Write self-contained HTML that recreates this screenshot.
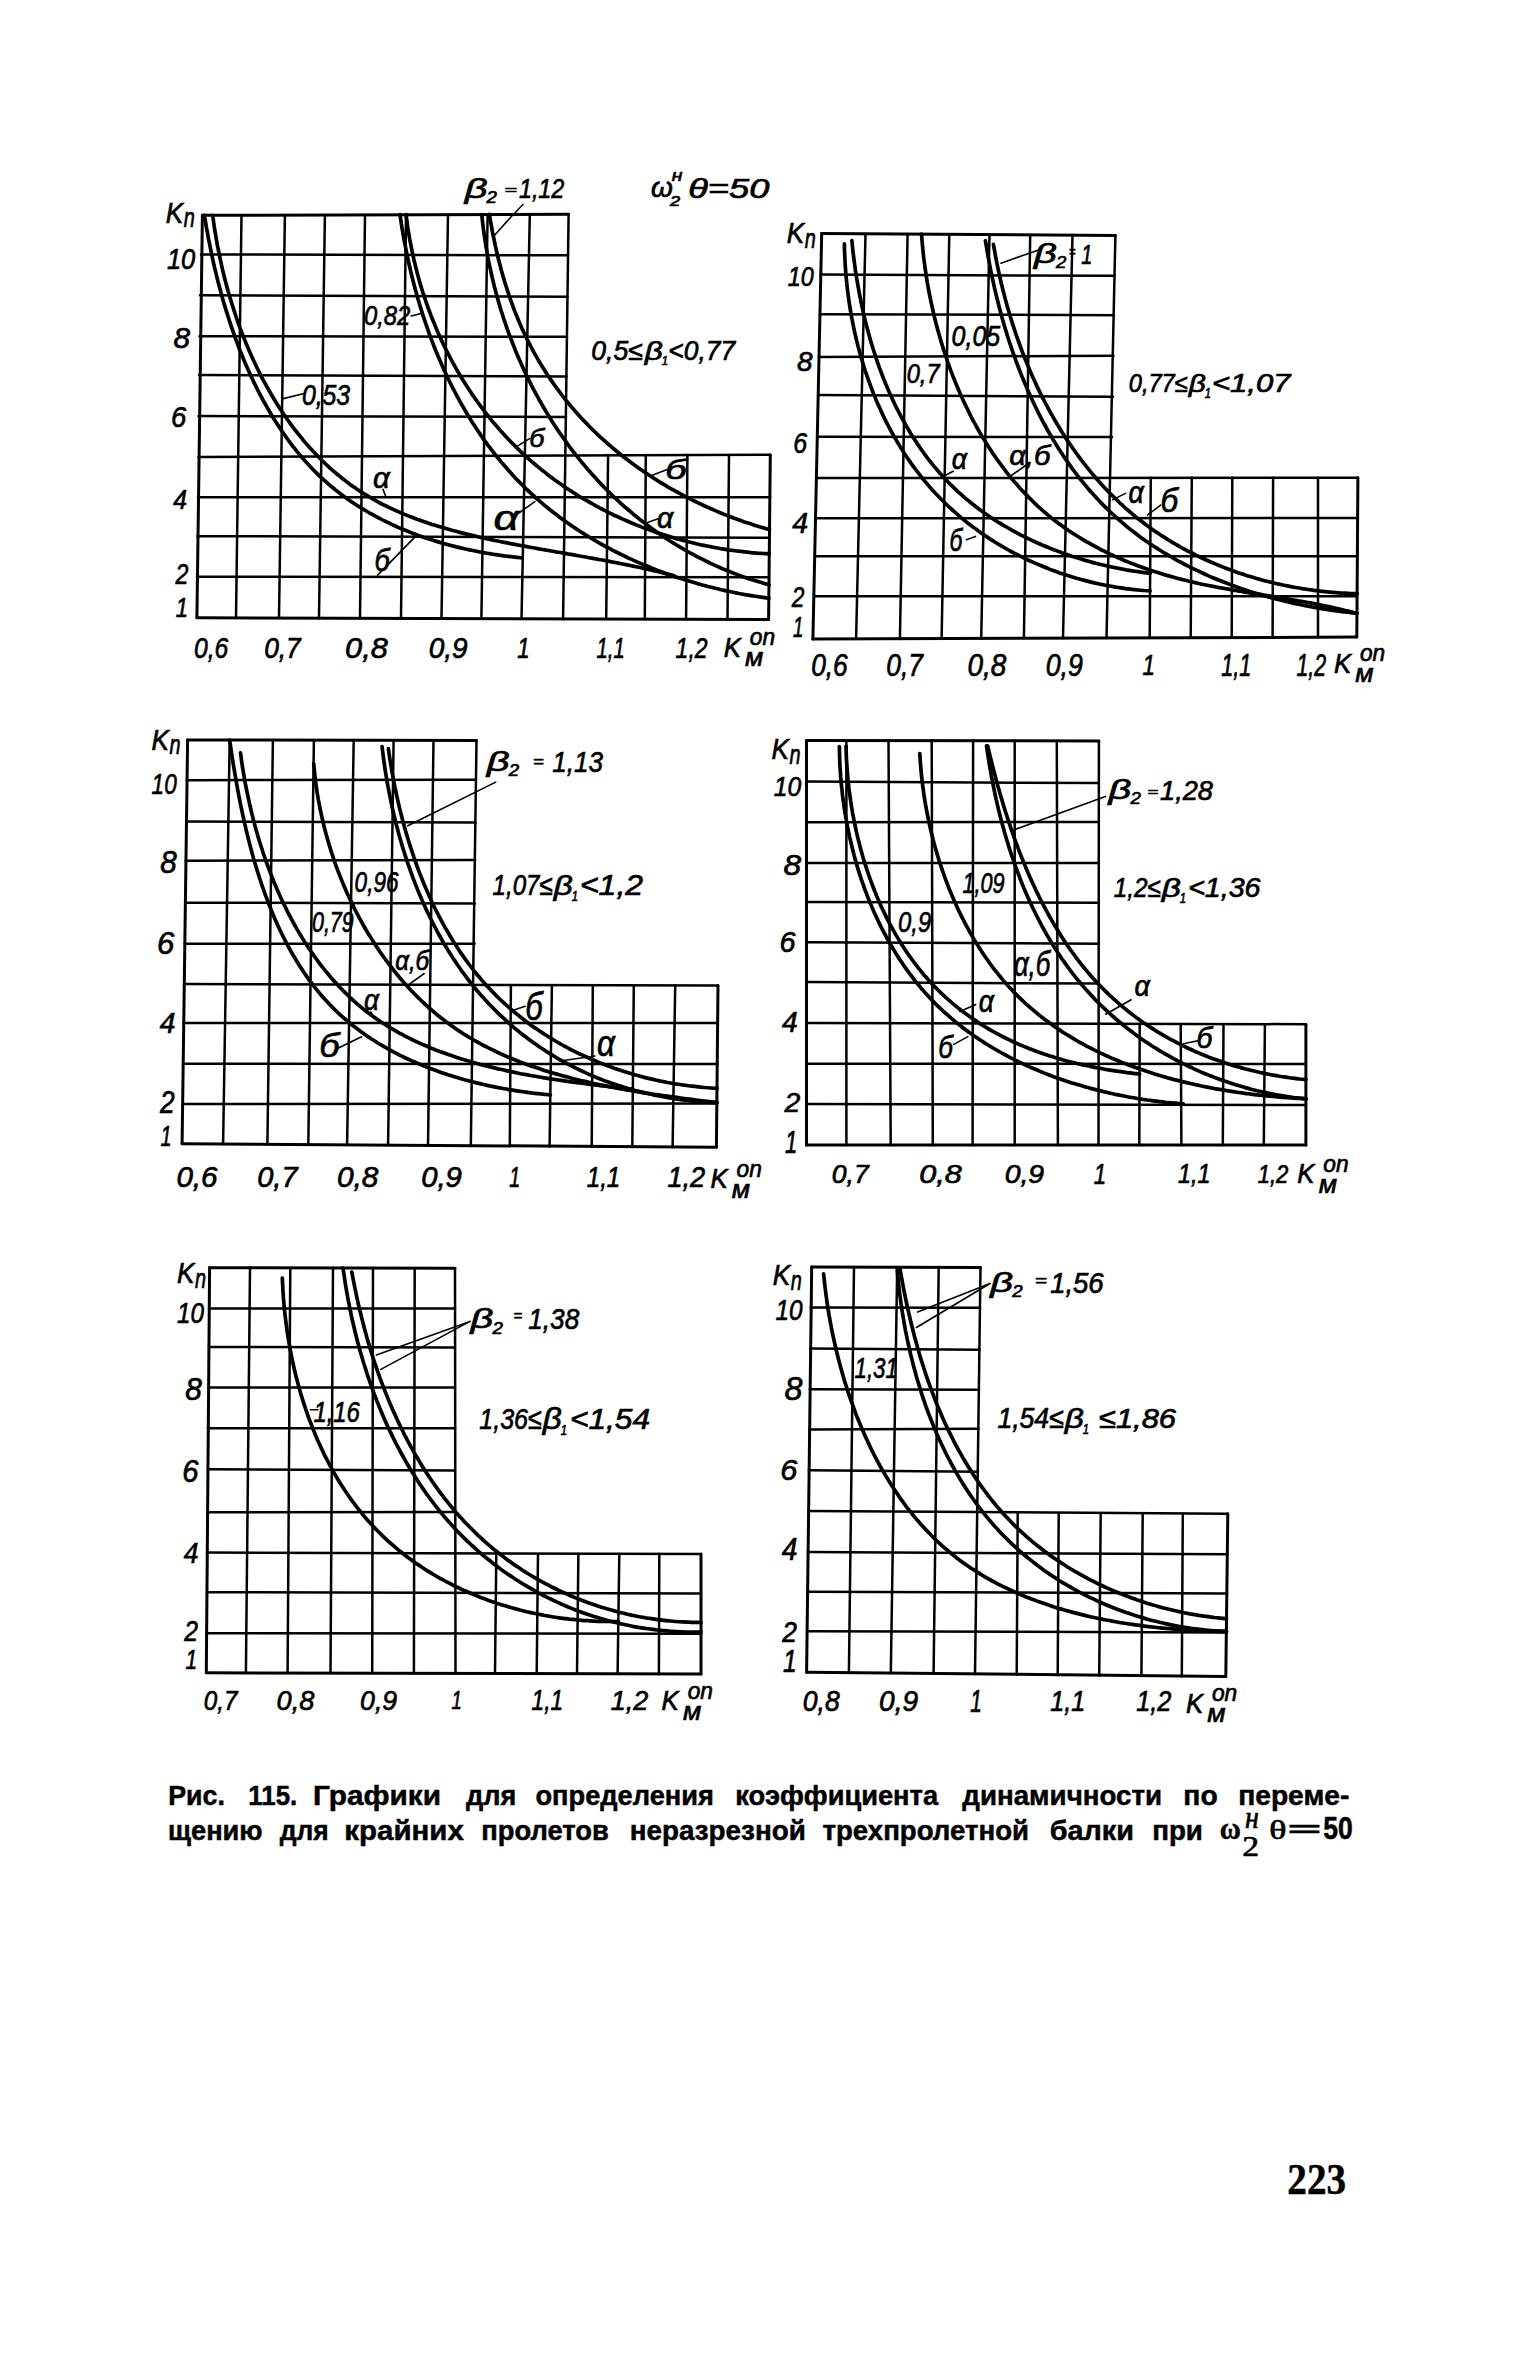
<!DOCTYPE html>
<html><head><meta charset="utf-8"><style>
html,body{margin:0;padding:0;background:#fff;}
body{width:1535px;height:2362px;overflow:hidden;position:relative;font-family:"Liberation Sans",sans-serif;}
svg{position:absolute;left:0;top:0;}
</style></head><body>
<svg width="1535" height="2362" viewBox="0 0 1535 2362">
<g stroke="#000" stroke-linecap="round" fill="none">
<line x1="202.4" y1="215.3" x2="196.9" y2="617.8" stroke-width="3"/>
<line x1="241.5" y1="215" x2="236" y2="618" stroke-width="2.5"/>
<line x1="284.9" y1="215" x2="279" y2="618" stroke-width="2.5"/>
<line x1="324.9" y1="215" x2="319" y2="618" stroke-width="2.5"/>
<line x1="365" y1="215" x2="360" y2="618" stroke-width="2.5"/>
<line x1="406" y1="215" x2="401" y2="618" stroke-width="2.5"/>
<line x1="448" y1="215" x2="441.5" y2="618" stroke-width="2.5"/>
<line x1="487.6" y1="215" x2="481.4" y2="618" stroke-width="2.5"/>
<line x1="529.8" y1="215" x2="521.5" y2="619" stroke-width="2.5"/>
<line x1="568.6" y1="214.3" x2="563.1" y2="619" stroke-width="2.5"/>
<line x1="608.1" y1="455" x2="606.2" y2="619" stroke-width="2.5"/>
<line x1="645.8" y1="455" x2="644.8" y2="619" stroke-width="2.5"/>
<line x1="687.4" y1="455" x2="686.1" y2="619" stroke-width="2.5"/>
<line x1="729" y1="455" x2="727.5" y2="619" stroke-width="2.5"/>
<line x1="770.3" y1="455" x2="768.6" y2="619.4" stroke-width="3"/>
<line x1="202.4" y1="215.3" x2="568.6" y2="214.3" stroke-width="3"/>
<line x1="201" y1="254.4" x2="568" y2="255.3" stroke-width="2.5"/>
<line x1="200" y1="295.2" x2="567.5" y2="296.8" stroke-width="2.5"/>
<line x1="199.5" y1="336.3" x2="567" y2="336.7" stroke-width="2.5"/>
<line x1="199" y1="375" x2="566.5" y2="376.6" stroke-width="2.5"/>
<line x1="198.5" y1="416" x2="566" y2="417" stroke-width="2.5"/>
<line x1="198.5" y1="457" x2="770.3" y2="454.8" stroke-width="2.5"/>
<line x1="198" y1="497.3" x2="770" y2="497.3" stroke-width="2.5"/>
<line x1="197.5" y1="536.2" x2="769.5" y2="537.7" stroke-width="2.5"/>
<line x1="197" y1="576.8" x2="769" y2="577.3" stroke-width="2.5"/>
<line x1="196.9" y1="617.8" x2="768.6" y2="619.4" stroke-width="3"/>
<line x1="821.7" y1="233.5" x2="812.9" y2="639.1" stroke-width="3"/>
<line x1="865.5" y1="234" x2="856.1" y2="639" stroke-width="2.5"/>
<line x1="907.6" y1="234" x2="899.9" y2="639" stroke-width="2.5"/>
<line x1="949.3" y1="234" x2="941.6" y2="638.5" stroke-width="2.5"/>
<line x1="989.5" y1="234.5" x2="981.2" y2="638.5" stroke-width="2.5"/>
<line x1="1030.2" y1="235" x2="1023.9" y2="638" stroke-width="2.5"/>
<line x1="1072.5" y1="235" x2="1063" y2="638" stroke-width="2.5"/>
<line x1="1115.4" y1="235.5" x2="1106.5" y2="638" stroke-width="2.5"/>
<line x1="1150.8" y1="477.7" x2="1149.7" y2="637.5" stroke-width="2.5"/>
<line x1="1191.8" y1="477.7" x2="1190.7" y2="637.5" stroke-width="2.5"/>
<line x1="1232.3" y1="477.7" x2="1231.7" y2="637.3" stroke-width="2.5"/>
<line x1="1273.1" y1="477.7" x2="1272.6" y2="637.2" stroke-width="2.5"/>
<line x1="1318" y1="477.7" x2="1318" y2="637.1" stroke-width="2.5"/>
<line x1="1357.9" y1="477.7" x2="1356.8" y2="637.1" stroke-width="3"/>
<line x1="821.7" y1="233.5" x2="1115.4" y2="235.5" stroke-width="3"/>
<line x1="820.5" y1="274.6" x2="1114.5" y2="275.8" stroke-width="2.5"/>
<line x1="820" y1="314.2" x2="1114" y2="315.2" stroke-width="2.5"/>
<line x1="819" y1="357" x2="1113.5" y2="355.7" stroke-width="2.5"/>
<line x1="818.5" y1="395.1" x2="1113" y2="396.7" stroke-width="2.5"/>
<line x1="817.5" y1="436.8" x2="1112" y2="437" stroke-width="2.5"/>
<line x1="816.5" y1="478.1" x2="1357.9" y2="477.7" stroke-width="2.5"/>
<line x1="815.5" y1="518.2" x2="1357.5" y2="518" stroke-width="2.5"/>
<line x1="815" y1="556.3" x2="1357.3" y2="556.3" stroke-width="2.5"/>
<line x1="814" y1="596.3" x2="1357" y2="596.2" stroke-width="2.5"/>
<line x1="812.9" y1="639.1" x2="1356.8" y2="637.1" stroke-width="3"/>
<line x1="187.6" y1="739.9" x2="182.1" y2="1143.8" stroke-width="3"/>
<line x1="229.7" y1="740" x2="223.1" y2="1144" stroke-width="2.5"/>
<line x1="272.9" y1="740" x2="267.4" y2="1144.2" stroke-width="2.5"/>
<line x1="313.9" y1="740" x2="308.3" y2="1144.5" stroke-width="2.5"/>
<line x1="353.7" y1="740" x2="347.1" y2="1144.8" stroke-width="2.5"/>
<line x1="393.6" y1="740.2" x2="388.1" y2="1145" stroke-width="2.5"/>
<line x1="433.5" y1="740.3" x2="428" y2="1145.5" stroke-width="2.5"/>
<line x1="476.5" y1="740.4" x2="470.8" y2="1146" stroke-width="2.5"/>
<line x1="510.9" y1="985.5" x2="509.8" y2="1146.3" stroke-width="2.5"/>
<line x1="551.9" y1="985.5" x2="549.6" y2="1146.5" stroke-width="2.5"/>
<line x1="592.8" y1="985.5" x2="591.7" y2="1146.7" stroke-width="2.5"/>
<line x1="633.8" y1="985.5" x2="632.3" y2="1146.9" stroke-width="2.5"/>
<line x1="675.2" y1="985.5" x2="672.6" y2="1147" stroke-width="2.5"/>
<line x1="718" y1="985.5" x2="716.4" y2="1147.2" stroke-width="3"/>
<line x1="187.6" y1="739.9" x2="476.5" y2="740.4" stroke-width="3"/>
<line x1="186.8" y1="780.2" x2="476" y2="779.8" stroke-width="2.5"/>
<line x1="186.2" y1="821.4" x2="475.5" y2="822.6" stroke-width="2.5"/>
<line x1="185.7" y1="860.7" x2="475.2" y2="860" stroke-width="2.5"/>
<line x1="185.2" y1="902.7" x2="474.9" y2="903.4" stroke-width="2.5"/>
<line x1="184.7" y1="943.7" x2="474.6" y2="943.7" stroke-width="2.5"/>
<line x1="184.3" y1="984" x2="718" y2="985.5" stroke-width="2.5"/>
<line x1="183.6" y1="1023.1" x2="717.6" y2="1023.1" stroke-width="2.5"/>
<line x1="183" y1="1063.7" x2="717.2" y2="1064.1" stroke-width="2.5"/>
<line x1="182.5" y1="1104" x2="716.8" y2="1103.5" stroke-width="2.5"/>
<line x1="182.1" y1="1143.8" x2="716.4" y2="1147.2" stroke-width="3"/>
<line x1="806.5" y1="740.4" x2="806.5" y2="1145" stroke-width="3"/>
<line x1="846.4" y1="740.5" x2="846.4" y2="1145" stroke-width="2.5"/>
<line x1="888.5" y1="740.5" x2="890.7" y2="1145" stroke-width="2.5"/>
<line x1="931.7" y1="740.6" x2="932.8" y2="1145" stroke-width="2.5"/>
<line x1="973.1" y1="740.7" x2="972.6" y2="1145" stroke-width="2.5"/>
<line x1="1014.7" y1="740.8" x2="1014.7" y2="1145" stroke-width="2.5"/>
<line x1="1056.8" y1="740.9" x2="1057.9" y2="1145" stroke-width="2.5"/>
<line x1="1098.9" y1="741" x2="1098.5" y2="1145" stroke-width="2.5"/>
<line x1="1139.7" y1="1024.2" x2="1139.3" y2="1145" stroke-width="2.5"/>
<line x1="1180.7" y1="1024.2" x2="1181.4" y2="1145" stroke-width="2.5"/>
<line x1="1223.5" y1="1024.2" x2="1222.8" y2="1145" stroke-width="2.5"/>
<line x1="1264.9" y1="1024.2" x2="1263.8" y2="1145" stroke-width="2.5"/>
<line x1="1305.9" y1="1024.2" x2="1305.9" y2="1145" stroke-width="3"/>
<line x1="806.5" y1="740.4" x2="1098.9" y2="741" stroke-width="3"/>
<line x1="806.5" y1="781.6" x2="1098.9" y2="783.1" stroke-width="2.5"/>
<line x1="806.5" y1="822.3" x2="1098.9" y2="821.9" stroke-width="2.5"/>
<line x1="806.5" y1="862.9" x2="1098.9" y2="862.9" stroke-width="2.5"/>
<line x1="806.5" y1="902.1" x2="1098.9" y2="902.7" stroke-width="2.5"/>
<line x1="806.5" y1="942.2" x2="1098.9" y2="943.7" stroke-width="2.5"/>
<line x1="806.5" y1="982" x2="1098.9" y2="983.6" stroke-width="2.5"/>
<line x1="806.5" y1="1023.1" x2="1305.9" y2="1024.2" stroke-width="2.5"/>
<line x1="806.5" y1="1063.7" x2="1305.9" y2="1064.1" stroke-width="2.5"/>
<line x1="806.5" y1="1104" x2="1305.9" y2="1105.1" stroke-width="2.5"/>
<line x1="806.5" y1="1145" x2="1305.9" y2="1145" stroke-width="3"/>
<line x1="209.6" y1="1267.7" x2="206.3" y2="1672.8" stroke-width="3"/>
<line x1="250" y1="1267.8" x2="245.9" y2="1672.9" stroke-width="2.5"/>
<line x1="290.3" y1="1267.9" x2="287.6" y2="1673" stroke-width="2.5"/>
<line x1="333" y1="1268" x2="330.5" y2="1673.1" stroke-width="2.5"/>
<line x1="373" y1="1268.1" x2="372.2" y2="1673.2" stroke-width="2.5"/>
<line x1="414.7" y1="1268.2" x2="413.9" y2="1673.3" stroke-width="2.5"/>
<line x1="455" y1="1268.3" x2="455.5" y2="1673.4" stroke-width="2.5"/>
<line x1="496.3" y1="1554" x2="495" y2="1673.5" stroke-width="2.5"/>
<line x1="538" y1="1554" x2="536.7" y2="1673.6" stroke-width="2.5"/>
<line x1="578.4" y1="1554" x2="577" y2="1673.7" stroke-width="2.5"/>
<line x1="619.3" y1="1554" x2="617.6" y2="1673.8" stroke-width="2.5"/>
<line x1="659.3" y1="1554" x2="658.9" y2="1673.9" stroke-width="2.5"/>
<line x1="701" y1="1554" x2="701" y2="1673.9" stroke-width="3"/>
<line x1="209.6" y1="1267.7" x2="455" y2="1268.3" stroke-width="3"/>
<line x1="209" y1="1308.4" x2="455" y2="1308.4" stroke-width="2.5"/>
<line x1="208.8" y1="1346.9" x2="455" y2="1347.6" stroke-width="2.5"/>
<line x1="208.5" y1="1387.6" x2="455" y2="1387.6" stroke-width="2.5"/>
<line x1="208" y1="1428.2" x2="455" y2="1428.2" stroke-width="2.5"/>
<line x1="207.7" y1="1469.3" x2="455" y2="1470.6" stroke-width="2.5"/>
<line x1="207.3" y1="1512.3" x2="455" y2="1512" stroke-width="2.5"/>
<line x1="207" y1="1552.5" x2="701" y2="1554" stroke-width="2.5"/>
<line x1="206.8" y1="1592.2" x2="701" y2="1593.6" stroke-width="2.5"/>
<line x1="206.5" y1="1633.2" x2="701" y2="1633.8" stroke-width="2.5"/>
<line x1="206.3" y1="1672.8" x2="701" y2="1673.9" stroke-width="3"/>
<line x1="811.7" y1="1266.9" x2="806.6" y2="1672.2" stroke-width="3"/>
<line x1="854" y1="1267" x2="848.9" y2="1672.5" stroke-width="2.5"/>
<line x1="897.2" y1="1267.1" x2="890.8" y2="1673" stroke-width="2.5"/>
<line x1="938.7" y1="1267.3" x2="933.6" y2="1673.5" stroke-width="2.5"/>
<line x1="980.5" y1="1267.6" x2="975" y2="1674" stroke-width="2.5"/>
<line x1="1017.7" y1="1513.5" x2="1016.7" y2="1674.5" stroke-width="2.5"/>
<line x1="1058.7" y1="1513.5" x2="1057.7" y2="1675" stroke-width="2.5"/>
<line x1="1100.7" y1="1513.5" x2="1099.2" y2="1675.5" stroke-width="2.5"/>
<line x1="1142.7" y1="1513.6" x2="1141.4" y2="1676" stroke-width="2.5"/>
<line x1="1182.8" y1="1513.7" x2="1181.8" y2="1676.2" stroke-width="2.5"/>
<line x1="1227.8" y1="1513.7" x2="1225.8" y2="1676.4" stroke-width="3"/>
<line x1="811.7" y1="1266.9" x2="980.5" y2="1267.6" stroke-width="3"/>
<line x1="810.8" y1="1307.6" x2="980" y2="1307.7" stroke-width="2.5"/>
<line x1="810.3" y1="1348.6" x2="979.5" y2="1349.7" stroke-width="2.5"/>
<line x1="809.8" y1="1389.2" x2="979" y2="1389.7" stroke-width="2.5"/>
<line x1="809.3" y1="1429.5" x2="978.5" y2="1428.8" stroke-width="2.5"/>
<line x1="808.8" y1="1470.2" x2="978" y2="1471.8" stroke-width="2.5"/>
<line x1="808.3" y1="1511" x2="1227.8" y2="1513.7" stroke-width="2.5"/>
<line x1="807.8" y1="1552" x2="1227.5" y2="1554.3" stroke-width="2.5"/>
<line x1="807.3" y1="1591.8" x2="1227" y2="1593.4" stroke-width="2.5"/>
<line x1="807" y1="1631.3" x2="1226.5" y2="1632.4" stroke-width="2.5"/>
<line x1="806.6" y1="1672.2" x2="1225.8" y2="1676.4" stroke-width="3"/>
</g>
<g stroke="#000" stroke-linecap="round" stroke-linejoin="round" fill="none">
<path d="M204.4,215.4 C204.6,216.3 205,219.1 205.4,221 C205.7,222.9 206,224.9 206.3,226.8 C206.7,228.7 207,230.6 207.4,232.5 C207.7,234.5 208.1,236.4 208.4,238.3 C208.8,240.3 209.2,242.2 209.6,244.2 C210,246.1 210.3,248.1 210.8,250 C211.2,252 211.6,253.9 212,255.9 C212.4,257.9 212.8,259.8 213.3,261.8 C213.7,263.8 214.2,265.7 214.6,267.7 C215.1,269.7 215.6,271.7 216.1,273.7 C216.5,275.6 217,277.6 217.5,279.6 C218,281.6 218.5,283.6 219.1,285.6 C219.6,287.5 220.1,289.5 220.7,291.5 C221.2,293.5 221.8,295.5 222.3,297.5 C222.9,299.5 223.4,301.4 224,303.4 C224.6,305.4 225.2,307.4 225.8,309.4 C226.4,311.4 227,313.3 227.7,315.3 C228.3,317.3 228.9,319.3 229.6,321.3 C230.2,323.2 230.9,325.2 231.5,327.2 C232.2,329.1 232.9,331.1 233.6,333.1 C234.3,335 235,337 235.7,339 C236.4,340.9 237.1,342.9 237.9,344.8 C238.6,346.8 239.4,348.7 240.1,350.6 C240.9,352.6 241.7,354.5 242.5,356.4 C243.2,358.4 244,360.3 244.8,362.2 C245.7,364.1 246.5,366 247.3,367.9 C248.1,369.8 249,371.7 249.9,373.6 C250.7,375.5 251.6,377.4 252.5,379.3 C253.4,381.1 254.2,383 255.2,384.8 C256.1,386.7 257,388.6 257.9,390.4 C258.9,392.2 259.8,394.1 260.8,395.9 C261.7,397.7 262.7,399.5 263.7,401.3 C264.7,403.1 265.7,404.9 266.7,406.7 C267.7,408.5 268.7,410.2 269.8,412 C270.8,413.8 271.8,415.5 272.9,417.3 C274,419 275.1,420.7 276.2,422.4 C277.2,424.1 278.4,425.8 279.5,427.5 C280.6,429.2 281.7,430.9 282.9,432.6 C284,434.2 285.2,435.9 286.4,437.5 C287.5,439.1 288.7,440.8 289.9,442.4 C291.1,444 292.4,445.6 293.6,447.2 C294.8,448.7 296.1,450.3 297.3,451.9 C298.6,453.4 299.9,454.9 301.2,456.5 C302.5,458 303.8,459.5 305.1,461 C306.4,462.4 307.8,463.9 309.1,465.4 C310.5,466.8 311.8,468.3 313.2,469.7 C314.6,471.1 316,472.5 317.4,473.9 C318.8,475.3 320.2,476.6 321.7,478 C323.1,479.3 324.6,480.6 326.1,481.9 C327.5,483.3 329,484.5 330.5,485.8 C332,487.1 333.6,488.3 335.1,489.6 C336.6,490.8 338.2,492 339.7,493.2 C341.3,494.4 342.9,495.6 344.5,496.8 C346.1,497.9 347.7,499.1 349.3,500.2 C350.9,501.3 352.5,502.4 354.2,503.5 C355.8,504.6 357.5,505.7 359.2,506.7 C360.8,507.8 362.5,508.8 364.2,509.8 C365.9,510.9 367.6,511.9 369.3,512.8 C371.1,513.8 372.8,514.8 374.5,515.7 C376.3,516.7 378,517.6 379.8,518.5 C381.6,519.5 383.3,520.4 385.1,521.2 C386.9,522.1 388.7,523 390.5,523.8 C392.3,524.7 394.2,525.5 396,526.3 C397.8,527.2 399.7,528 401.5,528.7 C403.4,529.5 405.2,530.3 407.1,531 C409,531.8 410.8,532.5 412.7,533.3 C414.6,534 416.5,534.7 418.4,535.4 C420.3,536.1 422.2,536.7 424.1,537.4 C426.1,538 428,538.7 429.9,539.3 C431.9,539.9 433.8,540.6 435.7,541.1 C437.7,541.7 439.7,542.3 441.6,542.9 C443.6,543.5 445.6,544 447.5,544.5 C449.5,545.1 451.5,545.6 453.5,546.1 C455.5,546.6 457.5,547.1 459.5,547.6 C461.5,548.1 463.5,548.5 465.5,549 C467.5,549.4 469.5,549.9 471.5,550.3 C473.6,550.7 475.6,551.1 477.6,551.5 C479.7,551.9 481.7,552.3 483.7,552.7 C485.8,553 487.8,553.4 489.9,553.7 C491.9,554 494,554.4 496,554.7 C498.1,555 500.1,555.3 502.2,555.6 C504.3,555.9 506.3,556.1 508.4,556.4 C510.5,556.7 512.5,556.9 514.6,557.1 C516.7,557.4 519.8,557.7 520.8,557.8" stroke-width="3.7"/>
<path d="M212.7,215.3 C212.8,216.2 213.2,219.2 213.5,221.1 C213.7,223.1 214,225.1 214.3,227 C214.6,229 214.9,231 215.3,232.9 C215.6,234.9 215.9,236.9 216.3,238.9 C216.6,240.8 217,242.8 217.3,244.8 C217.7,246.8 218.1,248.8 218.5,250.7 C218.9,252.7 219.3,254.7 219.7,256.7 C220.1,258.7 220.5,260.7 221,262.6 C221.4,264.6 221.8,266.6 222.3,268.6 C222.8,270.6 223.3,272.6 223.7,274.5 C224.2,276.5 224.7,278.5 225.2,280.5 C225.8,282.5 226.3,284.5 226.8,286.4 C227.4,288.4 227.9,290.4 228.5,292.4 C229,294.3 229.6,296.3 230.2,298.3 C230.8,300.3 231.4,302.2 232,304.2 C232.6,306.1 233.2,308.1 233.9,310.1 C234.5,312 235.2,314 235.8,315.9 C236.5,317.9 237.2,319.8 237.8,321.8 C238.5,323.7 239.2,325.6 239.9,327.6 C240.7,329.5 241.4,331.4 242.1,333.4 C242.9,335.3 243.6,337.2 244.4,339.1 C245.1,341 245.9,342.9 246.7,344.8 C247.5,346.7 248.3,348.6 249.1,350.5 C249.9,352.4 250.8,354.3 251.6,356.2 C252.4,358 253.3,359.9 254.2,361.8 C255,363.6 255.9,365.5 256.8,367.3 C257.7,369.1 258.6,371 259.5,372.8 C260.4,374.6 261.4,376.5 262.3,378.3 C263.3,380.1 264.2,381.9 265.2,383.7 C266.2,385.5 267.2,387.2 268.2,389 C269.2,390.8 270.2,392.6 271.2,394.3 C272.2,396.1 273.3,397.8 274.3,399.5 C275.4,401.3 276.4,403 277.5,404.7 C278.6,406.4 279.7,408.1 280.8,409.8 C281.9,411.5 283,413.2 284.1,414.8 C285.3,416.5 286.4,418.1 287.6,419.8 C288.7,421.4 289.9,423 291.1,424.7 C292.3,426.3 293.5,427.9 294.7,429.5 C295.9,431 297.2,432.6 298.4,434.2 C299.6,435.7 300.9,437.3 302.2,438.8 C303.4,440.4 304.7,441.9 306,443.4 C307.3,444.9 308.6,446.4 310,447.9 C311.3,449.3 312.6,450.8 314,452.2 C315.3,453.7 316.7,455.1 318.1,456.5 C319.5,457.9 320.9,459.3 322.3,460.7 C323.7,462.1 325.1,463.4 326.5,464.8 C328,466.1 329.4,467.5 330.9,468.8 C332.4,470.1 333.9,471.4 335.3,472.7 C336.8,473.9 338.4,475.2 339.9,476.4 C341.4,477.7 342.9,478.9 344.5,480.1 C346,481.3 347.6,482.5 349.2,483.7 C350.8,484.8 352.4,486 354,487.1 C355.6,488.2 357.2,489.4 358.9,490.4 C360.5,491.5 362.1,492.6 363.8,493.6 C365.5,494.7 367.2,495.7 368.9,496.7 C370.6,497.7 372.3,498.7 374,499.7 C375.7,500.7 377.5,501.6 379.2,502.5 C381,503.5 382.7,504.4 384.5,505.3 C386.3,506.1 388.1,507 389.9,507.9 C391.7,508.7 393.5,509.6 395.3,510.4 C397.1,511.2 399,512 400.8,512.8 C402.7,513.6 404.5,514.4 406.4,515.1 C408.3,515.9 410.1,516.6 412,517.3 C413.9,518.1 415.8,518.8 417.7,519.5 C419.6,520.1 421.5,520.8 423.5,521.5 C425.4,522.2 427.3,522.8 429.2,523.4 C431.2,524.1 433.1,524.7 435.1,525.3 C437,525.9 439,526.5 440.9,527.1 C442.9,527.7 444.9,528.3 446.9,528.8 C448.8,529.4 450.8,530 452.8,530.5 C454.8,531 456.8,531.6 458.8,532.1 C460.8,532.6 462.8,533.1 464.8,533.6 C466.8,534.1 468.8,534.6 470.8,535.1 C472.8,535.6 474.8,536.1 476.9,536.5 C478.9,537 480.9,537.4 482.9,537.9 C485,538.3 487,538.8 489,539.2 C491,539.6 493.1,540.1 495.1,540.5 C497.1,540.9 499.1,541.3 501.2,541.7 C503.2,542.1 505.2,542.6 507.3,542.9 C509.3,543.3 511.3,543.7 513.4,544.1 C515.4,544.5 517.4,544.9 519.4,545.3 C521.5,545.7 523.5,546 525.5,546.4 C527.5,546.8 529.6,547.1 531.6,547.5 C533.6,547.9 535.6,548.2 537.6,548.6 C539.6,549 541.6,549.3 543.7,549.7 C545.7,550 547.7,550.4 549.7,550.7 C551.7,551.1 553.7,551.4 555.7,551.8 C557.7,552.1 559.7,552.5 561.7,552.8 C563.7,553.2 565.7,553.5 567.7,553.9 C569.7,554.2 571.7,554.6 573.7,554.9 C575.7,555.3 577.7,555.6 579.7,556 C581.6,556.3 583.6,556.7 585.6,557 C587.6,557.4 589.6,557.8 591.6,558.1 C593.6,558.5 595.5,558.8 597.5,559.2 C599.5,559.6 601.5,559.9 603.5,560.3 C605.4,560.7 607.4,561 609.4,561.4 C611.3,561.8 613.3,562.2 615.3,562.5 C617.3,562.9 619.2,563.3 621.2,563.7 C623.2,564.1 625.1,564.5 627.1,564.9 C629.1,565.3 631,565.7 633,566.1 C634.9,566.5 636.9,566.9 638.9,567.3 C640.8,567.8 642.8,568.2 644.7,568.6 C646.7,569.1 648.6,569.5 650.6,570 C652.6,570.4 654.5,570.9 656.5,571.3 C658.4,571.8 660.4,572.2 662.3,572.7 C664.2,573.2 666.2,573.7 668.1,574.2 C670.1,574.7 673,575.4 674,575.7" stroke-width="3.7"/>
<path d="M400,214.7 C400.1,215.7 400.6,218.7 400.9,220.7 C401.2,222.7 401.5,224.8 401.8,226.8 C402.2,228.8 402.5,230.8 402.9,232.8 C403.2,234.9 403.6,236.9 403.9,238.9 C404.3,240.9 404.7,242.9 405.1,244.9 C405.5,247 405.8,249 406.3,251 C406.7,253 407.1,255 407.5,257 C407.9,259 408.4,261 408.8,263 C409.3,265 409.7,267 410.2,269 C410.6,271 411.1,273 411.6,275 C412.1,277 412.6,279 413.1,281 C413.6,283 414.1,284.9 414.6,286.9 C415.2,288.9 415.7,290.9 416.3,292.9 C416.8,294.8 417.4,296.8 417.9,298.8 C418.5,300.7 419.1,302.7 419.7,304.7 C420.3,306.6 420.9,308.6 421.5,310.5 C422.1,312.5 422.7,314.4 423.3,316.4 C424,318.3 424.6,320.3 425.3,322.2 C425.9,324.1 426.6,326.1 427.3,328 C427.9,329.9 428.6,331.8 429.3,333.8 C430,335.7 430.7,337.6 431.4,339.5 C432.2,341.4 432.9,343.3 433.6,345.2 C434.4,347.1 435.1,349 435.9,350.9 C436.6,352.7 437.4,354.6 438.2,356.5 C439,358.4 439.8,360.2 440.6,362.1 C441.4,363.9 442.2,365.8 443,367.6 C443.9,369.5 444.7,371.3 445.6,373.2 C446.4,375 447.3,376.8 448.2,378.6 C449,380.5 449.9,382.3 450.8,384.1 C451.7,385.9 452.6,387.7 453.6,389.5 C454.5,391.3 455.4,393.1 456.4,394.8 C457.3,396.6 458.3,398.4 459.2,400.1 C460.2,401.9 461.2,403.7 462.2,405.4 C463.2,407.1 464.2,408.9 465.2,410.6 C466.2,412.3 467.2,414.1 468.3,415.8 C469.3,417.5 470.4,419.2 471.4,420.9 C472.5,422.6 473.6,424.3 474.7,425.9 C475.7,427.6 476.8,429.3 478,430.9 C479.1,432.6 480.2,434.2 481.3,435.9 C482.5,437.5 483.6,439.2 484.8,440.8 C486,442.4 487.1,444 488.3,445.6 C489.5,447.2 490.7,448.8 491.9,450.4 C493.1,452 494.4,453.5 495.6,455.1 C496.8,456.6 498.1,458.2 499.3,459.7 C500.6,461.3 501.9,462.8 503.2,464.3 C504.5,465.8 505.8,467.3 507.1,468.8 C508.4,470.3 509.7,471.8 511.1,473.3 C512.4,474.8 513.7,476.2 515.1,477.7 C516.5,479.1 517.9,480.6 519.3,482 C520.6,483.4 522,484.8 523.5,486.2 C524.9,487.6 526.3,489 527.8,490.4 C529.2,491.8 530.7,493.1 532.1,494.5 C533.6,495.8 535.1,497.2 536.6,498.5 C538.1,499.8 539.6,501.1 541.1,502.4 C542.6,503.7 544.2,505 545.7,506.3 C547.3,507.6 548.8,508.8 550.4,510.1 C552,511.3 553.6,512.6 555.2,513.8 C556.8,515 558.4,516.2 560,517.4 C561.6,518.6 563.2,519.8 564.9,521 C566.5,522.2 568.2,523.3 569.8,524.5 C571.5,525.6 573.2,526.8 574.9,527.9 C576.5,529 578.2,530.1 579.9,531.2 C581.6,532.3 583.4,533.4 585.1,534.5 C586.8,535.6 588.5,536.6 590.3,537.7 C592,538.7 593.8,539.8 595.5,540.8 C597.3,541.8 599.1,542.8 600.9,543.8 C602.6,544.8 604.4,545.8 606.2,546.8 C608,547.7 609.8,548.7 611.6,549.6 C613.4,550.6 615.3,551.5 617.1,552.4 C618.9,553.4 620.7,554.3 622.6,555.2 C624.4,556.1 626.3,556.9 628.1,557.8 C630,558.7 631.9,559.5 633.7,560.4 C635.6,561.2 637.5,562 639.4,562.9 C641.2,563.7 643.1,564.5 645,565.3 C646.9,566.1 648.8,566.9 650.7,567.6 C652.6,568.4 654.5,569.1 656.4,569.9 C658.4,570.6 660.3,571.4 662.2,572.1 C664.1,572.8 666.1,573.5 668,574.2 C669.9,574.9 671.9,575.5 673.8,576.2 C675.8,576.9 677.7,577.5 679.7,578.2 C681.6,578.8 683.6,579.4 685.5,580 C687.5,580.6 689.5,581.2 691.4,581.8 C693.4,582.4 695.4,583 697.3,583.6 C699.3,584.1 701.3,584.7 703.2,585.2 C705.2,585.7 707.2,586.3 709.2,586.8 C711.2,587.3 713.1,587.8 715.1,588.3 C717.1,588.7 719.1,589.2 721.1,589.7 C723.1,590.1 725.1,590.6 727.1,591 C729,591.4 731,591.9 733,592.3 C735,592.7 737,593.1 739,593.5 C741,593.8 743,594.2 745,594.6 C747,594.9 749,595.3 751,595.6 C753,595.9 755,596.2 756.9,596.5 C758.9,596.8 760.9,597.1 762.9,597.4 C764.9,597.7 767.9,598.1 768.9,598.2" stroke-width="3.7"/>
<path d="M406.1,214.7 C406.2,215.7 406.6,218.8 406.9,220.8 C407.2,222.8 407.4,224.9 407.7,226.9 C408,229 408.4,231 408.7,233 C409,235.1 409.4,237.1 409.7,239.1 C410.1,241.2 410.5,243.2 410.9,245.2 C411.3,247.2 411.7,249.3 412.1,251.3 C412.5,253.3 412.9,255.3 413.4,257.3 C413.8,259.3 414.3,261.3 414.8,263.3 C415.3,265.3 415.7,267.3 416.3,269.3 C416.8,271.3 417.3,273.3 417.8,275.2 C418.4,277.2 418.9,279.2 419.5,281.2 C420,283.1 420.6,285.1 421.2,287.1 C421.8,289 422.4,291 423,292.9 C423.7,294.9 424.3,296.8 425,298.8 C425.6,300.7 426.3,302.6 427,304.6 C427.6,306.5 428.3,308.4 429,310.3 C429.8,312.2 430.5,314.2 431.2,316.1 C432,318 432.7,319.9 433.5,321.7 C434.2,323.6 435,325.5 435.8,327.4 C436.6,329.3 437.4,331.1 438.2,333 C439.1,334.9 439.9,336.7 440.7,338.6 C441.6,340.4 442.5,342.3 443.3,344.1 C444.2,345.9 445.1,347.7 446,349.6 C446.9,351.4 447.8,353.2 448.8,355 C449.7,356.8 450.6,358.6 451.6,360.4 C452.6,362.2 453.5,363.9 454.5,365.7 C455.5,367.5 456.5,369.2 457.5,371 C458.5,372.7 459.6,374.5 460.6,376.2 C461.6,377.9 462.7,379.7 463.8,381.4 C464.8,383.1 465.9,384.8 467,386.5 C468.1,388.2 469.2,389.9 470.3,391.5 C471.4,393.2 472.6,394.9 473.7,396.5 C474.9,398.2 476,399.9 477.2,401.5 C478.4,403.1 479.6,404.7 480.8,406.4 C482,408 483.2,409.6 484.4,411.2 C485.6,412.8 486.9,414.4 488.1,415.9 C489.4,417.5 490.6,419.1 491.9,420.6 C493.2,422.2 494.5,423.7 495.8,425.2 C497.1,426.8 498.4,428.3 499.7,429.8 C501.1,431.3 502.4,432.8 503.8,434.3 C505.1,435.7 506.5,437.2 507.9,438.7 C509.2,440.1 510.6,441.6 512,443 C513.4,444.4 514.9,445.9 516.3,447.3 C517.7,448.7 519.2,450.1 520.6,451.5 C522.1,452.8 523.5,454.2 525,455.6 C526.5,456.9 528,458.3 529.5,459.6 C531,460.9 532.5,462.2 534,463.5 C535.6,464.9 537.1,466.1 538.7,467.4 C540.2,468.7 541.8,470 543.4,471.2 C544.9,472.5 546.5,473.7 548.1,474.9 C549.7,476.1 551.3,477.4 552.9,478.6 C554.6,479.8 556.2,480.9 557.8,482.1 C559.5,483.3 561.1,484.4 562.8,485.6 C564.5,486.7 566.1,487.9 567.8,489 C569.5,490.1 571.2,491.2 572.9,492.3 C574.6,493.4 576.3,494.4 578,495.5 C579.7,496.6 581.5,497.6 583.2,498.6 C584.9,499.7 586.7,500.7 588.5,501.7 C590.2,502.7 592,503.7 593.7,504.7 C595.5,505.7 597.3,506.6 599.1,507.6 C600.9,508.5 602.7,509.5 604.5,510.4 C606.3,511.3 608.1,512.2 609.9,513.1 C611.8,514 613.6,514.9 615.4,515.8 C617.3,516.6 619.1,517.5 621,518.3 C622.8,519.2 624.7,520 626.6,520.8 C628.4,521.6 630.3,522.4 632.2,523.2 C634.1,524 636,524.7 637.9,525.5 C639.8,526.2 641.7,527 643.6,527.7 C645.5,528.4 647.4,529.1 649.3,529.8 C651.2,530.5 653.1,531.2 655.1,531.9 C657,532.6 658.9,533.2 660.9,533.8 C662.8,534.5 664.8,535.1 666.7,535.7 C668.7,536.3 670.6,536.9 672.6,537.5 C674.6,538.1 676.5,538.6 678.5,539.2 C680.5,539.7 682.4,540.3 684.4,540.8 C686.4,541.3 688.4,541.8 690.4,542.3 C692.4,542.8 694.4,543.3 696.4,543.8 C698.4,544.2 700.4,544.7 702.4,545.1 C704.4,545.5 706.4,545.9 708.4,546.3 C710.4,546.7 712.4,547.1 714.4,547.5 C716.4,547.9 718.5,548.2 720.5,548.6 C722.5,548.9 724.5,549.2 726.5,549.6 C728.6,549.9 730.6,550.2 732.6,550.4 C734.7,550.7 736.7,551 738.7,551.2 C740.8,551.5 742.8,551.7 744.8,551.9 C746.9,552.2 748.9,552.4 751,552.6 C753,552.7 755,552.9 757.1,553.1 C759.1,553.2 761.2,553.4 763.2,553.5 C765.3,553.6 768.3,553.8 769.3,553.8" stroke-width="3.7"/>
<path d="M481.8,214.5 C481.9,215.5 482.2,218.5 482.4,220.6 C482.6,222.6 482.9,224.6 483.1,226.6 C483.4,228.6 483.6,230.7 483.9,232.7 C484.2,234.7 484.5,236.7 484.8,238.7 C485.1,240.8 485.4,242.8 485.7,244.8 C486.1,246.8 486.4,248.8 486.8,250.8 C487.1,252.8 487.5,254.8 487.8,256.8 C488.2,258.8 488.6,260.8 489,262.8 C489.4,264.8 489.8,266.8 490.3,268.8 C490.7,270.8 491.1,272.8 491.6,274.8 C492,276.8 492.5,278.8 493,280.7 C493.4,282.7 493.9,284.7 494.4,286.7 C494.9,288.6 495.4,290.6 496,292.6 C496.5,294.6 497,296.5 497.6,298.5 C498.1,300.4 498.7,302.4 499.3,304.4 C499.9,306.3 500.4,308.3 501,310.2 C501.6,312.1 502.3,314.1 502.9,316 C503.5,318 504.1,319.9 504.8,321.8 C505.4,323.7 506.1,325.7 506.8,327.6 C507.4,329.5 508.1,331.4 508.8,333.3 C509.5,335.2 510.2,337.1 511,339 C511.7,340.9 512.4,342.8 513.2,344.7 C513.9,346.6 514.7,348.5 515.4,350.4 C516.2,352.3 517,354.1 517.8,356 C518.6,357.9 519.4,359.7 520.2,361.6 C521,363.4 521.8,365.3 522.7,367.1 C523.5,369 524.4,370.8 525.2,372.6 C526.1,374.5 527,376.3 527.9,378.1 C528.8,379.9 529.7,381.7 530.6,383.5 C531.5,385.3 532.4,387.1 533.3,388.9 C534.3,390.7 535.2,392.5 536.2,394.3 C537.2,396.1 538.1,397.8 539.1,399.6 C540.1,401.4 541.1,403.1 542.1,404.9 C543.1,406.6 544.1,408.4 545.2,410.1 C546.2,411.8 547.2,413.5 548.3,415.3 C549.3,417 550.4,418.7 551.5,420.4 C552.6,422.1 553.6,423.8 554.7,425.5 C555.8,427.2 557,428.8 558.1,430.5 C559.2,432.2 560.3,433.8 561.5,435.5 C562.6,437.1 563.8,438.8 565,440.4 C566.1,442 567.3,443.7 568.5,445.3 C569.7,446.9 570.9,448.5 572.1,450.1 C573.3,451.7 574.6,453.3 575.8,454.9 C577.1,456.4 578.3,458 579.6,459.6 C580.8,461.1 582.1,462.7 583.4,464.2 C584.7,465.8 586,467.3 587.3,468.8 C588.6,470.3 589.9,471.8 591.2,473.3 C592.6,474.8 593.9,476.3 595.3,477.8 C596.6,479.3 598,480.8 599.4,482.2 C600.7,483.7 602.1,485.1 603.5,486.6 C604.9,488 606.3,489.4 607.7,490.8 C609.2,492.3 610.6,493.7 612,495.1 C613.5,496.4 614.9,497.8 616.4,499.2 C617.9,500.6 619.3,501.9 620.8,503.3 C622.3,504.6 623.8,506 625.3,507.3 C626.8,508.6 628.4,509.9 629.9,511.2 C631.4,512.5 633,513.8 634.5,515.1 C636.1,516.4 637.6,517.6 639.2,518.9 C640.8,520.1 642.3,521.4 643.9,522.6 C645.5,523.8 647.1,525 648.8,526.2 C650.4,527.4 652,528.6 653.6,529.8 C655.3,531 656.9,532.1 658.6,533.3 C660.2,534.4 661.9,535.6 663.6,536.7 C665.2,537.8 666.9,538.9 668.6,540 C670.3,541.1 672,542.2 673.7,543.2 C675.4,544.3 677.2,545.4 678.9,546.4 C680.6,547.4 682.4,548.5 684.1,549.5 C685.9,550.5 687.6,551.5 689.4,552.5 C691.2,553.5 693,554.4 694.8,555.4 C696.5,556.3 698.3,557.3 700.2,558.2 C702,559.1 703.8,560 705.6,560.9 C707.4,561.8 709.3,562.7 711.1,563.6 C713,564.4 714.8,565.3 716.7,566.1 C718.5,566.9 720.4,567.8 722.3,568.6 C724.2,569.4 726.1,570.2 728,570.9 C729.9,571.7 731.8,572.5 733.7,573.2 C735.6,573.9 737.5,574.7 739.5,575.4 C741.4,576.1 743.3,576.8 745.3,577.4 C747.2,578.1 749.2,578.8 751.2,579.4 C753.1,580.1 755.1,580.7 757.1,581.3 C759.1,581.9 761.1,582.5 763.1,583.1 C765.1,583.6 768.1,584.5 769.1,584.7" stroke-width="3.7"/>
<path d="M489.4,214.4 C489.5,215.5 490.1,218.6 490.4,220.7 C490.8,222.8 491.2,224.9 491.6,227 C491.9,229.1 492.3,231.1 492.7,233.2 C493.2,235.3 493.6,237.4 494,239.4 C494.4,241.5 494.9,243.5 495.3,245.6 C495.8,247.6 496.2,249.7 496.7,251.7 C497.2,253.7 497.6,255.7 498.1,257.8 C498.6,259.8 499.1,261.8 499.7,263.8 C500.2,265.8 500.7,267.8 501.2,269.8 C501.8,271.8 502.3,273.8 502.9,275.8 C503.5,277.7 504.1,279.7 504.6,281.7 C505.2,283.6 505.8,285.6 506.5,287.5 C507.1,289.5 507.7,291.4 508.4,293.4 C509,295.3 509.7,297.2 510.3,299.2 C511,301.1 511.7,303 512.4,304.9 C513.1,306.8 513.8,308.7 514.5,310.6 C515.3,312.5 516,314.3 516.8,316.2 C517.5,318.1 518.3,320 519.1,321.8 C519.9,323.7 520.7,325.5 521.5,327.4 C522.3,329.2 523.2,331 524,332.8 C524.9,334.7 525.7,336.5 526.6,338.3 C527.5,340.1 528.4,341.9 529.3,343.7 C530.2,345.5 531.2,347.2 532.1,349 C533.1,350.8 534,352.5 535,354.3 C536,356 537,357.8 538,359.5 C539,361.3 540,363 541.1,364.7 C542.1,366.4 543.2,368.1 544.3,369.8 C545.3,371.5 546.4,373.2 547.5,374.9 C548.6,376.6 549.8,378.2 550.9,379.9 C552,381.5 553.2,383.2 554.3,384.8 C555.5,386.5 556.7,388.1 557.9,389.7 C559.1,391.3 560.3,392.9 561.5,394.5 C562.7,396.1 564,397.7 565.2,399.3 C566.5,400.9 567.8,402.4 569.1,404 C570.3,405.5 571.6,407.1 573,408.6 C574.3,410.2 575.6,411.7 577,413.2 C578.3,414.7 579.7,416.2 581,417.7 C582.4,419.2 583.8,420.7 585.2,422.1 C586.6,423.6 588,425.1 589.4,426.5 C590.9,428 592.3,429.4 593.8,430.8 C595.2,432.2 596.7,433.7 598.2,435.1 C599.7,436.5 601.2,437.9 602.7,439.2 C604.2,440.6 605.7,442 607.3,443.3 C608.8,444.7 610.4,446 612,447.4 C613.5,448.7 615.1,450 616.7,451.3 C618.3,452.6 619.9,453.9 621.5,455.2 C623.1,456.5 624.8,457.8 626.4,459 C628.1,460.3 629.7,461.5 631.4,462.8 C633,464 634.7,465.2 636.4,466.4 C638.1,467.6 639.8,468.8 641.5,470 C643.2,471.2 644.9,472.4 646.7,473.5 C648.4,474.7 650.1,475.8 651.9,476.9 C653.6,478.1 655.4,479.2 657.1,480.3 C658.9,481.4 660.7,482.5 662.4,483.6 C664.2,484.6 666,485.7 667.8,486.8 C669.6,487.8 671.4,488.9 673.2,489.9 C675,490.9 676.9,491.9 678.7,492.9 C680.5,493.9 682.3,494.9 684.2,495.9 C686,496.8 687.9,497.8 689.7,498.7 C691.6,499.7 693.4,500.6 695.3,501.5 C697.1,502.4 699,503.3 700.9,504.2 C702.8,505.1 704.6,505.9 706.5,506.8 C708.4,507.7 710.3,508.5 712.2,509.3 C714.1,510.1 716,511 717.9,511.7 C719.7,512.5 721.6,513.3 723.6,514.1 C725.5,514.9 727.4,515.6 729.3,516.3 C731.2,517.1 733.1,517.8 735,518.5 C736.9,519.2 738.8,519.9 740.7,520.6 C742.7,521.3 744.6,521.9 746.5,522.6 C748.4,523.2 750.3,523.8 752.3,524.4 C754.2,525.1 756.1,525.7 758,526.2 C759.9,526.8 761.9,527.4 763.8,527.9 C765.7,528.5 768.6,529.3 769.5,529.5" stroke-width="3.7"/>
<path d="M844.4,243.8 C844.4,244.8 844.5,247.9 844.5,250 C844.6,252 844.7,254.1 844.8,256.1 C844.8,258.2 845,260.2 845.1,262.3 C845.2,264.4 845.3,266.4 845.5,268.5 C845.6,270.5 845.8,272.6 845.9,274.6 C846.1,276.7 846.3,278.7 846.5,280.8 C846.7,282.8 846.9,284.9 847.2,286.9 C847.4,289 847.6,291 847.9,293.1 C848.2,295.1 848.4,297.1 848.7,299.2 C849,301.2 849.3,303.3 849.6,305.3 C849.9,307.3 850.3,309.4 850.6,311.4 C851,313.4 851.3,315.5 851.7,317.5 C852.1,319.5 852.5,321.5 852.9,323.5 C853.3,325.6 853.7,327.6 854.1,329.6 C854.5,331.6 855,333.6 855.5,335.6 C855.9,337.6 856.4,339.6 856.9,341.6 C857.4,343.6 857.9,345.6 858.4,347.6 C858.9,349.6 859.5,351.5 860,353.5 C860.6,355.5 861.1,357.5 861.7,359.4 C862.3,361.4 862.9,363.3 863.5,365.3 C864.1,367.2 864.7,369.2 865.3,371.1 C866,373.1 866.6,375 867.3,376.9 C868,378.9 868.7,380.8 869.4,382.7 C870.1,384.6 870.8,386.5 871.5,388.4 C872.2,390.3 873,392.2 873.7,394.1 C874.5,396 875.3,397.9 876,399.7 C876.8,401.6 877.6,403.5 878.5,405.3 C879.3,407.2 880.1,409 881,410.9 C881.8,412.7 882.7,414.5 883.5,416.4 C884.4,418.2 885.3,420 886.2,421.8 C887.1,423.6 888.1,425.4 889,427.2 C889.9,428.9 890.9,430.7 891.9,432.5 C892.8,434.2 893.8,436 894.8,437.7 C895.8,439.5 896.8,441.2 897.9,442.9 C898.9,444.7 899.9,446.4 901,448.1 C902.1,449.8 903.1,451.5 904.2,453.2 C905.3,454.8 906.4,456.5 907.6,458.2 C908.7,459.8 909.8,461.5 911,463.1 C912.1,464.7 913.3,466.3 914.5,468 C915.7,469.6 916.9,471.2 918.1,472.7 C919.3,474.3 920.6,475.9 921.8,477.5 C923.1,479 924.3,480.6 925.6,482.1 C926.9,483.6 928.2,485.1 929.5,486.7 C930.8,488.2 932.1,489.7 933.5,491.1 C934.8,492.6 936.2,494.1 937.6,495.5 C938.9,497 940.3,498.4 941.7,499.8 C943.1,501.2 944.6,502.7 946,504 C947.4,505.4 948.9,506.8 950.4,508.2 C951.8,509.5 953.3,510.9 954.8,512.2 C956.3,513.5 957.9,514.9 959.4,516.2 C960.9,517.5 962.5,518.7 964,520 C965.6,521.3 967.2,522.5 968.7,523.8 C970.3,525 971.9,526.2 973.6,527.4 C975.2,528.7 976.8,529.8 978.4,531 C980.1,532.2 981.7,533.4 983.4,534.5 C985.1,535.6 986.8,536.8 988.4,537.9 C990.1,539 991.8,540.1 993.6,541.2 C995.3,542.3 997,543.3 998.7,544.4 C1000.5,545.4 1002.2,546.4 1004,547.5 C1005.8,548.5 1007.5,549.5 1009.3,550.5 C1011.1,551.4 1012.9,552.4 1014.7,553.4 C1016.5,554.3 1018.3,555.2 1020.1,556.1 C1022,557.1 1023.8,558 1025.6,558.8 C1027.5,559.7 1029.3,560.6 1031.2,561.4 C1033.1,562.3 1034.9,563.1 1036.8,563.9 C1038.7,564.7 1040.6,565.5 1042.5,566.3 C1044.4,567.1 1046.3,567.9 1048.2,568.6 C1050.1,569.4 1052,570.1 1053.9,570.8 C1055.8,571.5 1057.8,572.2 1059.7,572.9 C1061.7,573.5 1063.6,574.2 1065.6,574.8 C1067.5,575.5 1069.5,576.1 1071.4,576.7 C1073.4,577.3 1075.4,577.9 1077.3,578.5 C1079.3,579 1081.3,579.6 1083.3,580.1 C1085.3,580.6 1087.3,581.1 1089.3,581.6 C1091.3,582.1 1093.3,582.6 1095.3,583.1 C1097.3,583.5 1099.3,584 1101.3,584.4 C1103.3,584.8 1105.3,585.2 1107.3,585.6 C1109.4,586 1111.4,586.4 1113.4,586.7 C1115.4,587 1117.5,587.4 1119.5,587.7 C1121.5,588 1123.6,588.3 1125.6,588.6 C1127.6,588.8 1129.7,589.1 1131.7,589.3 C1133.8,589.6 1135.8,589.8 1137.8,590 C1139.9,590.2 1141.9,590.3 1144,590.5 C1146,590.6 1149.1,590.8 1150.1,590.9" stroke-width="3.7"/>
<path d="M851.9,240.6 C852,241.6 852.3,244.7 852.5,246.7 C852.7,248.7 852.9,250.7 853.1,252.7 C853.4,254.8 853.6,256.8 853.9,258.8 C854.1,260.8 854.4,262.8 854.7,264.9 C855,266.9 855.2,268.9 855.5,271 C855.8,273 856.2,275 856.5,277 C856.8,279.1 857.1,281.1 857.5,283.1 C857.8,285.2 858.2,287.2 858.6,289.2 C858.9,291.3 859.3,293.3 859.7,295.3 C860.1,297.3 860.5,299.4 860.9,301.4 C861.3,303.4 861.8,305.4 862.2,307.5 C862.6,309.5 863.1,311.5 863.6,313.5 C864,315.5 864.5,317.6 865,319.6 C865.5,321.6 866,323.6 866.5,325.6 C867,327.6 867.5,329.6 868.1,331.6 C868.6,333.6 869.2,335.6 869.7,337.6 C870.3,339.6 870.9,341.6 871.5,343.6 C872.1,345.5 872.7,347.5 873.3,349.5 C873.9,351.5 874.6,353.4 875.2,355.4 C875.8,357.4 876.5,359.3 877.2,361.3 C877.9,363.2 878.5,365.2 879.2,367.1 C879.9,369.1 880.7,371 881.4,372.9 C882.1,374.8 882.9,376.8 883.6,378.7 C884.4,380.6 885.1,382.5 885.9,384.4 C886.7,386.3 887.5,388.2 888.3,390.1 C889.1,391.9 890,393.8 890.8,395.7 C891.7,397.5 892.5,399.4 893.4,401.2 C894.3,403.1 895.1,404.9 896,406.8 C896.9,408.6 897.9,410.4 898.8,412.2 C899.7,414 900.7,415.8 901.6,417.6 C902.6,419.4 903.6,421.2 904.6,422.9 C905.6,424.7 906.6,426.5 907.6,428.2 C908.6,430 909.7,431.7 910.7,433.4 C911.8,435.1 912.8,436.8 913.9,438.5 C915,440.2 916.1,441.9 917.2,443.6 C918.4,445.3 919.5,446.9 920.6,448.6 C921.8,450.2 923,451.9 924.1,453.5 C925.3,455.1 926.5,456.7 927.7,458.3 C929,459.9 930.2,461.5 931.4,463.1 C932.7,464.6 934,466.2 935.2,467.7 C936.5,469.3 937.8,470.8 939.1,472.3 C940.5,473.8 941.8,475.3 943.2,476.8 C944.5,478.2 945.9,479.7 947.3,481.1 C948.6,482.6 950,484 951.5,485.4 C952.9,486.8 954.3,488.2 955.8,489.6 C957.2,491 958.7,492.3 960.2,493.7 C961.7,495 963.2,496.4 964.7,497.7 C966.3,499 967.8,500.3 969.4,501.5 C970.9,502.8 972.5,504.1 974.1,505.3 C975.7,506.6 977.3,507.8 978.9,509 C980.5,510.2 982.2,511.4 983.8,512.6 C985.5,513.7 987.1,514.9 988.8,516 C990.5,517.2 992.2,518.3 993.9,519.4 C995.6,520.5 997.3,521.6 999,522.7 C1000.8,523.8 1002.5,524.8 1004.3,525.8 C1006,526.9 1007.8,527.9 1009.6,528.9 C1011.4,529.9 1013.2,530.9 1015,531.9 C1016.8,532.9 1018.6,533.8 1020.4,534.8 C1022.2,535.7 1024.1,536.6 1025.9,537.5 C1027.8,538.4 1029.6,539.3 1031.5,540.2 C1033.3,541.1 1035.2,541.9 1037.1,542.8 C1039,543.6 1040.9,544.4 1042.8,545.3 C1044.7,546.1 1046.6,546.9 1048.5,547.6 C1050.4,548.4 1052.3,549.2 1054.3,549.9 C1056.2,550.7 1058.1,551.4 1060.1,552.1 C1062,552.8 1064,553.5 1065.9,554.2 C1067.9,554.9 1069.9,555.5 1071.8,556.2 C1073.8,556.8 1075.8,557.4 1077.8,558.1 C1079.7,558.7 1081.7,559.3 1083.7,559.9 C1085.7,560.4 1087.7,561 1089.7,561.6 C1091.7,562.1 1093.7,562.6 1095.7,563.2 C1097.7,563.7 1099.7,564.2 1101.7,564.7 C1103.7,565.2 1105.7,565.6 1107.8,566.1 C1109.8,566.5 1111.8,567 1113.8,567.4 C1115.8,567.8 1117.9,568.2 1119.9,568.6 C1121.9,569 1123.9,569.4 1125.9,569.8 C1128,570.1 1130,570.5 1132,570.8 C1134,571.1 1136.1,571.4 1138.1,571.7 C1140.1,572 1142.1,572.3 1144.1,572.6 C1146.2,572.9 1149.2,573.2 1150.2,573.3" stroke-width="3.7"/>
<path d="M921.5,234.2 C921.6,235.2 921.8,238.1 922,240.1 C922.1,242 922.3,244 922.5,245.9 C922.7,247.9 922.9,249.8 923.1,251.8 C923.3,253.8 923.5,255.7 923.7,257.7 C924,259.7 924.2,261.6 924.5,263.6 C924.7,265.6 925,267.6 925.3,269.6 C925.6,271.5 925.9,273.5 926.2,275.5 C926.5,277.5 926.8,279.5 927.1,281.5 C927.5,283.5 927.8,285.5 928.2,287.5 C928.5,289.5 928.9,291.4 929.3,293.4 C929.7,295.4 930.1,297.4 930.5,299.4 C930.9,301.4 931.3,303.4 931.8,305.4 C932.2,307.4 932.6,309.4 933.1,311.4 C933.6,313.4 934,315.4 934.5,317.4 C935,319.4 935.5,321.4 936,323.4 C936.5,325.3 937.1,327.3 937.6,329.3 C938.1,331.3 938.7,333.3 939.3,335.3 C939.8,337.3 940.4,339.2 941,341.2 C941.6,343.2 942.2,345.2 942.8,347.1 C943.4,349.1 944.1,351.1 944.7,353 C945.3,355 946,357 946.7,358.9 C947.3,360.9 948,362.8 948.7,364.8 C949.4,366.7 950.1,368.6 950.8,370.6 C951.6,372.5 952.3,374.4 953,376.4 C953.8,378.3 954.6,380.2 955.3,382.1 C956.1,384 956.9,385.9 957.7,387.8 C958.5,389.8 959.3,391.6 960.1,393.5 C961,395.4 961.8,397.3 962.7,399.2 C963.5,401 964.4,402.9 965.3,404.8 C966.2,406.6 967.1,408.5 968,410.3 C968.9,412.2 969.8,414 970.7,415.8 C971.7,417.6 972.6,419.5 973.6,421.3 C974.6,423.1 975.5,424.9 976.5,426.7 C977.5,428.4 978.5,430.2 979.5,432 C980.6,433.8 981.6,435.5 982.6,437.3 C983.7,439 984.7,440.8 985.8,442.5 C986.9,444.2 988,445.9 989.1,447.6 C990.2,449.3 991.3,451 992.4,452.7 C993.5,454.4 994.7,456.1 995.8,457.7 C997,459.4 998.2,461 999.4,462.6 C1000.5,464.3 1001.7,465.9 1003,467.5 C1004.2,469.1 1005.4,470.7 1006.6,472.3 C1007.9,473.9 1009.1,475.4 1010.4,477 C1011.7,478.5 1012.9,480.1 1014.2,481.6 C1015.5,483.1 1016.9,484.6 1018.2,486.1 C1019.5,487.6 1020.8,489.1 1022.2,490.6 C1023.5,492 1024.9,493.5 1026.3,494.9 C1027.7,496.3 1029.1,497.7 1030.5,499.1 C1031.9,500.6 1033.3,501.9 1034.8,503.3 C1036.2,504.7 1037.7,506 1039.1,507.4 C1040.6,508.7 1042.1,510 1043.6,511.3 C1045.1,512.6 1046.6,513.9 1048.1,515.1 C1049.6,516.4 1051.2,517.7 1052.7,518.9 C1054.3,520.1 1055.8,521.3 1057.4,522.5 C1059,523.7 1060.6,524.9 1062.2,526 C1063.8,527.2 1065.4,528.3 1067.1,529.5 C1068.7,530.6 1070.3,531.7 1072,532.8 C1073.7,533.9 1075.3,535 1077,536 C1078.7,537.1 1080.4,538.1 1082.1,539.1 C1083.8,540.2 1085.5,541.2 1087.3,542.2 C1089,543.2 1090.7,544.1 1092.5,545.1 C1094.2,546 1096,547 1097.8,547.9 C1099.5,548.8 1101.3,549.8 1103.1,550.7 C1104.9,551.6 1106.7,552.4 1108.5,553.3 C1110.3,554.2 1112.1,555 1114,555.9 C1115.8,556.7 1117.6,557.5 1119.5,558.3 C1121.3,559.1 1123.2,559.9 1125,560.7 C1126.9,561.5 1128.8,562.2 1130.7,563 C1132.5,563.7 1134.4,564.5 1136.3,565.2 C1138.2,565.9 1140.1,566.6 1142,567.3 C1143.9,568 1145.8,568.6 1147.8,569.3 C1149.7,570 1151.6,570.6 1153.6,571.3 C1155.5,571.9 1157.4,572.5 1159.4,573.1 C1161.3,573.7 1163.3,574.3 1165.2,574.9 C1167.2,575.5 1169.2,576 1171.1,576.6 C1173.1,577.2 1175.1,577.7 1177.1,578.2 C1179,578.7 1181,579.3 1183,579.8 C1185,580.3 1187,580.8 1189,581.2 C1191,581.7 1193,582.2 1195,582.6 C1197,583.1 1199,583.5 1201,584 C1203,584.4 1205,584.8 1207.1,585.2 C1209.1,585.6 1211.1,586 1213.1,586.4 C1215.1,586.8 1217.2,587.2 1219.2,587.6 C1221.2,587.9 1223.2,588.3 1225.3,588.7 C1227.3,589 1229.3,589.4 1231.4,589.8 C1233.4,590.1 1235.4,590.4 1237.5,590.8 C1239.5,591.1 1241.5,591.5 1243.5,591.8 C1245.6,592.1 1247.6,592.5 1249.6,592.8 C1251.7,593.1 1253.7,593.5 1255.7,593.8 C1257.8,594.1 1259.8,594.4 1261.8,594.7 C1263.9,595.1 1265.9,595.4 1267.9,595.7 C1270,596 1272,596.4 1274,596.7 C1276,597 1278.1,597.4 1280.1,597.7 C1282.1,598 1284.1,598.4 1286.1,598.7 C1288.2,599 1290.2,599.4 1292.2,599.7 C1294.2,600.1 1296.2,600.4 1298.2,600.8 C1300.2,601.1 1302.2,601.5 1304.2,601.8 C1306.2,602.2 1308.2,602.6 1310.2,602.9 C1312.2,603.3 1314.2,603.7 1316.1,604.1 C1318.1,604.5 1320.1,604.9 1322.1,605.3 C1324,605.7 1326,606.1 1328,606.5 C1329.9,606.9 1331.9,607.3 1333.8,607.8 C1335.8,608.2 1337.7,608.6 1339.7,609.1 C1341.6,609.5 1343.5,610 1345.5,610.5 C1347.4,610.9 1349.3,611.4 1351.2,611.9 C1353.1,612.4 1356,613.2 1356.9,613.4" stroke-width="3.7"/>
<path d="M985.4,240.7 C985.6,241.7 986.1,244.6 986.4,246.6 C986.7,248.6 987.1,250.6 987.4,252.5 C987.7,254.5 988.1,256.5 988.5,258.5 C988.8,260.5 989.2,262.5 989.6,264.5 C990,266.4 990.3,268.4 990.7,270.4 C991.1,272.4 991.6,274.4 992,276.4 C992.4,278.4 992.8,280.4 993.3,282.4 C993.7,284.4 994.1,286.4 994.6,288.4 C995.1,290.4 995.5,292.4 996,294.4 C996.5,296.3 997,298.3 997.5,300.3 C998,302.3 998.5,304.3 999,306.3 C999.5,308.3 1000,310.3 1000.6,312.3 C1001.1,314.3 1001.7,316.3 1002.2,318.3 C1002.8,320.2 1003.3,322.2 1003.9,324.2 C1004.5,326.2 1005.1,328.2 1005.7,330.1 C1006.3,332.1 1006.9,334.1 1007.5,336.1 C1008.2,338 1008.8,340 1009.4,342 C1010.1,344 1010.7,345.9 1011.4,347.9 C1012.1,349.8 1012.7,351.8 1013.4,353.7 C1014.1,355.7 1014.8,357.7 1015.5,359.6 C1016.2,361.5 1016.9,363.5 1017.7,365.4 C1018.4,367.4 1019.1,369.3 1019.9,371.2 C1020.7,373.1 1021.4,375.1 1022.2,377 C1023,378.9 1023.8,380.8 1024.6,382.7 C1025.4,384.6 1026.2,386.5 1027,388.4 C1027.8,390.3 1028.6,392.2 1029.5,394.1 C1030.3,395.9 1031.2,397.8 1032.1,399.7 C1032.9,401.6 1033.8,403.4 1034.7,405.3 C1035.6,407.1 1036.5,409 1037.4,410.8 C1038.3,412.7 1039.3,414.5 1040.2,416.3 C1041.1,418.1 1042.1,419.9 1043,421.8 C1044,423.6 1045,425.4 1046,427.2 C1047,428.9 1048,430.7 1049,432.5 C1050,434.3 1051,436 1052.1,437.8 C1053.1,439.6 1054.1,441.3 1055.2,443 C1056.3,444.8 1057.3,446.5 1058.4,448.2 C1059.5,449.9 1060.6,451.6 1061.7,453.3 C1062.8,455 1064,456.7 1065.1,458.4 C1066.3,460.1 1067.4,461.7 1068.6,463.4 C1069.7,465 1070.9,466.7 1072.1,468.3 C1073.3,469.9 1074.5,471.6 1075.7,473.2 C1076.9,474.8 1078.2,476.4 1079.4,478 C1080.6,479.5 1081.9,481.1 1083.2,482.7 C1084.4,484.2 1085.7,485.8 1087,487.3 C1088.3,488.8 1089.6,490.4 1091,491.9 C1092.3,493.4 1093.6,494.9 1095,496.3 C1096.3,497.8 1097.7,499.3 1099.1,500.7 C1100.4,502.2 1101.8,503.6 1103.2,505.1 C1104.7,506.5 1106.1,507.9 1107.5,509.3 C1108.9,510.7 1110.4,512.1 1111.8,513.4 C1113.3,514.8 1114.8,516.1 1116.3,517.5 C1117.8,518.8 1119.3,520.1 1120.8,521.4 C1122.3,522.8 1123.8,524 1125.4,525.3 C1126.9,526.6 1128.5,527.9 1130,529.1 C1131.6,530.4 1133.2,531.6 1134.8,532.8 C1136.4,534 1138,535.2 1139.6,536.4 C1141.2,537.6 1142.9,538.8 1144.5,539.9 C1146.1,541.1 1147.8,542.2 1149.5,543.4 C1151.1,544.5 1152.8,545.6 1154.5,546.7 C1156.2,547.8 1157.9,548.9 1159.6,550 C1161.3,551 1163,552.1 1164.7,553.2 C1166.5,554.2 1168.2,555.2 1169.9,556.2 C1171.7,557.3 1173.5,558.3 1175.2,559.3 C1177,560.2 1178.8,561.2 1180.6,562.2 C1182.3,563.1 1184.1,564.1 1185.9,565 C1187.7,565.9 1189.6,566.9 1191.4,567.8 C1193.2,568.7 1195,569.6 1196.9,570.4 C1198.7,571.3 1200.6,572.2 1202.4,573 C1204.3,573.9 1206.1,574.7 1208,575.6 C1209.9,576.4 1211.8,577.2 1213.6,578 C1215.5,578.8 1217.4,579.6 1219.3,580.3 C1221.2,581.1 1223.1,581.9 1225,582.6 C1227,583.3 1228.9,584.1 1230.8,584.8 C1232.7,585.5 1234.7,586.2 1236.6,586.9 C1238.5,587.6 1240.5,588.3 1242.4,588.9 C1244.4,589.6 1246.3,590.3 1248.3,590.9 C1250.2,591.5 1252.2,592.2 1254.2,592.8 C1256.1,593.4 1258.1,594 1260.1,594.6 C1262.1,595.2 1264.1,595.7 1266,596.3 C1268,596.9 1270,597.4 1272,597.9 C1274,598.5 1276,599 1278,599.5 C1280,600 1282,600.5 1284,601 C1286,601.5 1288,602 1290.1,602.4 C1292.1,602.9 1294.1,603.3 1296.1,603.8 C1298.1,604.2 1300.1,604.6 1302.2,605 C1304.2,605.5 1306.2,605.9 1308.2,606.2 C1310.3,606.6 1312.3,607 1314.3,607.4 C1316.4,607.7 1318.4,608.1 1320.4,608.4 C1322.5,608.8 1324.5,609.1 1326.5,609.4 C1328.6,609.7 1330.6,610 1332.6,610.3 C1334.7,610.6 1336.7,610.9 1338.7,611.2 C1340.8,611.4 1342.8,611.7 1344.8,611.9 C1346.9,612.2 1348.9,612.4 1350.9,612.6 C1353,612.9 1356,613.2 1357,613.3" stroke-width="3.7"/>
<path d="M993.4,244.4 C993.6,245.4 994.1,248.3 994.5,250.3 C994.8,252.3 995.2,254.2 995.5,256.2 C995.9,258.2 996.3,260.1 996.7,262.1 C997.1,264.1 997.5,266.1 997.9,268 C998.3,270 998.7,272 999.2,274 C999.6,275.9 1000,277.9 1000.5,279.9 C1000.9,281.9 1001.4,283.8 1001.9,285.8 C1002.4,287.8 1002.9,289.7 1003.4,291.7 C1003.9,293.7 1004.4,295.6 1004.9,297.6 C1005.4,299.6 1005.9,301.5 1006.5,303.5 C1007,305.5 1007.6,307.4 1008.2,309.4 C1008.7,311.4 1009.3,313.3 1009.9,315.3 C1010.5,317.2 1011.1,319.2 1011.7,321.1 C1012.3,323.1 1012.9,325 1013.6,327 C1014.2,328.9 1014.8,330.9 1015.5,332.8 C1016.1,334.7 1016.8,336.7 1017.5,338.6 C1018.2,340.5 1018.9,342.5 1019.6,344.4 C1020.3,346.3 1021,348.2 1021.7,350.1 C1022.4,352.1 1023.2,354 1023.9,355.9 C1024.7,357.8 1025.4,359.7 1026.2,361.6 C1027,363.5 1027.7,365.4 1028.5,367.2 C1029.3,369.1 1030.1,371 1030.9,372.9 C1031.8,374.8 1032.6,376.6 1033.4,378.5 C1034.3,380.4 1035.1,382.2 1036,384.1 C1036.8,385.9 1037.7,387.8 1038.6,389.6 C1039.5,391.4 1040.4,393.3 1041.3,395.1 C1042.2,396.9 1043.1,398.7 1044.1,400.5 C1045,402.4 1045.9,404.2 1046.9,405.9 C1047.9,407.7 1048.8,409.5 1049.8,411.3 C1050.8,413.1 1051.8,414.9 1052.8,416.6 C1053.8,418.4 1054.8,420.1 1055.8,421.9 C1056.9,423.6 1057.9,425.4 1059,427.1 C1060,428.8 1061.1,430.6 1062.1,432.3 C1063.2,434 1064.3,435.7 1065.4,437.4 C1066.5,439.1 1067.6,440.8 1068.7,442.4 C1069.9,444.1 1071,445.8 1072.2,447.4 C1073.3,449.1 1074.5,450.7 1075.6,452.3 C1076.8,454 1078,455.6 1079.2,457.2 C1080.4,458.8 1081.6,460.4 1082.8,462 C1084.1,463.6 1085.3,465.2 1086.5,466.7 C1087.8,468.3 1089,469.9 1090.3,471.4 C1091.6,473 1092.9,474.5 1094.2,476 C1095.5,477.5 1096.8,479 1098.1,480.5 C1099.4,482 1100.7,483.5 1102.1,485 C1103.4,486.4 1104.8,487.9 1106.2,489.4 C1107.5,490.8 1108.9,492.2 1110.3,493.6 C1111.7,495.1 1113.1,496.5 1114.6,497.9 C1116,499.2 1117.4,500.6 1118.9,502 C1120.3,503.4 1121.8,504.7 1123.2,506 C1124.7,507.4 1126.2,508.7 1127.7,510 C1129.2,511.3 1130.7,512.6 1132.2,513.9 C1133.7,515.1 1135.3,516.4 1136.8,517.7 C1138.4,518.9 1139.9,520.1 1141.5,521.3 C1143.1,522.6 1144.7,523.8 1146.3,524.9 C1147.9,526.1 1149.5,527.3 1151.1,528.5 C1152.7,529.6 1154.4,530.8 1156,531.9 C1157.7,533 1159.3,534.1 1161,535.2 C1162.7,536.3 1164.3,537.4 1166,538.4 C1167.7,539.5 1169.4,540.5 1171.1,541.6 C1172.8,542.6 1174.6,543.6 1176.3,544.6 C1178,545.6 1179.8,546.6 1181.5,547.6 C1183.3,548.6 1185,549.5 1186.8,550.5 C1188.6,551.4 1190.4,552.3 1192.2,553.2 C1193.9,554.2 1195.7,555 1197.5,555.9 C1199.4,556.8 1201.2,557.7 1203,558.5 C1204.8,559.4 1206.7,560.2 1208.5,561 C1210.3,561.8 1212.2,562.6 1214.1,563.4 C1215.9,564.2 1217.8,565 1219.7,565.8 C1221.5,566.5 1223.4,567.3 1225.3,568 C1227.2,568.7 1229.1,569.4 1231,570.1 C1232.9,570.8 1234.8,571.5 1236.7,572.2 C1238.6,572.8 1240.6,573.5 1242.5,574.1 C1244.4,574.8 1246.4,575.4 1248.3,576 C1250.3,576.6 1252.2,577.2 1254.2,577.7 C1256.1,578.3 1258.1,578.9 1260,579.4 C1262,580 1264,580.5 1265.9,581 C1267.9,581.5 1269.9,582 1271.9,582.5 C1273.9,583 1275.9,583.4 1277.9,583.9 C1279.9,584.3 1281.9,584.8 1283.9,585.2 C1285.9,585.6 1287.9,586 1289.9,586.4 C1291.9,586.8 1293.9,587.2 1295.9,587.5 C1297.9,587.9 1300,588.2 1302,588.6 C1304,588.9 1306,589.2 1308.1,589.5 C1310.1,589.8 1312.1,590.1 1314.2,590.4 C1316.2,590.6 1318.3,590.9 1320.3,591.1 C1322.3,591.3 1324.4,591.6 1326.4,591.8 C1328.5,592 1330.5,592.2 1332.6,592.3 C1334.6,592.5 1336.7,592.7 1338.7,592.8 C1340.8,593 1342.8,593.1 1344.9,593.2 C1346.9,593.3 1349,593.4 1351,593.5 C1353.1,593.6 1356.2,593.6 1357.2,593.7" stroke-width="3.7"/>
<path d="M229.6,740 C229.8,741 230.2,743.8 230.5,745.7 C230.7,747.6 231,749.5 231.3,751.4 C231.6,753.4 231.9,755.3 232.2,757.2 C232.5,759.1 232.8,761.1 233.1,763 C233.4,765 233.7,766.9 234.1,768.9 C234.4,770.8 234.7,772.8 235.1,774.8 C235.4,776.8 235.7,778.7 236.1,780.7 C236.4,782.7 236.8,784.7 237.2,786.7 C237.5,788.7 237.9,790.7 238.3,792.7 C238.6,794.7 239,796.7 239.4,798.7 C239.8,800.7 240.2,802.7 240.6,804.7 C241,806.7 241.5,808.7 241.9,810.7 C242.3,812.8 242.7,814.8 243.2,816.8 C243.6,818.8 244.1,820.8 244.5,822.9 C245,824.9 245.5,826.9 245.9,828.9 C246.4,831 246.9,833 247.4,835 C247.9,837 248.4,839.1 248.9,841.1 C249.4,843.1 250,845.1 250.5,847.1 C251,849.2 251.6,851.2 252.1,853.2 C252.7,855.2 253.2,857.2 253.8,859.2 C254.4,861.3 255,863.3 255.6,865.3 C256.2,867.3 256.8,869.3 257.4,871.3 C258,873.3 258.7,875.3 259.3,877.3 C260,879.3 260.6,881.2 261.3,883.2 C261.9,885.2 262.6,887.2 263.3,889.1 C264,891.1 264.7,893.1 265.4,895 C266.1,897 266.9,898.9 267.6,900.9 C268.3,902.8 269.1,904.8 269.9,906.7 C270.6,908.6 271.4,910.6 272.2,912.5 C273,914.4 273.8,916.3 274.6,918.2 C275.4,920.1 276.3,922 277.1,923.9 C278,925.7 278.8,927.6 279.7,929.5 C280.6,931.3 281.5,933.2 282.4,935 C283.3,936.9 284.2,938.7 285.1,940.5 C286.1,942.3 287,944.1 288,945.9 C288.9,947.7 289.9,949.5 290.9,951.3 C291.9,953 292.9,954.8 293.9,956.6 C295,958.3 296,960 297.1,961.8 C298.1,963.5 299.2,965.2 300.3,966.9 C301.4,968.6 302.5,970.2 303.6,971.9 C304.7,973.6 305.9,975.2 307,976.9 C308.2,978.5 309.3,980.1 310.5,981.7 C311.7,983.3 312.9,984.9 314.1,986.5 C315.4,988 316.6,989.6 317.9,991.1 C319.1,992.7 320.4,994.2 321.7,995.7 C323,997.2 324.3,998.7 325.6,1000.1 C327,1001.6 328.3,1003 329.7,1004.5 C331.1,1005.9 332.5,1007.3 333.9,1008.7 C335.3,1010.1 336.7,1011.5 338.1,1012.8 C339.6,1014.2 341,1015.5 342.5,1016.8 C344,1018.1 345.5,1019.4 347,1020.7 C348.5,1022 350,1023.2 351.6,1024.5 C353.1,1025.7 354.7,1026.9 356.3,1028.1 C357.9,1029.4 359.5,1030.5 361.1,1031.7 C362.7,1032.9 364.3,1034 365.9,1035.2 C367.6,1036.3 369.2,1037.4 370.9,1038.5 C372.6,1039.6 374.2,1040.7 375.9,1041.7 C377.6,1042.8 379.3,1043.8 381.1,1044.9 C382.8,1045.9 384.5,1046.9 386.3,1047.9 C388,1048.9 389.8,1049.9 391.6,1050.8 C393.3,1051.8 395.1,1052.7 396.9,1053.6 C398.7,1054.6 400.5,1055.5 402.3,1056.4 C404.1,1057.3 406,1058.1 407.8,1059 C409.6,1059.8 411.5,1060.7 413.4,1061.5 C415.2,1062.3 417.1,1063.1 419,1063.9 C420.8,1064.7 422.7,1065.5 424.6,1066.3 C426.5,1067 428.4,1067.8 430.3,1068.5 C432.2,1069.2 434.2,1069.9 436.1,1070.6 C438,1071.3 440,1072 441.9,1072.7 C443.8,1073.4 445.8,1074 447.8,1074.7 C449.7,1075.3 451.7,1075.9 453.6,1076.5 C455.6,1077.1 457.6,1077.7 459.6,1078.3 C461.5,1078.9 463.5,1079.4 465.5,1080 C467.5,1080.5 469.5,1081.1 471.5,1081.6 C473.5,1082.1 475.5,1082.6 477.5,1083.1 C479.5,1083.6 481.5,1084.1 483.5,1084.5 C485.6,1085 487.6,1085.4 489.6,1085.9 C491.6,1086.3 493.6,1086.7 495.7,1087.1 C497.7,1087.5 499.7,1087.9 501.7,1088.3 C503.8,1088.7 505.8,1089 507.8,1089.4 C509.8,1089.7 511.9,1090.1 513.9,1090.4 C515.9,1090.7 518,1091 520,1091.3 C522,1091.6 524.1,1091.9 526.1,1092.2 C528.1,1092.5 530.2,1092.7 532.2,1093 C534.2,1093.2 536.2,1093.5 538.3,1093.7 C540.3,1093.9 542.3,1094.1 544.3,1094.3 C546.4,1094.5 549.4,1094.8 550.4,1094.9" stroke-width="3.7"/>
<path d="M240.5,752.8 C240.6,753.8 241,756.7 241.3,758.7 C241.5,760.6 241.8,762.6 242.1,764.6 C242.4,766.5 242.7,768.5 243.1,770.5 C243.4,772.5 243.7,774.5 244.1,776.4 C244.4,778.4 244.8,780.4 245.1,782.4 C245.5,784.4 245.9,786.4 246.3,788.4 C246.7,790.4 247.1,792.3 247.5,794.3 C247.9,796.3 248.3,798.3 248.8,800.3 C249.2,802.3 249.7,804.3 250.1,806.3 C250.6,808.3 251.1,810.3 251.5,812.3 C252,814.3 252.5,816.3 253,818.2 C253.5,820.2 254.1,822.2 254.6,824.2 C255.1,826.2 255.7,828.2 256.2,830.2 C256.8,832.1 257.4,834.1 257.9,836.1 C258.5,838.1 259.1,840.1 259.7,842 C260.3,844 261,846 261.6,847.9 C262.2,849.9 262.9,851.9 263.5,853.8 C264.2,855.8 264.8,857.7 265.5,859.7 C266.2,861.6 266.9,863.6 267.6,865.5 C268.3,867.4 269,869.4 269.8,871.3 C270.5,873.2 271.3,875.1 272,877.1 C272.8,879 273.5,880.9 274.3,882.8 C275.1,884.7 275.9,886.6 276.7,888.5 C277.5,890.4 278.4,892.2 279.2,894.1 C280,896 280.9,897.9 281.7,899.7 C282.6,901.6 283.5,903.4 284.4,905.3 C285.3,907.1 286.2,908.9 287.1,910.8 C288,912.6 288.9,914.4 289.9,916.2 C290.8,918 291.8,919.8 292.8,921.6 C293.7,923.4 294.7,925.1 295.7,926.9 C296.7,928.7 297.7,930.4 298.7,932.2 C299.8,933.9 300.8,935.7 301.9,937.4 C302.9,939.1 304,940.8 305.1,942.5 C306.2,944.2 307.3,945.9 308.4,947.6 C309.5,949.2 310.6,950.9 311.7,952.5 C312.9,954.2 314,955.8 315.2,957.4 C316.4,959.1 317.5,960.7 318.7,962.3 C319.9,963.9 321.1,965.4 322.4,967 C323.6,968.6 324.8,970.1 326.1,971.7 C327.3,973.2 328.6,974.7 329.9,976.2 C331.2,977.7 332.5,979.2 333.8,980.7 C335.1,982.2 336.4,983.6 337.8,985.1 C339.1,986.5 340.5,987.9 341.8,989.3 C343.2,990.8 344.6,992.1 346,993.5 C347.4,994.9 348.8,996.3 350.2,997.6 C351.7,998.9 353.1,1000.3 354.6,1001.6 C356,1002.9 357.5,1004.2 359,1005.4 C360.5,1006.7 362,1007.9 363.5,1009.2 C365.1,1010.4 366.6,1011.6 368.1,1012.8 C369.7,1014 371.3,1015.1 372.9,1016.3 C374.4,1017.4 376,1018.6 377.7,1019.7 C379.3,1020.8 380.9,1021.9 382.5,1023 C384.2,1024 385.8,1025.1 387.5,1026.1 C389.2,1027.2 390.9,1028.2 392.6,1029.2 C394.3,1030.2 396,1031.1 397.7,1032.1 C399.4,1033.1 401.2,1034 402.9,1034.9 C404.7,1035.9 406.4,1036.8 408.2,1037.7 C410,1038.6 411.8,1039.4 413.6,1040.3 C415.3,1041.2 417.2,1042 419,1042.8 C420.8,1043.7 422.6,1044.5 424.5,1045.3 C426.3,1046.1 428.1,1046.8 430,1047.6 C431.9,1048.4 433.7,1049.1 435.6,1049.9 C437.5,1050.6 439.4,1051.3 441.3,1052 C443.2,1052.7 445.1,1053.4 447,1054.1 C448.9,1054.8 450.8,1055.4 452.7,1056.1 C454.7,1056.7 456.6,1057.4 458.5,1058 C460.5,1058.6 462.4,1059.2 464.4,1059.8 C466.3,1060.4 468.3,1061 470.3,1061.6 C472.2,1062.2 474.2,1062.7 476.2,1063.3 C478.2,1063.8 480.2,1064.3 482.1,1064.9 C484.1,1065.4 486.1,1065.9 488.1,1066.4 C490.1,1066.9 492.1,1067.4 494.1,1067.9 C496.1,1068.4 498.2,1068.8 500.2,1069.3 C502.2,1069.8 504.2,1070.2 506.2,1070.6 C508.3,1071.1 510.3,1071.5 512.3,1071.9 C514.3,1072.4 516.4,1072.8 518.4,1073.2 C520.4,1073.6 522.5,1074 524.5,1074.3 C526.5,1074.7 528.6,1075.1 530.6,1075.5 C532.6,1075.8 534.7,1076.2 536.7,1076.5 C538.8,1076.9 540.8,1077.2 542.8,1077.6 C544.9,1077.9 546.9,1078.2 549,1078.6 C551,1078.9 553,1079.2 555.1,1079.5 C557.1,1079.8 559.1,1080.1 561.2,1080.4 C563.2,1080.7 565.2,1081 567.3,1081.3 C569.3,1081.6 571.3,1081.9 573.4,1082.1 C575.4,1082.4 577.4,1082.7 579.4,1082.9 C581.5,1083.2 583.5,1083.5 585.5,1083.7 C587.5,1084 589.5,1084.2 591.5,1084.5 C593.5,1084.7 595.5,1085 597.5,1085.2 C599.5,1085.4 601.5,1085.7 603.5,1085.9 C605.5,1086.1 607.5,1086.4 609.4,1086.6 C611.4,1086.8 613.4,1087 615.3,1087.3 C617.3,1087.5 619.3,1087.7 621.2,1087.9 C623.2,1088.1 625.1,1088.3 627.1,1088.6 C629,1088.8 631.9,1089.1 632.8,1089.2" stroke-width="3.7"/>
<path d="M313.7,763.6 C313.8,764.6 314.1,767.6 314.3,769.6 C314.4,771.6 314.7,773.6 314.9,775.5 C315.1,777.5 315.3,779.5 315.6,781.5 C315.9,783.5 316.1,785.5 316.4,787.5 C316.7,789.5 317,791.5 317.3,793.5 C317.7,795.5 318,797.5 318.3,799.5 C318.7,801.5 319.1,803.5 319.5,805.5 C319.8,807.5 320.2,809.5 320.7,811.5 C321.1,813.5 321.5,815.5 322,817.5 C322.4,819.5 322.9,821.4 323.4,823.4 C323.8,825.4 324.3,827.4 324.8,829.4 C325.4,831.4 325.9,833.4 326.4,835.3 C327,837.3 327.5,839.3 328.1,841.3 C328.7,843.3 329.3,845.2 329.9,847.2 C330.5,849.2 331.1,851.1 331.7,853.1 C332.4,855 333,857 333.7,859 C334.4,860.9 335,862.9 335.7,864.8 C336.4,866.7 337.1,868.7 337.9,870.6 C338.6,872.5 339.3,874.5 340.1,876.4 C340.8,878.3 341.6,880.2 342.4,882.1 C343.2,884 344,885.9 344.8,887.8 C345.6,889.7 346.5,891.6 347.3,893.5 C348.2,895.4 349,897.3 349.9,899.1 C350.8,901 351.7,902.9 352.6,904.7 C353.5,906.6 354.4,908.4 355.3,910.3 C356.2,912.1 357.2,913.9 358.2,915.7 C359.1,917.6 360.1,919.4 361.1,921.2 C362.1,923 363.1,924.8 364.1,926.5 C365.1,928.3 366.2,930.1 367.2,931.9 C368.3,933.6 369.3,935.4 370.4,937.1 C371.5,938.9 372.6,940.6 373.7,942.3 C374.8,944 375.9,945.7 377,947.4 C378.2,949.1 379.3,950.8 380.5,952.5 C381.6,954.2 382.8,955.8 384,957.5 C385.2,959.1 386.4,960.8 387.6,962.4 C388.8,964 390,965.6 391.3,967.2 C392.5,968.8 393.8,970.4 395.1,972 C396.3,973.6 397.6,975.1 398.9,976.7 C400.2,978.2 401.5,979.8 402.8,981.3 C404.2,982.8 405.5,984.3 406.8,985.8 C408.2,987.3 409.6,988.8 410.9,990.2 C412.3,991.7 413.7,993.1 415.1,994.5 C416.5,996 417.9,997.4 419.4,998.8 C420.8,1000.2 422.2,1001.6 423.7,1002.9 C425.1,1004.3 426.6,1005.6 428.1,1007 C429.6,1008.3 431.1,1009.6 432.6,1010.9 C434.1,1012.2 435.6,1013.5 437.1,1014.7 C438.7,1016 440.2,1017.2 441.8,1018.4 C443.3,1019.7 444.9,1020.9 446.5,1022.1 C448.1,1023.2 449.7,1024.4 451.3,1025.6 C452.9,1026.7 454.5,1027.8 456.1,1028.9 C457.8,1030.1 459.4,1031.2 461.1,1032.2 C462.7,1033.3 464.4,1034.4 466.1,1035.4 C467.8,1036.4 469.5,1037.5 471.2,1038.5 C472.9,1039.5 474.6,1040.5 476.3,1041.4 C478,1042.4 479.8,1043.3 481.5,1044.3 C483.2,1045.2 485,1046.1 486.8,1047 C488.5,1048 490.3,1048.8 492.1,1049.7 C493.9,1050.6 495.7,1051.4 497.5,1052.3 C499.3,1053.1 501.1,1054 502.9,1054.8 C504.7,1055.6 506.6,1056.4 508.4,1057.2 C510.2,1057.9 512.1,1058.7 513.9,1059.5 C515.8,1060.2 517.6,1060.9 519.5,1061.7 C521.4,1062.4 523.3,1063.1 525.1,1063.8 C527,1064.5 528.9,1065.2 530.8,1065.9 C532.7,1066.5 534.6,1067.2 536.5,1067.8 C538.5,1068.5 540.4,1069.1 542.3,1069.7 C544.2,1070.4 546.2,1071 548.1,1071.6 C550,1072.2 552,1072.8 553.9,1073.3 C555.9,1073.9 557.8,1074.5 559.8,1075 C561.8,1075.6 563.7,1076.1 565.7,1076.6 C567.7,1077.2 569.6,1077.7 571.6,1078.2 C573.6,1078.7 575.6,1079.2 577.6,1079.7 C579.6,1080.2 581.5,1080.7 583.5,1081.1 C585.5,1081.6 587.5,1082.1 589.5,1082.5 C591.5,1083 593.6,1083.4 595.6,1083.9 C597.6,1084.3 599.6,1084.7 601.6,1085.1 C603.6,1085.6 605.6,1086 607.7,1086.4 C609.7,1086.8 611.7,1087.2 613.7,1087.5 C615.7,1087.9 617.8,1088.3 619.8,1088.7 C621.8,1089 623.9,1089.4 625.9,1089.8 C627.9,1090.1 630,1090.5 632,1090.8 C634,1091.2 636.1,1091.5 638.1,1091.8 C640.1,1092.2 642.2,1092.5 644.2,1092.8 C646.2,1093.1 648.3,1093.4 650.3,1093.7 C652.3,1094.1 654.4,1094.4 656.4,1094.7 C658.4,1095 660.5,1095.3 662.5,1095.5 C664.5,1095.8 666.6,1096.1 668.6,1096.4 C670.6,1096.7 672.7,1097 674.7,1097.2 C676.7,1097.5 678.7,1097.8 680.8,1098 C682.8,1098.3 684.8,1098.6 686.8,1098.8 C688.9,1099.1 690.9,1099.3 692.9,1099.6 C694.9,1099.9 696.9,1100.1 698.9,1100.4 C700.9,1100.6 702.9,1100.9 704.9,1101.1 C706.9,1101.4 708.9,1101.6 710.9,1101.8 C712.9,1102.1 715.9,1102.4 716.9,1102.6" stroke-width="3.7"/>
<path d="M382.1,746.6 C382.2,747.6 382.5,750.5 382.8,752.5 C383,754.5 383.3,756.4 383.5,758.4 C383.8,760.4 384.1,762.4 384.4,764.3 C384.6,766.3 384.9,768.3 385.2,770.3 C385.5,772.3 385.9,774.3 386.2,776.3 C386.5,778.3 386.9,780.3 387.2,782.2 C387.6,784.2 387.9,786.2 388.3,788.2 C388.7,790.2 389.1,792.2 389.5,794.2 C389.9,796.2 390.3,798.2 390.7,800.2 C391.1,802.2 391.5,804.2 392,806.3 C392.4,808.3 392.9,810.3 393.3,812.3 C393.8,814.3 394.3,816.3 394.7,818.3 C395.2,820.3 395.7,822.3 396.2,824.3 C396.8,826.3 397.3,828.3 397.8,830.3 C398.3,832.3 398.9,834.2 399.4,836.2 C400,838.2 400.6,840.2 401.2,842.2 C401.7,844.2 402.3,846.2 402.9,848.2 C403.5,850.1 404.2,852.1 404.8,854.1 C405.4,856.1 406.1,858.1 406.7,860 C407.4,862 408,864 408.7,865.9 C409.4,867.9 410.1,869.8 410.8,871.8 C411.5,873.7 412.2,875.7 412.9,877.6 C413.6,879.6 414.4,881.5 415.1,883.4 C415.9,885.4 416.7,887.3 417.4,889.2 C418.2,891.1 419,893.1 419.8,895 C420.6,896.9 421.4,898.8 422.3,900.7 C423.1,902.6 423.9,904.4 424.8,906.3 C425.6,908.2 426.5,910.1 427.4,912 C428.3,913.8 429.2,915.7 430.1,917.5 C431,919.4 431.9,921.2 432.8,923.1 C433.8,924.9 434.7,926.7 435.7,928.5 C436.6,930.4 437.6,932.2 438.6,934 C439.6,935.8 440.6,937.6 441.6,939.3 C442.6,941.1 443.6,942.9 444.7,944.7 C445.7,946.4 446.8,948.2 447.8,949.9 C448.9,951.6 450,953.4 451.1,955.1 C452.2,956.8 453.3,958.5 454.4,960.2 C455.5,961.9 456.7,963.6 457.8,965.3 C459,967 460.1,968.6 461.3,970.3 C462.5,971.9 463.7,973.6 464.9,975.2 C466.1,976.8 467.3,978.4 468.5,980 C469.8,981.6 471,983.2 472.3,984.8 C473.6,986.3 474.8,987.9 476.1,989.5 C477.4,991 478.7,992.5 480,994.1 C481.4,995.6 482.7,997.1 484.1,998.6 C485.4,1000.1 486.8,1001.5 488.1,1003 C489.5,1004.5 490.9,1005.9 492.3,1007.3 C493.7,1008.8 495.1,1010.2 496.6,1011.6 C498,1013 499.4,1014.4 500.9,1015.8 C502.3,1017.2 503.8,1018.5 505.3,1019.9 C506.8,1021.2 508.3,1022.6 509.8,1023.9 C511.3,1025.2 512.8,1026.5 514.3,1027.8 C515.8,1029.1 517.4,1030.3 518.9,1031.6 C520.5,1032.9 522.1,1034.1 523.6,1035.3 C525.2,1036.6 526.8,1037.8 528.4,1039 C530,1040.2 531.6,1041.3 533.2,1042.5 C534.9,1043.7 536.5,1044.8 538.1,1046 C539.8,1047.1 541.5,1048.2 543.1,1049.3 C544.8,1050.4 546.5,1051.5 548.2,1052.6 C549.8,1053.6 551.5,1054.7 553.3,1055.7 C555,1056.8 556.7,1057.8 558.4,1058.8 C560.2,1059.8 561.9,1060.8 563.7,1061.7 C565.4,1062.7 567.2,1063.7 568.9,1064.6 C570.7,1065.5 572.5,1066.5 574.3,1067.4 C576.1,1068.3 577.9,1069.2 579.7,1070 C581.5,1070.9 583.3,1071.7 585.2,1072.6 C587,1073.4 588.8,1074.2 590.7,1075 C592.5,1075.8 594.4,1076.6 596.2,1077.4 C598.1,1078.1 600,1078.9 601.9,1079.6 C603.7,1080.4 605.6,1081.1 607.5,1081.8 C609.4,1082.5 611.3,1083.1 613.3,1083.8 C615.2,1084.5 617.1,1085.1 619,1085.7 C621,1086.3 622.9,1087 624.9,1087.5 C626.8,1088.1 628.8,1088.7 630.7,1089.3 C632.7,1089.8 634.7,1090.4 636.6,1090.9 C638.6,1091.4 640.6,1091.9 642.6,1092.4 C644.6,1092.9 646.6,1093.4 648.6,1093.8 C650.6,1094.3 652.6,1094.7 654.6,1095.1 C656.6,1095.5 658.7,1095.9 660.7,1096.3 C662.7,1096.7 664.8,1097.1 666.8,1097.4 C668.9,1097.8 670.9,1098.1 673,1098.4 C675,1098.7 677.1,1099 679.2,1099.3 C681.2,1099.6 683.3,1099.9 685.4,1100.1 C687.5,1100.4 689.5,1100.6 691.6,1100.8 C693.7,1101 695.8,1101.2 697.9,1101.4 C700,1101.6 702.1,1101.8 704.2,1101.9 C706.4,1102.1 708.5,1102.2 710.6,1102.3 C712.7,1102.4 715.9,1102.5 717,1102.6" stroke-width="3.7"/>
<path d="M388.4,748.6 C388.5,749.5 388.9,752.5 389.2,754.5 C389.5,756.4 389.8,758.4 390.1,760.4 C390.4,762.4 390.7,764.3 391.1,766.3 C391.4,768.3 391.7,770.3 392.1,772.3 C392.5,774.3 392.8,776.2 393.2,778.2 C393.6,780.2 393.9,782.2 394.3,784.2 C394.7,786.2 395.1,788.2 395.6,790.2 C396,792.2 396.4,794.2 396.8,796.2 C397.3,798.2 397.7,800.2 398.2,802.2 C398.6,804.2 399.1,806.2 399.6,808.2 C400.1,810.2 400.6,812.2 401.1,814.1 C401.6,816.1 402.1,818.1 402.6,820.1 C403.1,822.1 403.7,824.1 404.2,826.1 C404.8,828.1 405.3,830.1 405.9,832.1 C406.5,834 407.1,836 407.7,838 C408.3,840 408.9,842 409.5,843.9 C410.1,845.9 410.7,847.9 411.4,849.8 C412,851.8 412.7,853.8 413.4,855.7 C414,857.7 414.7,859.6 415.4,861.6 C416.1,863.5 416.8,865.5 417.5,867.4 C418.2,869.3 419,871.3 419.7,873.2 C420.5,875.1 421.2,877.1 422,879 C422.7,880.9 423.5,882.8 424.3,884.7 C425.1,886.6 425.9,888.5 426.7,890.4 C427.6,892.3 428.4,894.2 429.2,896 C430.1,897.9 431,899.8 431.8,901.7 C432.7,903.5 433.6,905.4 434.5,907.2 C435.4,909.1 436.3,910.9 437.2,912.7 C438.1,914.5 439.1,916.4 440,918.2 C441,920 442,921.8 442.9,923.6 C443.9,925.4 444.9,927.2 445.9,928.9 C446.9,930.7 448,932.5 449,934.2 C450,936 451.1,937.7 452.1,939.4 C453.2,941.2 454.3,942.9 455.4,944.6 C456.5,946.3 457.6,948 458.7,949.7 C459.8,951.3 461,953 462.1,954.7 C463.3,956.3 464.4,958 465.6,959.6 C466.8,961.3 468,962.9 469.2,964.5 C470.4,966.1 471.6,967.7 472.9,969.3 C474.1,970.8 475.4,972.4 476.6,974 C477.9,975.5 479.2,977.1 480.5,978.6 C481.8,980.1 483.1,981.6 484.4,983.1 C485.8,984.6 487.1,986.1 488.5,987.5 C489.8,989 491.2,990.5 492.6,991.9 C494,993.3 495.4,994.7 496.8,996.2 C498.2,997.6 499.7,998.9 501.1,1000.3 C502.6,1001.7 504,1003 505.5,1004.4 C507,1005.7 508.5,1007.1 510,1008.4 C511.5,1009.7 513,1011 514.5,1012.3 C516.1,1013.5 517.6,1014.8 519.2,1016 C520.7,1017.3 522.3,1018.5 523.9,1019.7 C525.5,1021 527.1,1022.2 528.7,1023.4 C530.3,1024.5 531.9,1025.7 533.5,1026.9 C535.2,1028 536.8,1029.2 538.5,1030.3 C540.1,1031.4 541.8,1032.5 543.5,1033.6 C545.1,1034.7 546.8,1035.8 548.5,1036.8 C550.2,1037.9 551.9,1038.9 553.7,1040 C555.4,1041 557.1,1042 558.9,1043 C560.6,1044 562.4,1045 564.1,1046 C565.9,1046.9 567.7,1047.9 569.5,1048.8 C571.3,1049.8 573,1050.7 574.9,1051.6 C576.7,1052.5 578.5,1053.4 580.3,1054.2 C582.1,1055.1 584,1056 585.8,1056.8 C587.6,1057.6 589.5,1058.5 591.4,1059.3 C593.2,1060.1 595.1,1060.9 597,1061.6 C598.8,1062.4 600.7,1063.2 602.6,1063.9 C604.5,1064.7 606.4,1065.4 608.3,1066.1 C610.2,1066.8 612.1,1067.5 614.1,1068.2 C616,1068.8 617.9,1069.5 619.9,1070.1 C621.8,1070.8 623.7,1071.4 625.7,1072 C627.6,1072.6 629.6,1073.2 631.6,1073.8 C633.5,1074.4 635.5,1075 637.5,1075.5 C639.5,1076.1 641.5,1076.6 643.4,1077.1 C645.4,1077.6 647.4,1078.1 649.4,1078.6 C651.4,1079.1 653.4,1079.5 655.5,1080 C657.5,1080.4 659.5,1080.9 661.5,1081.3 C663.5,1081.7 665.6,1082.1 667.6,1082.5 C669.6,1082.8 671.7,1083.2 673.7,1083.6 C675.7,1083.9 677.8,1084.2 679.8,1084.5 C681.9,1084.9 683.9,1085.2 686,1085.4 C688.1,1085.7 690.1,1086 692.2,1086.2 C694.2,1086.5 696.3,1086.7 698.4,1086.9 C700.4,1087.1 702.5,1087.3 704.6,1087.5 C706.7,1087.7 708.8,1087.9 710.8,1088 C712.9,1088.1 716,1088.3 717.1,1088.4" stroke-width="3.7"/>
<path d="M839.4,746.6 C839.4,747.6 839.4,750.6 839.5,752.6 C839.5,754.7 839.6,756.7 839.7,758.7 C839.7,760.7 839.8,762.7 839.9,764.8 C840,766.8 840.1,768.8 840.3,770.8 C840.4,772.9 840.6,774.9 840.7,776.9 C840.9,779 841.1,781 841.2,783 C841.4,785.1 841.6,787.1 841.9,789.1 C842.1,791.2 842.3,793.2 842.5,795.2 C842.8,797.3 843.1,799.3 843.3,801.3 C843.6,803.3 843.9,805.4 844.2,807.4 C844.5,809.4 844.8,811.5 845.1,813.5 C845.5,815.5 845.8,817.5 846.2,819.6 C846.5,821.6 846.9,823.6 847.3,825.6 C847.7,827.7 848.1,829.7 848.5,831.7 C848.9,833.7 849.4,835.7 849.8,837.7 C850.3,839.7 850.7,841.7 851.2,843.7 C851.7,845.7 852.2,847.7 852.7,849.7 C853.2,851.7 853.7,853.7 854.2,855.7 C854.8,857.7 855.3,859.7 855.9,861.7 C856.4,863.6 857,865.6 857.6,867.6 C858.2,869.5 858.8,871.5 859.4,873.5 C860.1,875.4 860.7,877.4 861.3,879.3 C862,881.3 862.7,883.2 863.4,885.1 C864,887.1 864.7,889 865.4,890.9 C866.2,892.8 866.9,894.7 867.6,896.6 C868.4,898.5 869.1,900.4 869.9,902.3 C870.7,904.2 871.5,906.1 872.3,908 C873.1,909.8 873.9,911.7 874.7,913.6 C875.6,915.4 876.4,917.3 877.3,919.1 C878.1,920.9 879,922.8 879.9,924.6 C880.8,926.4 881.7,928.2 882.6,930 C883.6,931.8 884.5,933.6 885.5,935.4 C886.4,937.2 887.4,938.9 888.4,940.7 C889.4,942.5 890.4,944.2 891.4,946 C892.4,947.7 893.4,949.4 894.5,951.1 C895.5,952.8 896.6,954.6 897.7,956.2 C898.7,957.9 899.8,959.6 901,961.3 C902.1,962.9 903.2,964.6 904.3,966.2 C905.5,967.9 906.6,969.5 907.8,971.1 C909,972.7 910.2,974.4 911.4,975.9 C912.6,977.5 913.8,979.1 915,980.7 C916.3,982.2 917.5,983.8 918.8,985.3 C920.1,986.8 921.3,988.4 922.6,989.9 C923.9,991.4 925.3,992.9 926.6,994.3 C927.9,995.8 929.3,997.3 930.6,998.7 C932,1000.1 933.4,1001.6 934.8,1003 C936.2,1004.4 937.6,1005.8 939,1007.2 C940.4,1008.5 941.9,1009.9 943.3,1011.3 C944.8,1012.6 946.3,1013.9 947.8,1015.2 C949.3,1016.6 950.8,1017.9 952.3,1019.1 C953.8,1020.4 955.3,1021.7 956.9,1022.9 C958.4,1024.2 960,1025.4 961.6,1026.7 C963.1,1027.9 964.7,1029.1 966.3,1030.3 C967.9,1031.5 969.5,1032.6 971.2,1033.8 C972.8,1035 974.4,1036.1 976.1,1037.2 C977.7,1038.3 979.4,1039.5 981.1,1040.6 C982.7,1041.7 984.4,1042.7 986.1,1043.8 C987.8,1044.9 989.5,1045.9 991.3,1047 C993,1048 994.7,1049 996.5,1050 C998.2,1051 1000,1052 1001.7,1053 C1003.5,1054 1005.3,1054.9 1007,1055.9 C1008.8,1056.8 1010.6,1057.8 1012.4,1058.7 C1014.2,1059.6 1016.1,1060.5 1017.9,1061.4 C1019.7,1062.3 1021.5,1063.2 1023.4,1064 C1025.2,1064.9 1027.1,1065.7 1028.9,1066.6 C1030.8,1067.4 1032.6,1068.2 1034.5,1069 C1036.4,1069.8 1038.3,1070.6 1040.2,1071.4 C1042.1,1072.2 1043.9,1072.9 1045.9,1073.7 C1047.8,1074.4 1049.7,1075.1 1051.6,1075.9 C1053.5,1076.6 1055.4,1077.3 1057.4,1078 C1059.3,1078.7 1061.2,1079.3 1063.2,1080 C1065.1,1080.7 1067,1081.3 1069,1081.9 C1071,1082.6 1072.9,1083.2 1074.9,1083.8 C1076.8,1084.4 1078.8,1085 1080.8,1085.6 C1082.8,1086.2 1084.7,1086.7 1086.7,1087.3 C1088.7,1087.8 1090.7,1088.4 1092.7,1088.9 C1094.7,1089.4 1096.7,1089.9 1098.6,1090.4 C1100.6,1090.9 1102.6,1091.4 1104.6,1091.9 C1106.7,1092.4 1108.7,1092.8 1110.7,1093.3 C1112.7,1093.7 1114.7,1094.2 1116.7,1094.6 C1118.7,1095 1120.7,1095.4 1122.7,1095.8 C1124.8,1096.2 1126.8,1096.6 1128.8,1097 C1130.8,1097.3 1132.8,1097.7 1134.9,1098 C1136.9,1098.4 1138.9,1098.7 1140.9,1099 C1142.9,1099.4 1145,1099.7 1147,1100 C1149,1100.2 1151,1100.5 1153.1,1100.8 C1155.1,1101.1 1157.1,1101.3 1159.1,1101.6 C1161.1,1101.8 1163.2,1102 1165.2,1102.3 C1167.2,1102.5 1169.2,1102.7 1171.2,1102.9 C1173.3,1103.1 1175.3,1103.3 1177.3,1103.4 C1179.3,1103.6 1182.3,1103.8 1183.3,1103.9" stroke-width="3.7"/>
<path d="M846,746.3 C846.1,747.3 846.1,750.2 846.2,752.2 C846.3,754.2 846.3,756.1 846.4,758.1 C846.5,760.1 846.6,762.1 846.8,764.1 C846.9,766.1 847,768.1 847.2,770.1 C847.3,772.1 847.5,774.1 847.7,776.1 C847.9,778.1 848,780.1 848.3,782.2 C848.5,784.2 848.7,786.2 848.9,788.2 C849.2,790.2 849.4,792.3 849.7,794.3 C850,796.3 850.3,798.3 850.6,800.4 C850.9,802.4 851.2,804.4 851.5,806.5 C851.8,808.5 852.2,810.5 852.5,812.6 C852.9,814.6 853.3,816.6 853.7,818.6 C854.1,820.7 854.5,822.7 854.9,824.7 C855.3,826.8 855.7,828.8 856.2,830.8 C856.6,832.8 857.1,834.8 857.6,836.9 C858.1,838.9 858.6,840.9 859.1,842.9 C859.6,844.9 860.1,846.9 860.7,848.9 C861.2,851 861.8,853 862.3,855 C862.9,857 863.5,858.9 864.1,860.9 C864.7,862.9 865.4,864.9 866,866.9 C866.6,868.9 867.3,870.8 868,872.8 C868.6,874.8 869.3,876.7 870,878.7 C870.7,880.7 871.4,882.6 872.2,884.6 C872.9,886.5 873.6,888.4 874.4,890.4 C875.2,892.3 876,894.2 876.7,896.1 C877.5,898 878.4,899.9 879.2,901.8 C880,903.7 880.9,905.6 881.7,907.5 C882.6,909.4 883.5,911.2 884.4,913.1 C885.3,914.9 886.2,916.8 887.1,918.6 C888,920.4 889,922.3 889.9,924.1 C890.9,925.9 891.9,927.7 892.9,929.5 C893.8,931.3 894.9,933.1 895.9,934.8 C896.9,936.6 898,938.4 899,940.1 C900.1,941.8 901.1,943.6 902.2,945.3 C903.3,947 904.4,948.7 905.6,950.4 C906.7,952.1 907.8,953.7 909,955.4 C910.2,957.1 911.3,958.7 912.5,960.3 C913.7,962 914.9,963.6 916.2,965.2 C917.4,966.8 918.6,968.4 919.9,969.9 C921.2,971.5 922.4,973 923.7,974.6 C925,976.1 926.4,977.6 927.7,979.1 C929,980.6 930.4,982.1 931.7,983.5 C933.1,985 934.5,986.5 935.9,987.9 C937.3,989.3 938.7,990.7 940.1,992.1 C941.6,993.5 943,994.9 944.5,996.2 C945.9,997.6 947.4,998.9 948.9,1000.2 C950.4,1001.5 951.9,1002.8 953.4,1004.1 C955,1005.4 956.5,1006.6 958.1,1007.9 C959.6,1009.1 961.2,1010.4 962.8,1011.6 C964.4,1012.8 966,1014 967.6,1015.1 C969.2,1016.3 970.8,1017.5 972.5,1018.6 C974.1,1019.7 975.8,1020.8 977.5,1021.9 C979.1,1023 980.8,1024.1 982.5,1025.2 C984.2,1026.2 985.9,1027.3 987.6,1028.3 C989.3,1029.3 991.1,1030.3 992.8,1031.3 C994.6,1032.3 996.3,1033.3 998.1,1034.2 C999.9,1035.2 1001.6,1036.1 1003.4,1037 C1005.2,1037.9 1007,1038.8 1008.8,1039.7 C1010.6,1040.6 1012.5,1041.4 1014.3,1042.3 C1016.1,1043.1 1018,1043.9 1019.8,1044.7 C1021.7,1045.5 1023.5,1046.3 1025.4,1047.1 C1027.3,1047.8 1029.2,1048.6 1031.1,1049.3 C1033,1050 1034.9,1050.7 1036.8,1051.4 C1038.7,1052.1 1040.6,1052.8 1042.5,1053.5 C1044.4,1054.1 1046.4,1054.8 1048.3,1055.4 C1050.3,1056 1052.2,1056.7 1054.2,1057.3 C1056.1,1057.9 1058.1,1058.4 1060.1,1059 C1062,1059.6 1064,1060.1 1066,1060.7 C1068,1061.2 1070,1061.7 1072,1062.2 C1074,1062.7 1076,1063.2 1078,1063.7 C1080,1064.2 1082,1064.6 1084,1065.1 C1086.1,1065.5 1088.1,1066 1090.1,1066.4 C1092.2,1066.8 1094.2,1067.2 1096.2,1067.6 C1098.3,1068 1100.3,1068.4 1102.4,1068.7 C1104.4,1069.1 1106.5,1069.5 1108.5,1069.8 C1110.6,1070.1 1112.7,1070.5 1114.7,1070.8 C1116.8,1071.1 1118.9,1071.4 1120.9,1071.7 C1123,1072 1125.1,1072.3 1127.1,1072.6 C1129.2,1072.8 1131.3,1073.1 1133.4,1073.3 C1135.5,1073.6 1138.6,1073.9 1139.6,1074.1" stroke-width="3.7"/>
<path d="M919.8,753.5 C919.9,754.5 920,757.4 920.2,759.4 C920.3,761.4 920.4,763.4 920.6,765.4 C920.8,767.3 920.9,769.3 921.1,771.3 C921.3,773.3 921.5,775.3 921.7,777.3 C921.9,779.3 922.1,781.3 922.4,783.3 C922.6,785.3 922.9,787.3 923.2,789.3 C923.4,791.3 923.7,793.3 924,795.3 C924.3,797.3 924.7,799.4 925,801.4 C925.3,803.4 925.7,805.4 926,807.4 C926.4,809.4 926.8,811.4 927.2,813.5 C927.5,815.5 928,817.5 928.4,819.5 C928.8,821.5 929.2,823.5 929.7,825.5 C930.1,827.6 930.6,829.6 931.1,831.6 C931.6,833.6 932.1,835.6 932.6,837.6 C933.1,839.6 933.6,841.6 934.1,843.6 C934.7,845.6 935.2,847.6 935.8,849.6 C936.4,851.6 937,853.6 937.6,855.6 C938.2,857.5 938.8,859.5 939.4,861.5 C940,863.5 940.7,865.5 941.4,867.4 C942,869.4 942.7,871.4 943.4,873.3 C944.1,875.3 944.8,877.2 945.5,879.2 C946.2,881.1 947,883.1 947.7,885 C948.5,886.9 949.2,888.9 950,890.8 C950.8,892.7 951.6,894.6 952.4,896.5 C953.2,898.4 954,900.3 954.9,902.2 C955.7,904.1 956.6,906 957.4,907.9 C958.3,909.7 959.2,911.6 960.1,913.5 C961,915.3 961.9,917.2 962.9,919 C963.8,920.8 964.7,922.7 965.7,924.5 C966.7,926.3 967.6,928.1 968.6,929.9 C969.6,931.7 970.6,933.5 971.7,935.3 C972.7,937 973.7,938.8 974.8,940.6 C975.8,942.3 976.9,944.1 978,945.8 C979.1,947.5 980.2,949.2 981.3,950.9 C982.4,952.6 983.5,954.3 984.7,956 C985.8,957.7 987,959.3 988.2,961 C989.3,962.6 990.5,964.3 991.7,965.9 C992.9,967.5 994.2,969.1 995.4,970.7 C996.6,972.3 997.9,973.9 999.2,975.4 C1000.4,977 1001.7,978.5 1003,980.1 C1004.3,981.6 1005.6,983.1 1007,984.6 C1008.3,986.1 1009.7,987.6 1011,989 C1012.4,990.5 1013.8,991.9 1015.1,993.4 C1016.5,994.8 1017.9,996.2 1019.4,997.6 C1020.8,999 1022.2,1000.4 1023.7,1001.7 C1025.1,1003.1 1026.6,1004.4 1028.1,1005.7 C1029.6,1007.1 1031.1,1008.4 1032.6,1009.7 C1034.1,1011 1035.6,1012.2 1037.2,1013.5 C1038.7,1014.7 1040.3,1016 1041.8,1017.2 C1043.4,1018.4 1045,1019.6 1046.6,1020.8 C1048.2,1022 1049.8,1023.2 1051.4,1024.3 C1053,1025.5 1054.6,1026.6 1056.3,1027.7 C1057.9,1028.9 1059.6,1030 1061.2,1031.1 C1062.9,1032.2 1064.6,1033.2 1066.3,1034.3 C1068,1035.4 1069.7,1036.4 1071.4,1037.4 C1073.1,1038.5 1074.8,1039.5 1076.5,1040.5 C1078.3,1041.5 1080,1042.5 1081.8,1043.4 C1083.5,1044.4 1085.3,1045.3 1087.1,1046.3 C1088.9,1047.2 1090.6,1048.1 1092.4,1049 C1094.2,1050 1096,1050.8 1097.8,1051.7 C1099.7,1052.6 1101.5,1053.5 1103.3,1054.3 C1105.1,1055.2 1107,1056 1108.8,1056.8 C1110.7,1057.7 1112.5,1058.5 1114.4,1059.3 C1116.3,1060 1118.1,1060.8 1120,1061.6 C1121.9,1062.4 1123.8,1063.1 1125.7,1063.8 C1127.6,1064.6 1129.5,1065.3 1131.4,1066 C1133.3,1066.7 1135.2,1067.4 1137.2,1068.1 C1139.1,1068.8 1141,1069.5 1143,1070.1 C1144.9,1070.8 1146.8,1071.4 1148.8,1072.1 C1150.7,1072.7 1152.7,1073.3 1154.6,1073.9 C1156.6,1074.5 1158.6,1075.1 1160.5,1075.7 C1162.5,1076.3 1164.5,1076.9 1166.5,1077.4 C1168.4,1078 1170.4,1078.5 1172.4,1079.1 C1174.4,1079.6 1176.4,1080.1 1178.4,1080.6 C1180.4,1081.1 1182.4,1081.6 1184.4,1082.1 C1186.4,1082.6 1188.4,1083.1 1190.4,1083.5 C1192.4,1084 1194.5,1084.5 1196.5,1084.9 C1198.5,1085.3 1200.5,1085.8 1202.5,1086.2 C1204.6,1086.6 1206.6,1087 1208.6,1087.4 C1210.6,1087.8 1212.7,1088.2 1214.7,1088.6 C1216.7,1088.9 1218.8,1089.3 1220.8,1089.6 C1222.8,1090 1224.9,1090.3 1226.9,1090.7 C1228.9,1091 1231,1091.3 1233,1091.6 C1235,1091.9 1237.1,1092.2 1239.1,1092.5 C1241.2,1092.8 1243.2,1093.1 1245.2,1093.4 C1247.3,1093.7 1249.3,1093.9 1251.3,1094.2 C1253.4,1094.4 1255.4,1094.7 1257.5,1094.9 C1259.5,1095.1 1261.5,1095.4 1263.6,1095.6 C1265.6,1095.8 1267.6,1096 1269.7,1096.2 C1271.7,1096.4 1273.7,1096.6 1275.7,1096.7 C1277.8,1096.9 1279.8,1097.1 1281.8,1097.3 C1283.8,1097.4 1285.9,1097.6 1287.9,1097.7 C1289.9,1097.9 1291.9,1098 1293.9,1098.1 C1295.9,1098.2 1297.9,1098.4 1299.9,1098.5 C1301.9,1098.6 1304.9,1098.7 1305.9,1098.8" stroke-width="3.7"/>
<path d="M986.5,745.8 C986.6,746.7 987.1,749.7 987.4,751.7 C987.7,753.7 988,755.7 988.3,757.7 C988.6,759.7 988.9,761.6 989.2,763.6 C989.6,765.6 989.9,767.6 990.3,769.6 C990.6,771.6 991,773.6 991.3,775.6 C991.7,777.6 992.1,779.6 992.5,781.6 C992.9,783.6 993.2,785.6 993.7,787.6 C994.1,789.6 994.5,791.6 994.9,793.6 C995.3,795.6 995.8,797.6 996.2,799.6 C996.7,801.6 997.1,803.6 997.6,805.6 C998.1,807.6 998.5,809.5 999,811.5 C999.5,813.5 1000,815.5 1000.5,817.5 C1001,819.5 1001.6,821.5 1002.1,823.5 C1002.6,825.5 1003.2,827.4 1003.7,829.4 C1004.3,831.4 1004.8,833.4 1005.4,835.3 C1006,837.3 1006.6,839.3 1007.2,841.3 C1007.8,843.2 1008.4,845.2 1009,847.2 C1009.6,849.1 1010.3,851.1 1010.9,853 C1011.5,855 1012.2,856.9 1012.9,858.9 C1013.5,860.8 1014.2,862.8 1014.9,864.7 C1015.6,866.6 1016.3,868.6 1017,870.5 C1017.7,872.4 1018.4,874.3 1019.2,876.2 C1019.9,878.2 1020.7,880.1 1021.4,882 C1022.2,883.9 1023,885.8 1023.7,887.7 C1024.5,889.6 1025.3,891.4 1026.1,893.3 C1027,895.2 1027.8,897.1 1028.6,898.9 C1029.5,900.8 1030.3,902.7 1031.2,904.5 C1032,906.4 1032.9,908.2 1033.8,910 C1034.7,911.9 1035.6,913.7 1036.5,915.5 C1037.4,917.3 1038.3,919.1 1039.3,920.9 C1040.2,922.7 1041.2,924.5 1042.1,926.3 C1043.1,928.1 1044.1,929.9 1045.1,931.7 C1046.1,933.4 1047.1,935.2 1048.1,936.9 C1049.1,938.7 1050.1,940.4 1051.2,942.1 C1052.2,943.9 1053.3,945.6 1054.4,947.3 C1055.5,949 1056.6,950.7 1057.7,952.4 C1058.8,954.1 1059.9,955.7 1061,957.4 C1062.1,959.1 1063.3,960.7 1064.5,962.4 C1065.6,964 1066.8,965.7 1068,967.3 C1069.2,968.9 1070.4,970.5 1071.6,972.1 C1072.8,973.7 1074.1,975.3 1075.3,976.8 C1076.5,978.4 1077.8,980 1079.1,981.5 C1080.4,983.1 1081.7,984.6 1083,986.1 C1084.3,987.6 1085.6,989.1 1086.9,990.6 C1088.3,992.1 1089.6,993.6 1091,995.1 C1092.4,996.5 1093.8,998 1095.1,999.4 C1096.5,1000.9 1098,1002.3 1099.4,1003.7 C1100.8,1005.1 1102.2,1006.5 1103.7,1007.9 C1105.1,1009.3 1106.6,1010.7 1108.1,1012 C1109.6,1013.4 1111,1014.7 1112.5,1016 C1114.1,1017.4 1115.6,1018.7 1117.1,1020 C1118.6,1021.3 1120.2,1022.6 1121.7,1023.8 C1123.3,1025.1 1124.8,1026.4 1126.4,1027.6 C1128,1028.9 1129.6,1030.1 1131.2,1031.3 C1132.8,1032.5 1134.4,1033.7 1136,1034.9 C1137.7,1036.1 1139.3,1037.3 1140.9,1038.4 C1142.6,1039.6 1144.2,1040.7 1145.9,1041.9 C1147.6,1043 1149.3,1044.1 1151,1045.2 C1152.7,1046.3 1154.4,1047.4 1156.1,1048.4 C1157.8,1049.5 1159.5,1050.6 1161.2,1051.6 C1163,1052.6 1164.7,1053.7 1166.5,1054.7 C1168.2,1055.7 1170,1056.7 1171.8,1057.6 C1173.5,1058.6 1175.3,1059.6 1177.1,1060.5 C1178.9,1061.5 1180.7,1062.4 1182.5,1063.3 C1184.3,1064.2 1186.1,1065.1 1188,1066 C1189.8,1066.9 1191.6,1067.7 1193.5,1068.6 C1195.3,1069.4 1197.2,1070.3 1199,1071.1 C1200.9,1071.9 1202.8,1072.7 1204.6,1073.5 C1206.5,1074.3 1208.4,1075 1210.3,1075.8 C1212.2,1076.6 1214.1,1077.3 1216,1078 C1217.9,1078.7 1219.8,1079.4 1221.8,1080.1 C1223.7,1080.8 1225.6,1081.5 1227.6,1082.1 C1229.5,1082.8 1231.4,1083.4 1233.4,1084 C1235.3,1084.7 1237.3,1085.3 1239.3,1085.8 C1241.2,1086.4 1243.2,1087 1245.2,1087.6 C1247.1,1088.1 1249.1,1088.6 1251.1,1089.2 C1253.1,1089.7 1255.1,1090.2 1257.1,1090.7 C1259.1,1091.1 1261.1,1091.6 1263.1,1092.1 C1265.1,1092.5 1267.1,1092.9 1269.2,1093.4 C1271.2,1093.8 1273.2,1094.2 1275.2,1094.5 C1277.3,1094.9 1279.3,1095.3 1281.3,1095.6 C1283.4,1096 1285.4,1096.3 1287.5,1096.6 C1289.5,1096.9 1291.6,1097.2 1293.6,1097.5 C1295.7,1097.7 1297.7,1098 1299.8,1098.2 C1301.9,1098.5 1305,1098.8 1306,1098.9" stroke-width="3.7"/>
<path d="M987.7,745.8 C987.9,746.8 988.6,749.6 989,751.5 C989.5,753.4 989.9,755.3 990.4,757.2 C990.9,759.1 991.3,761 991.8,763 C992.3,764.9 992.8,766.8 993.3,768.7 C993.8,770.7 994.3,772.6 994.8,774.5 C995.3,776.5 995.8,778.4 996.3,780.3 C996.9,782.3 997.4,784.2 997.9,786.2 C998.5,788.1 999,790.1 999.6,792 C1000.1,794 1000.7,795.9 1001.3,797.9 C1001.9,799.8 1002.4,801.8 1003,803.7 C1003.6,805.7 1004.2,807.6 1004.8,809.6 C1005.4,811.5 1006,813.5 1006.7,815.4 C1007.3,817.4 1007.9,819.3 1008.6,821.3 C1009.2,823.2 1009.9,825.2 1010.5,827.1 C1011.2,829.1 1011.9,831 1012.6,833 C1013.2,834.9 1013.9,836.9 1014.6,838.8 C1015.3,840.8 1016,842.7 1016.8,844.7 C1017.5,846.6 1018.2,848.5 1018.9,850.5 C1019.7,852.4 1020.4,854.3 1021.2,856.2 C1022,858.2 1022.7,860.1 1023.5,862 C1024.3,863.9 1025.1,865.8 1025.9,867.7 C1026.7,869.6 1027.5,871.6 1028.3,873.5 C1029.1,875.3 1030,877.2 1030.8,879.1 C1031.7,881 1032.5,882.9 1033.4,884.8 C1034.3,886.6 1035.1,888.5 1036,890.4 C1036.9,892.2 1037.8,894.1 1038.7,895.9 C1039.6,897.8 1040.6,899.6 1041.5,901.5 C1042.4,903.3 1043.4,905.1 1044.3,906.9 C1045.3,908.8 1046.3,910.6 1047.3,912.4 C1048.2,914.2 1049.2,916 1050.2,917.8 C1051.3,919.5 1052.3,921.3 1053.3,923.1 C1054.3,924.8 1055.4,926.6 1056.4,928.3 C1057.5,930.1 1058.6,931.8 1059.7,933.5 C1060.7,935.3 1061.8,937 1062.9,938.7 C1064,940.4 1065.2,942.1 1066.3,943.8 C1067.4,945.4 1068.6,947.1 1069.7,948.8 C1070.9,950.4 1072.1,952.1 1073.3,953.7 C1074.5,955.3 1075.7,957 1076.9,958.6 C1078.1,960.2 1079.3,961.8 1080.6,963.3 C1081.8,964.9 1083.1,966.5 1084.3,968 C1085.6,969.6 1086.9,971.1 1088.2,972.7 C1089.5,974.2 1090.8,975.7 1092.1,977.2 C1093.4,978.7 1094.8,980.2 1096.1,981.6 C1097.5,983.1 1098.9,984.5 1100.3,986 C1101.6,987.4 1103,988.8 1104.5,990.2 C1105.9,991.6 1107.3,993 1108.7,994.4 C1110.2,995.8 1111.6,997.1 1113.1,998.5 C1114.6,999.8 1116.1,1001.1 1117.6,1002.4 C1119.1,1003.7 1120.6,1005 1122.1,1006.3 C1123.6,1007.6 1125.1,1008.8 1126.7,1010.1 C1128.2,1011.3 1129.8,1012.6 1131.4,1013.8 C1133,1015 1134.5,1016.2 1136.1,1017.4 C1137.7,1018.5 1139.4,1019.7 1141,1020.9 C1142.6,1022 1144.2,1023.1 1145.9,1024.3 C1147.5,1025.4 1149.2,1026.5 1150.9,1027.6 C1152.5,1028.6 1154.2,1029.7 1155.9,1030.8 C1157.6,1031.8 1159.3,1032.8 1161,1033.9 C1162.8,1034.9 1164.5,1035.9 1166.2,1036.9 C1168,1037.9 1169.7,1038.8 1171.5,1039.8 C1173.2,1040.7 1175,1041.7 1176.8,1042.6 C1178.6,1043.5 1180.3,1044.4 1182.1,1045.3 C1183.9,1046.2 1185.8,1047.1 1187.6,1048 C1189.4,1048.8 1191.2,1049.7 1193.1,1050.5 C1194.9,1051.3 1196.7,1052.1 1198.6,1052.9 C1200.5,1053.7 1202.3,1054.5 1204.2,1055.2 C1206.1,1056 1207.9,1056.7 1209.8,1057.5 C1211.7,1058.2 1213.6,1058.9 1215.5,1059.6 C1217.4,1060.3 1219.4,1061 1221.3,1061.6 C1223.2,1062.3 1225.1,1062.9 1227.1,1063.6 C1229,1064.2 1231,1064.8 1232.9,1065.4 C1234.9,1066 1236.8,1066.6 1238.8,1067.1 C1240.8,1067.7 1242.8,1068.2 1244.7,1068.8 C1246.7,1069.3 1248.7,1069.8 1250.7,1070.3 C1252.7,1070.8 1254.7,1071.3 1256.7,1071.7 C1258.7,1072.2 1260.7,1072.6 1262.8,1073.1 C1264.8,1073.5 1266.8,1073.9 1268.8,1074.3 C1270.9,1074.7 1272.9,1075.1 1275,1075.4 C1277,1075.8 1279.1,1076.1 1281.1,1076.5 C1283.2,1076.8 1285.2,1077.1 1287.3,1077.4 C1289.4,1077.7 1291.4,1078 1293.5,1078.2 C1295.6,1078.5 1297.7,1078.7 1299.7,1079 C1301.8,1079.2 1305,1079.5 1306,1079.6" stroke-width="3.7"/>
<path d="M282.3,1278 C282.4,1279 282.5,1281.9 282.6,1283.9 C282.7,1286 282.8,1288 282.9,1290 C283,1292 283.1,1294 283.3,1296 C283.4,1298 283.6,1300 283.8,1302 C283.9,1304.1 284.1,1306.1 284.3,1308.1 C284.5,1310.1 284.7,1312.1 285,1314.2 C285.2,1316.2 285.4,1318.2 285.7,1320.2 C285.9,1322.2 286.2,1324.3 286.5,1326.3 C286.7,1328.3 287,1330.3 287.3,1332.4 C287.6,1334.4 287.9,1336.4 288.3,1338.4 C288.6,1340.5 288.9,1342.5 289.3,1344.5 C289.6,1346.5 290,1348.5 290.4,1350.6 C290.8,1352.6 291.2,1354.6 291.6,1356.6 C292,1358.6 292.4,1360.6 292.9,1362.6 C293.3,1364.6 293.7,1366.7 294.2,1368.7 C294.7,1370.7 295.1,1372.7 295.6,1374.7 C296.1,1376.7 296.6,1378.6 297.2,1380.6 C297.7,1382.6 298.2,1384.6 298.8,1386.6 C299.3,1388.6 299.9,1390.6 300.4,1392.5 C301,1394.5 301.6,1396.5 302.2,1398.4 C302.8,1400.4 303.4,1402.3 304.1,1404.3 C304.7,1406.2 305.4,1408.2 306,1410.1 C306.7,1412.1 307.4,1414 308,1415.9 C308.7,1417.9 309.4,1419.8 310.2,1421.7 C310.9,1423.6 311.6,1425.5 312.4,1427.4 C313.1,1429.3 313.9,1431.2 314.7,1433.1 C315.4,1435 316.2,1436.8 317,1438.7 C317.8,1440.6 318.7,1442.4 319.5,1444.3 C320.3,1446.1 321.2,1448 322.1,1449.8 C322.9,1451.6 323.8,1453.5 324.7,1455.3 C325.6,1457.1 326.5,1458.9 327.5,1460.7 C328.4,1462.5 329.3,1464.3 330.3,1466 C331.3,1467.8 332.2,1469.6 333.2,1471.3 C334.2,1473.1 335.2,1474.8 336.2,1476.5 C337.3,1478.3 338.3,1480 339.3,1481.7 C340.4,1483.4 341.5,1485.1 342.5,1486.8 C343.6,1488.5 344.7,1490.1 345.8,1491.8 C347,1493.5 348.1,1495.1 349.2,1496.7 C350.4,1498.4 351.5,1500 352.7,1501.6 C353.9,1503.2 355.1,1504.8 356.3,1506.4 C357.5,1507.9 358.7,1509.5 360,1511 C361.2,1512.6 362.5,1514.1 363.7,1515.6 C365,1517.2 366.3,1518.7 367.6,1520.2 C368.9,1521.6 370.2,1523.1 371.6,1524.6 C372.9,1526 374.3,1527.5 375.6,1528.9 C377,1530.3 378.4,1531.7 379.8,1533.1 C381.2,1534.5 382.6,1535.9 384.1,1537.3 C385.5,1538.6 387,1540 388.4,1541.3 C389.9,1542.6 391.4,1543.9 392.9,1545.2 C394.4,1546.5 395.9,1547.8 397.4,1549.1 C398.9,1550.3 400.5,1551.6 402,1552.8 C403.6,1554.1 405.1,1555.3 406.7,1556.5 C408.3,1557.7 409.9,1558.8 411.5,1560 C413.1,1561.2 414.7,1562.3 416.4,1563.5 C418,1564.6 419.7,1565.7 421.3,1566.8 C423,1567.9 424.6,1569 426.3,1570.1 C428,1571.1 429.7,1572.2 431.4,1573.2 C433.1,1574.3 434.8,1575.3 436.6,1576.3 C438.3,1577.3 440.1,1578.3 441.8,1579.2 C443.6,1580.2 445.3,1581.2 447.1,1582.1 C448.9,1583 450.7,1583.9 452.5,1584.9 C454.2,1585.8 456.1,1586.6 457.9,1587.5 C459.7,1588.4 461.5,1589.2 463.3,1590.1 C465.2,1590.9 467,1591.7 468.9,1592.5 C470.7,1593.3 472.6,1594.1 474.5,1594.9 C476.3,1595.7 478.2,1596.4 480.1,1597.2 C482,1597.9 483.9,1598.6 485.8,1599.3 C487.7,1600 489.6,1600.7 491.5,1601.4 C493.4,1602.1 495.3,1602.7 497.3,1603.4 C499.2,1604 501.1,1604.6 503.1,1605.2 C505,1605.8 507,1606.4 508.9,1607 C510.9,1607.6 512.9,1608.1 514.8,1608.6 C516.8,1609.2 518.8,1609.7 520.8,1610.2 C522.7,1610.7 524.7,1611.2 526.7,1611.7 C528.7,1612.1 530.7,1612.6 532.7,1613 C534.7,1613.5 536.7,1613.9 538.7,1614.3 C540.7,1614.7 542.8,1615.1 544.8,1615.5 C546.8,1615.8 548.8,1616.2 550.8,1616.5 C552.9,1616.9 554.9,1617.2 556.9,1617.5 C559,1617.8 561,1618.1 563,1618.3 C565.1,1618.6 567.1,1618.8 569.2,1619.1 C571.2,1619.3 573.3,1619.5 575.3,1619.7 C577.3,1619.9 579.4,1620.1 581.4,1620.3 C583.5,1620.5 585.6,1620.6 587.6,1620.7 C589.7,1620.9 591.7,1621 593.8,1621.1 C595.8,1621.2 597.9,1621.3 599.9,1621.3 C602,1621.4 604.1,1621.4 606.1,1621.5 C608.2,1621.5 610.2,1621.5 612.3,1621.5 C614.3,1621.5 617.4,1621.5 618.4,1621.5" stroke-width="3.7"/>
<path d="M343.1,1268 C343.2,1269 343.6,1272 343.9,1273.9 C344.2,1275.9 344.5,1277.9 344.8,1279.9 C345.1,1281.9 345.4,1283.9 345.7,1285.9 C346.1,1287.9 346.4,1289.9 346.7,1291.9 C347.1,1293.9 347.5,1295.9 347.8,1297.8 C348.2,1299.8 348.6,1301.8 349,1303.8 C349.3,1305.8 349.7,1307.8 350.1,1309.8 C350.6,1311.8 351,1313.8 351.4,1315.8 C351.8,1317.8 352.3,1319.8 352.7,1321.8 C353.2,1323.8 353.7,1325.8 354.1,1327.8 C354.6,1329.8 355.1,1331.8 355.6,1333.8 C356.1,1335.8 356.6,1337.8 357.1,1339.8 C357.6,1341.7 358.1,1343.7 358.7,1345.7 C359.2,1347.7 359.8,1349.7 360.3,1351.7 C360.9,1353.6 361.5,1355.6 362.1,1357.6 C362.6,1359.6 363.2,1361.6 363.8,1363.5 C364.5,1365.5 365.1,1367.5 365.7,1369.4 C366.3,1371.4 367,1373.4 367.6,1375.3 C368.3,1377.3 368.9,1379.2 369.6,1381.2 C370.3,1383.1 371,1385.1 371.7,1387 C372.4,1389 373.1,1390.9 373.8,1392.8 C374.5,1394.8 375.3,1396.7 376,1398.6 C376.7,1400.5 377.5,1402.5 378.3,1404.4 C379,1406.3 379.8,1408.2 380.6,1410.1 C381.4,1412 382.2,1413.9 383,1415.8 C383.8,1417.7 384.7,1419.6 385.5,1421.5 C386.3,1423.3 387.2,1425.2 388,1427.1 C388.9,1428.9 389.8,1430.8 390.7,1432.6 C391.6,1434.5 392.5,1436.3 393.4,1438.2 C394.3,1440 395.2,1441.9 396.1,1443.7 C397.1,1445.5 398,1447.3 399,1449.1 C399.9,1450.9 400.9,1452.7 401.9,1454.5 C402.9,1456.3 403.9,1458.1 404.9,1459.9 C405.9,1461.7 406.9,1463.4 408,1465.2 C409,1466.9 410,1468.7 411.1,1470.4 C412.2,1472.2 413.2,1473.9 414.3,1475.6 C415.4,1477.3 416.5,1479 417.6,1480.8 C418.7,1482.5 419.9,1484.1 421,1485.8 C422.1,1487.5 423.3,1489.2 424.4,1490.8 C425.6,1492.5 426.8,1494.1 428,1495.8 C429.1,1497.4 430.3,1499.1 431.6,1500.7 C432.8,1502.3 434,1503.9 435.2,1505.5 C436.5,1507.1 437.7,1508.7 439,1510.2 C440.3,1511.8 441.5,1513.4 442.8,1514.9 C444.1,1516.5 445.4,1518 446.8,1519.5 C448.1,1521 449.4,1522.5 450.8,1524 C452.1,1525.5 453.5,1527 454.8,1528.5 C456.2,1530 457.6,1531.4 459,1532.9 C460.4,1534.3 461.8,1535.7 463.2,1537.1 C464.7,1538.6 466.1,1540 467.5,1541.4 C469,1542.7 470.5,1544.1 471.9,1545.5 C473.4,1546.8 474.9,1548.2 476.4,1549.5 C477.9,1550.9 479.4,1552.2 481,1553.5 C482.5,1554.8 484,1556.1 485.6,1557.4 C487.1,1558.6 488.7,1559.9 490.3,1561.1 C491.8,1562.4 493.4,1563.6 495,1564.8 C496.6,1566.1 498.2,1567.3 499.8,1568.5 C501.5,1569.6 503.1,1570.8 504.7,1572 C506.4,1573.1 508,1574.3 509.7,1575.4 C511.4,1576.5 513,1577.6 514.7,1578.7 C516.4,1579.8 518.1,1580.9 519.8,1582 C521.5,1583.1 523.2,1584.1 525,1585.2 C526.7,1586.2 528.4,1587.2 530.2,1588.2 C531.9,1589.2 533.7,1590.2 535.4,1591.2 C537.2,1592.2 539,1593.1 540.8,1594.1 C542.5,1595 544.3,1595.9 546.1,1596.8 C547.9,1597.7 549.8,1598.6 551.6,1599.5 C553.4,1600.4 555.2,1601.2 557.1,1602.1 C558.9,1602.9 560.7,1603.8 562.6,1604.6 C564.5,1605.4 566.3,1606.2 568.2,1607 C570.1,1607.7 571.9,1608.5 573.8,1609.2 C575.7,1610 577.6,1610.7 579.5,1611.4 C581.4,1612.1 583.3,1612.8 585.3,1613.5 C587.2,1614.2 589.1,1614.8 591,1615.5 C593,1616.1 594.9,1616.7 596.9,1617.3 C598.8,1617.9 600.8,1618.5 602.7,1619.1 C604.7,1619.6 606.7,1620.2 608.6,1620.7 C610.6,1621.3 612.6,1621.8 614.6,1622.3 C616.6,1622.8 618.6,1623.2 620.6,1623.7 C622.6,1624.2 624.6,1624.6 626.6,1625 C628.6,1625.5 630.6,1625.9 632.6,1626.3 C634.7,1626.6 636.7,1627 638.7,1627.4 C640.7,1627.7 642.8,1628 644.8,1628.3 C646.9,1628.7 648.9,1629 651,1629.2 C653,1629.5 655.1,1629.8 657.2,1630 C659.2,1630.2 661.3,1630.4 663.4,1630.6 C665.4,1630.8 667.5,1631 669.6,1631.2 C671.7,1631.3 673.8,1631.5 675.9,1631.6 C678,1631.7 680.1,1631.8 682.2,1631.9 C684.2,1632 686.4,1632 688.5,1632.1 C690.6,1632.1 692.7,1632.1 694.8,1632.1 C696.9,1632.1 700.1,1632.1 701.1,1632.1" stroke-width="3.7"/>
<path d="M351.8,1272 C352,1273 352.6,1276 352.9,1277.9 C353.3,1279.9 353.7,1281.9 354.1,1283.9 C354.5,1285.8 354.8,1287.8 355.3,1289.8 C355.7,1291.8 356.1,1293.7 356.5,1295.7 C356.9,1297.7 357.4,1299.7 357.8,1301.6 C358.2,1303.6 358.7,1305.6 359.2,1307.6 C359.6,1309.5 360.1,1311.5 360.6,1313.5 C361.1,1315.5 361.6,1317.4 362.1,1319.4 C362.6,1321.4 363.1,1323.4 363.6,1325.3 C364.1,1327.3 364.6,1329.3 365.2,1331.3 C365.7,1333.2 366.3,1335.2 366.8,1337.2 C367.4,1339.1 367.9,1341.1 368.5,1343.1 C369.1,1345 369.7,1347 370.3,1349 C370.9,1350.9 371.5,1352.9 372.1,1354.8 C372.7,1356.8 373.4,1358.7 374,1360.7 C374.6,1362.6 375.3,1364.6 376,1366.5 C376.6,1368.5 377.3,1370.4 378,1372.3 C378.7,1374.3 379.3,1376.2 380,1378.1 C380.7,1380.1 381.5,1382 382.2,1383.9 C382.9,1385.8 383.6,1387.7 384.4,1389.7 C385.1,1391.6 385.9,1393.5 386.7,1395.4 C387.4,1397.3 388.2,1399.2 389,1401.1 C389.8,1402.9 390.6,1404.8 391.4,1406.7 C392.2,1408.6 393,1410.5 393.9,1412.3 C394.7,1414.2 395.5,1416.1 396.4,1417.9 C397.2,1419.8 398.1,1421.6 399,1423.5 C399.9,1425.3 400.8,1427.2 401.7,1429 C402.6,1430.8 403.5,1432.6 404.4,1434.5 C405.3,1436.3 406.3,1438.1 407.2,1439.9 C408.2,1441.7 409.1,1443.5 410.1,1445.3 C411.1,1447 412,1448.8 413,1450.6 C414,1452.4 415,1454.1 416.1,1455.9 C417.1,1457.6 418.1,1459.4 419.2,1461.1 C420.2,1462.8 421.3,1464.6 422.3,1466.3 C423.4,1468 424.5,1469.7 425.6,1471.4 C426.7,1473.1 427.8,1474.8 428.9,1476.5 C430,1478.1 431.1,1479.8 432.3,1481.5 C433.4,1483.1 434.6,1484.8 435.7,1486.4 C436.9,1488 438.1,1489.7 439.3,1491.3 C440.5,1492.9 441.7,1494.5 442.9,1496.1 C444.1,1497.7 445.3,1499.3 446.6,1500.9 C447.8,1502.4 449.1,1504 450.3,1505.5 C451.6,1507.1 452.9,1508.6 454.2,1510.1 C455.5,1511.7 456.8,1513.2 458.1,1514.7 C459.4,1516.2 460.8,1517.7 462.1,1519.1 C463.5,1520.6 464.8,1522.1 466.2,1523.5 C467.6,1525 469,1526.4 470.4,1527.8 C471.8,1529.2 473.2,1530.6 474.6,1532 C476,1533.4 477.5,1534.8 478.9,1536.2 C480.4,1537.5 481.9,1538.9 483.3,1540.2 C484.8,1541.6 486.3,1542.9 487.8,1544.2 C489.3,1545.5 490.9,1546.8 492.4,1548.1 C493.9,1549.4 495.5,1550.6 497.1,1551.9 C498.6,1553.1 500.2,1554.4 501.8,1555.6 C503.4,1556.8 505,1558 506.6,1559.2 C508.2,1560.4 509.8,1561.5 511.5,1562.7 C513.1,1563.9 514.7,1565 516.4,1566.1 C518.1,1567.3 519.7,1568.4 521.4,1569.5 C523.1,1570.6 524.8,1571.6 526.5,1572.7 C528.2,1573.8 529.9,1574.8 531.6,1575.9 C533.4,1576.9 535.1,1577.9 536.9,1578.9 C538.6,1579.9 540.4,1580.9 542.1,1581.9 C543.9,1582.8 545.7,1583.8 547.5,1584.7 C549.2,1585.7 551,1586.6 552.8,1587.5 C554.7,1588.4 556.5,1589.3 558.3,1590.2 C560.1,1591 562,1591.9 563.8,1592.7 C565.6,1593.6 567.5,1594.4 569.3,1595.2 C571.2,1596 573.1,1596.8 575,1597.6 C576.8,1598.3 578.7,1599.1 580.6,1599.8 C582.5,1600.6 584.4,1601.3 586.3,1602 C588.2,1602.7 590.1,1603.4 592.1,1604 C594,1604.7 595.9,1605.4 597.8,1606 C599.8,1606.6 601.7,1607.3 603.7,1607.8 C605.6,1608.4 607.6,1609 609.5,1609.6 C611.5,1610.2 613.5,1610.7 615.4,1611.2 C617.4,1611.8 619.4,1612.3 621.4,1612.8 C623.4,1613.2 625.4,1613.7 627.4,1614.2 C629.4,1614.6 631.4,1615.1 633.4,1615.5 C635.4,1615.9 637.4,1616.3 639.4,1616.7 C641.4,1617.1 643.5,1617.4 645.5,1617.8 C647.5,1618.1 649.6,1618.4 651.6,1618.7 C653.6,1619 655.7,1619.3 657.7,1619.6 C659.8,1619.9 661.8,1620.1 663.9,1620.3 C665.9,1620.6 668,1620.8 670,1621 C672.1,1621.2 674.1,1621.3 676.2,1621.5 C678.3,1621.7 680.3,1621.8 682.4,1621.9 C684.5,1622 686.6,1622.1 688.6,1622.2 C690.7,1622.3 692.8,1622.3 694.9,1622.4 C696.9,1622.4 700.1,1622.4 701.1,1622.4" stroke-width="3.7"/>
<path d="M823.6,1273.8 C823.7,1274.8 824,1277.7 824.2,1279.7 C824.4,1281.6 824.6,1283.6 824.9,1285.6 C825.1,1287.5 825.3,1289.5 825.6,1291.5 C825.8,1293.5 826.1,1295.4 826.4,1297.4 C826.6,1299.4 826.9,1301.4 827.2,1303.4 C827.5,1305.3 827.8,1307.3 828.1,1309.3 C828.5,1311.3 828.8,1313.3 829.1,1315.3 C829.5,1317.3 829.8,1319.3 830.2,1321.3 C830.6,1323.3 830.9,1325.3 831.3,1327.3 C831.7,1329.3 832.1,1331.3 832.5,1333.3 C832.9,1335.3 833.3,1337.3 833.8,1339.3 C834.2,1341.3 834.7,1343.3 835.1,1345.3 C835.6,1347.3 836,1349.3 836.5,1351.3 C837,1353.3 837.5,1355.3 838,1357.2 C838.5,1359.2 839,1361.2 839.6,1363.2 C840.1,1365.2 840.6,1367.2 841.2,1369.2 C841.7,1371.2 842.3,1373.2 842.9,1375.1 C843.4,1377.1 844,1379.1 844.6,1381.1 C845.2,1383.1 845.9,1385 846.5,1387 C847.1,1389 847.7,1390.9 848.4,1392.9 C849,1394.8 849.7,1396.8 850.4,1398.8 C851.1,1400.7 851.8,1402.7 852.5,1404.6 C853.2,1406.5 853.9,1408.5 854.6,1410.4 C855.3,1412.3 856.1,1414.3 856.8,1416.2 C857.6,1418.1 858.3,1420 859.1,1421.9 C859.9,1423.8 860.7,1425.7 861.5,1427.6 C862.3,1429.5 863.1,1431.4 863.9,1433.3 C864.8,1435.2 865.6,1437.1 866.5,1438.9 C867.3,1440.8 868.2,1442.6 869.1,1444.5 C869.9,1446.3 870.8,1448.2 871.7,1450 C872.6,1451.8 873.6,1453.7 874.5,1455.5 C875.4,1457.3 876.4,1459.1 877.3,1460.9 C878.3,1462.7 879.3,1464.5 880.3,1466.3 C881.2,1468 882.2,1469.8 883.3,1471.6 C884.3,1473.3 885.3,1475.1 886.3,1476.8 C887.4,1478.5 888.4,1480.3 889.5,1482 C890.6,1483.7 891.6,1485.4 892.7,1487.1 C893.8,1488.8 894.9,1490.4 896.1,1492.1 C897.2,1493.8 898.3,1495.4 899.5,1497.1 C900.6,1498.7 901.8,1500.3 903,1502 C904.1,1503.6 905.3,1505.2 906.5,1506.8 C907.7,1508.4 909,1509.9 910.2,1511.5 C911.4,1513.1 912.7,1514.6 913.9,1516.1 C915.2,1517.7 916.5,1519.2 917.8,1520.7 C919.1,1522.2 920.4,1523.7 921.7,1525.2 C923,1526.6 924.3,1528.1 925.7,1529.5 C927,1531 928.4,1532.4 929.8,1533.8 C931.1,1535.2 932.5,1536.6 933.9,1538 C935.3,1539.4 936.8,1540.7 938.2,1542.1 C939.6,1543.4 941.1,1544.8 942.5,1546.1 C944,1547.4 945.5,1548.7 947,1549.9 C948.5,1551.2 950,1552.5 951.5,1553.7 C953,1554.9 954.6,1556.2 956.1,1557.4 C957.7,1558.6 959.2,1559.8 960.8,1560.9 C962.4,1562.1 964,1563.2 965.6,1564.4 C967.2,1565.5 968.8,1566.6 970.4,1567.7 C972.1,1568.8 973.7,1569.9 975.4,1570.9 C977,1572 978.7,1573 980.4,1574.1 C982.1,1575.1 983.8,1576.1 985.5,1577.1 C987.2,1578.1 988.9,1579.1 990.6,1580 C992.4,1581 994.1,1581.9 995.9,1582.8 C997.6,1583.8 999.4,1584.7 1001.2,1585.6 C1002.9,1586.5 1004.7,1587.3 1006.5,1588.2 C1008.3,1589.1 1010.1,1589.9 1011.9,1590.8 C1013.7,1591.6 1015.6,1592.4 1017.4,1593.2 C1019.2,1594 1021.1,1594.8 1022.9,1595.6 C1024.8,1596.3 1026.6,1597.1 1028.5,1597.8 C1030.4,1598.6 1032.3,1599.3 1034.2,1600 C1036,1600.7 1037.9,1601.4 1039.8,1602.1 C1041.7,1602.8 1043.7,1603.4 1045.6,1604.1 C1047.5,1604.8 1049.4,1605.4 1051.3,1606 C1053.3,1606.7 1055.2,1607.3 1057.2,1607.9 C1059.1,1608.5 1061,1609 1063,1609.6 C1065,1610.2 1066.9,1610.8 1068.9,1611.3 C1070.9,1611.8 1072.8,1612.4 1074.8,1612.9 C1076.8,1613.4 1078.8,1613.9 1080.8,1614.4 C1082.8,1614.9 1084.7,1615.4 1086.7,1615.9 C1088.7,1616.3 1090.7,1616.8 1092.8,1617.2 C1094.8,1617.7 1096.8,1618.1 1098.8,1618.5 C1100.8,1618.9 1102.8,1619.4 1104.8,1619.8 C1106.9,1620.2 1108.9,1620.5 1110.9,1620.9 C1112.9,1621.3 1115,1621.6 1117,1622 C1119,1622.4 1121.1,1622.7 1123.1,1623 C1125.1,1623.3 1127.2,1623.7 1129.2,1624 C1131.2,1624.3 1133.3,1624.6 1135.3,1624.9 C1137.4,1625.1 1139.4,1625.4 1141.4,1625.7 C1143.5,1626 1145.5,1626.2 1147.6,1626.5 C1149.6,1626.7 1151.7,1626.9 1153.7,1627.2 C1155.7,1627.4 1157.8,1627.6 1159.8,1627.8 C1161.9,1628 1163.9,1628.2 1165.9,1628.4 C1168,1628.6 1170,1628.8 1172.1,1628.9 C1174.1,1629.1 1176.1,1629.3 1178.2,1629.4 C1180.2,1629.6 1182.2,1629.7 1184.3,1629.8 C1186.3,1630 1188.3,1630.1 1190.3,1630.2 C1192.4,1630.3 1194.4,1630.4 1196.4,1630.5 C1198.4,1630.6 1200.4,1630.7 1202.5,1630.8 C1204.5,1630.9 1206.5,1631 1208.5,1631 C1210.5,1631.1 1212.5,1631.2 1214.5,1631.2 C1216.5,1631.3 1218.5,1631.3 1220.5,1631.4 C1222.4,1631.4 1225.4,1631.4 1226.4,1631.4" stroke-width="3.7"/>
<path d="M897.2,1269.7 C897.3,1270.6 897.5,1273.6 897.7,1275.6 C897.9,1277.6 898.1,1279.5 898.3,1281.5 C898.5,1283.5 898.7,1285.5 899,1287.5 C899.2,1289.5 899.4,1291.5 899.7,1293.5 C899.9,1295.5 900.2,1297.4 900.5,1299.4 C900.7,1301.4 901,1303.4 901.3,1305.4 C901.6,1307.4 901.9,1309.4 902.2,1311.4 C902.5,1313.4 902.9,1315.4 903.2,1317.4 C903.5,1319.4 903.9,1321.4 904.2,1323.4 C904.6,1325.5 905,1327.5 905.3,1329.5 C905.7,1331.5 906.1,1333.5 906.5,1335.5 C906.9,1337.5 907.3,1339.5 907.7,1341.5 C908.2,1343.5 908.6,1345.5 909.1,1347.5 C909.5,1349.4 910,1351.4 910.4,1353.4 C910.9,1355.4 911.4,1357.4 911.9,1359.4 C912.4,1361.4 912.9,1363.4 913.4,1365.4 C913.9,1367.3 914.4,1369.3 915,1371.3 C915.5,1373.3 916.1,1375.3 916.6,1377.2 C917.2,1379.2 917.8,1381.2 918.4,1383.1 C919,1385.1 919.6,1387.1 920.2,1389 C920.8,1391 921.4,1392.9 922,1394.9 C922.7,1396.8 923.3,1398.8 924,1400.7 C924.7,1402.6 925.3,1404.6 926,1406.5 C926.7,1408.4 927.4,1410.3 928.1,1412.3 C928.8,1414.2 929.6,1416.1 930.3,1418 C931,1419.9 931.8,1421.8 932.6,1423.7 C933.3,1425.6 934.1,1427.5 934.9,1429.3 C935.7,1431.2 936.5,1433.1 937.3,1435 C938.1,1436.8 939,1438.7 939.8,1440.5 C940.6,1442.4 941.5,1444.2 942.4,1446.1 C943.2,1447.9 944.1,1449.7 945,1451.5 C945.9,1453.4 946.8,1455.2 947.8,1457 C948.7,1458.8 949.6,1460.6 950.6,1462.3 C951.5,1464.1 952.5,1465.9 953.5,1467.7 C954.4,1469.4 955.4,1471.2 956.4,1472.9 C957.5,1474.7 958.5,1476.4 959.5,1478.1 C960.5,1479.9 961.6,1481.6 962.7,1483.3 C963.7,1485 964.8,1486.7 965.9,1488.4 C967,1490 968.1,1491.7 969.2,1493.4 C970.3,1495 971.5,1496.7 972.6,1498.3 C973.8,1500 974.9,1501.6 976.1,1503.2 C977.3,1504.8 978.5,1506.4 979.7,1508 C980.9,1509.6 982.1,1511.2 983.4,1512.7 C984.6,1514.3 985.9,1515.9 987.1,1517.4 C988.4,1518.9 989.7,1520.5 991,1522 C992.3,1523.5 993.6,1525 994.9,1526.5 C996.3,1527.9 997.6,1529.4 999,1530.9 C1000.3,1532.3 1001.7,1533.8 1003.1,1535.2 C1004.5,1536.6 1005.9,1538 1007.3,1539.4 C1008.7,1540.8 1010.1,1542.2 1011.6,1543.6 C1013,1544.9 1014.5,1546.3 1016,1547.6 C1017.4,1549 1018.9,1550.3 1020.4,1551.6 C1021.9,1552.9 1023.4,1554.2 1025,1555.5 C1026.5,1556.8 1028,1558 1029.6,1559.3 C1031.1,1560.5 1032.7,1561.8 1034.3,1563 C1035.9,1564.2 1037.5,1565.4 1039.1,1566.6 C1040.7,1567.8 1042.3,1569 1043.9,1570.2 C1045.5,1571.3 1047.2,1572.5 1048.8,1573.6 C1050.5,1574.7 1052.1,1575.8 1053.8,1576.9 C1055.5,1578 1057.2,1579.1 1058.9,1580.2 C1060.6,1581.3 1062.3,1582.3 1064,1583.4 C1065.7,1584.4 1067.4,1585.4 1069.2,1586.4 C1070.9,1587.4 1072.7,1588.4 1074.4,1589.4 C1076.2,1590.4 1078,1591.3 1079.7,1592.3 C1081.5,1593.2 1083.3,1594.1 1085.1,1595.1 C1086.9,1596 1088.7,1596.9 1090.5,1597.7 C1092.3,1598.6 1094.2,1599.5 1096,1600.3 C1097.8,1601.2 1099.7,1602 1101.5,1602.8 C1103.4,1603.6 1105.2,1604.4 1107.1,1605.2 C1109,1606 1110.8,1606.8 1112.7,1607.5 C1114.6,1608.3 1116.5,1609 1118.4,1609.7 C1120.3,1610.4 1122.2,1611.1 1124.1,1611.8 C1126,1612.5 1128,1613.1 1129.9,1613.8 C1131.8,1614.4 1133.7,1615.1 1135.7,1615.7 C1137.6,1616.3 1139.6,1616.9 1141.5,1617.5 C1143.5,1618.1 1145.4,1618.6 1147.4,1619.2 C1149.4,1619.7 1151.4,1620.2 1153.3,1620.8 C1155.3,1621.3 1157.3,1621.8 1159.3,1622.2 C1161.3,1622.7 1163.3,1623.2 1165.3,1623.6 C1167.3,1624.1 1169.3,1624.5 1171.3,1624.9 C1173.3,1625.3 1175.3,1625.7 1177.3,1626 C1179.3,1626.4 1181.4,1626.8 1183.4,1627.1 C1185.4,1627.4 1187.4,1627.8 1189.5,1628.1 C1191.5,1628.4 1193.6,1628.6 1195.6,1628.9 C1197.6,1629.2 1199.7,1629.4 1201.7,1629.6 C1203.8,1629.9 1205.8,1630.1 1207.9,1630.3 C1209.9,1630.5 1212,1630.6 1214.1,1630.8 C1216.1,1630.9 1218.2,1631.1 1220.3,1631.2 C1222.3,1631.3 1225.4,1631.4 1226.5,1631.5" stroke-width="3.7"/>
<path d="M900.2,1269.6 C900.3,1270.6 900.8,1273.6 901.2,1275.6 C901.6,1277.6 901.9,1279.6 902.3,1281.7 C902.7,1283.7 903,1285.7 903.4,1287.7 C903.8,1289.7 904.2,1291.7 904.6,1293.7 C905,1295.7 905.4,1297.7 905.8,1299.7 C906.3,1301.7 906.7,1303.7 907.1,1305.8 C907.6,1307.8 908,1309.8 908.5,1311.8 C908.9,1313.8 909.4,1315.8 909.9,1317.8 C910.3,1319.8 910.8,1321.8 911.3,1323.8 C911.8,1325.8 912.3,1327.8 912.8,1329.8 C913.3,1331.8 913.8,1333.8 914.3,1335.8 C914.9,1337.8 915.4,1339.8 916,1341.8 C916.5,1343.8 917.1,1345.8 917.6,1347.8 C918.2,1349.7 918.8,1351.7 919.3,1353.7 C919.9,1355.7 920.5,1357.7 921.1,1359.6 C921.7,1361.6 922.4,1363.6 923,1365.5 C923.6,1367.5 924.2,1369.5 924.9,1371.4 C925.5,1373.4 926.2,1375.3 926.9,1377.3 C927.5,1379.2 928.2,1381.2 928.9,1383.1 C929.6,1385.1 930.3,1387 931,1388.9 C931.7,1390.9 932.4,1392.8 933.2,1394.7 C933.9,1396.6 934.6,1398.5 935.4,1400.5 C936.2,1402.4 936.9,1404.3 937.7,1406.2 C938.5,1408.1 939.3,1409.9 940.1,1411.8 C940.9,1413.7 941.7,1415.6 942.5,1417.5 C943.3,1419.3 944.2,1421.2 945,1423.1 C945.9,1424.9 946.7,1426.8 947.6,1428.6 C948.5,1430.4 949.4,1432.3 950.3,1434.1 C951.2,1435.9 952.1,1437.7 953,1439.5 C953.9,1441.4 954.9,1443.2 955.8,1445 C956.8,1446.7 957.8,1448.5 958.7,1450.3 C959.7,1452.1 960.7,1453.8 961.7,1455.6 C962.7,1457.4 963.7,1459.1 964.7,1460.8 C965.8,1462.6 966.8,1464.3 967.9,1466 C968.9,1467.7 970,1469.4 971.1,1471.1 C972.2,1472.8 973.3,1474.5 974.4,1476.2 C975.5,1477.9 976.6,1479.5 977.8,1481.2 C978.9,1482.9 980.1,1484.5 981.2,1486.1 C982.4,1487.8 983.6,1489.4 984.8,1491 C986,1492.6 987.2,1494.2 988.4,1495.8 C989.6,1497.4 990.9,1498.9 992.1,1500.5 C993.4,1502.1 994.7,1503.6 995.9,1505.2 C997.2,1506.7 998.5,1508.2 999.9,1509.7 C1001.2,1511.2 1002.5,1512.7 1003.8,1514.2 C1005.2,1515.7 1006.6,1517.2 1007.9,1518.6 C1009.3,1520.1 1010.7,1521.5 1012.1,1523 C1013.5,1524.4 1015,1525.8 1016.4,1527.2 C1017.8,1528.6 1019.3,1530 1020.8,1531.4 C1022.2,1532.7 1023.7,1534.1 1025.2,1535.4 C1026.7,1536.8 1028.3,1538.1 1029.8,1539.4 C1031.3,1540.7 1032.9,1542 1034.4,1543.3 C1036,1544.6 1037.6,1545.8 1039.2,1547.1 C1040.8,1548.3 1042.4,1549.6 1044,1550.8 C1045.6,1552 1047.2,1553.2 1048.9,1554.4 C1050.5,1555.6 1052.2,1556.8 1053.9,1558 C1055.5,1559.1 1057.2,1560.3 1058.9,1561.4 C1060.6,1562.5 1062.3,1563.6 1064.1,1564.7 C1065.8,1565.8 1067.5,1566.9 1069.3,1568 C1071,1569.1 1072.7,1570.1 1074.5,1571.2 C1076.3,1572.2 1078.1,1573.2 1079.8,1574.2 C1081.6,1575.2 1083.4,1576.2 1085.2,1577.2 C1087,1578.2 1088.9,1579.1 1090.7,1580.1 C1092.5,1581 1094.4,1581.9 1096.2,1582.8 C1098.1,1583.8 1099.9,1584.7 1101.8,1585.5 C1103.6,1586.4 1105.5,1587.3 1107.4,1588.1 C1109.3,1589 1111.2,1589.8 1113.1,1590.6 C1115,1591.4 1116.9,1592.2 1118.8,1593 C1120.7,1593.8 1122.6,1594.5 1124.5,1595.3 C1126.5,1596 1128.4,1596.8 1130.3,1597.5 C1132.3,1598.2 1134.2,1598.9 1136.2,1599.6 C1138.1,1600.3 1140.1,1600.9 1142,1601.6 C1144,1602.2 1146,1602.9 1147.9,1603.5 C1149.9,1604.1 1151.9,1604.7 1153.9,1605.3 C1155.9,1605.8 1157.9,1606.4 1159.8,1606.9 C1161.8,1607.5 1163.8,1608 1165.8,1608.5 C1167.8,1609 1169.8,1609.5 1171.9,1610 C1173.9,1610.5 1175.9,1611 1177.9,1611.4 C1179.9,1611.8 1181.9,1612.3 1183.9,1612.7 C1186,1613.1 1188,1613.5 1190,1613.9 C1192,1614.2 1194.1,1614.6 1196.1,1614.9 C1198.1,1615.3 1200.1,1615.6 1202.2,1615.9 C1204.2,1616.2 1206.2,1616.5 1208.3,1616.7 C1210.3,1617 1212.3,1617.2 1214.4,1617.5 C1216.4,1617.7 1218.4,1617.9 1220.5,1618.1 C1222.5,1618.3 1225.6,1618.6 1226.6,1618.6" stroke-width="3.7"/>
<polyline points="282.3,398.9 303.2,393.7" stroke-width="1.6"/>
<polyline points="411.3,316 423,312.9" stroke-width="1.6"/>
<polyline points="383,489.4 385.5,495.8" stroke-width="1.6"/>
<polyline points="377.7,575.1 416,535.9" stroke-width="1.6"/>
<polyline points="518.9,513 534.9,501.6" stroke-width="1.6"/>
<polyline points="667.1,469.6 652.3,475.3" stroke-width="1.6"/>
<polyline points="658,518.7 645.5,523.2" stroke-width="1.6"/>
<polyline points="529.6,438.6 516.1,446.9" stroke-width="1.6"/>
<polyline points="523,204.5 510,218 494.5,235.2" stroke-width="1.6"/>
<polyline points="1001,263.2 1038.6,249.9" stroke-width="1.6"/>
<polyline points="953.3,471.3 945.5,475.2" stroke-width="1.6"/>
<polyline points="966.4,539.7 975.5,536.4" stroke-width="1.6"/>
<polyline points="1027.8,464 1010.8,475.8" stroke-width="1.6"/>
<polyline points="1125.5,493.4 1112.5,499.9" stroke-width="1.6"/>
<polyline points="1160.7,505.1 1147.7,514.9" stroke-width="1.6"/>
<polyline points="495.7,782.1 407.8,825.8" stroke-width="1.6"/>
<polyline points="424.2,973.5 410.1,983.6" stroke-width="1.6"/>
<polyline points="371,1012 372,1014" stroke-width="1.6"/>
<polyline points="337.4,1048.5 361.6,1036.8" stroke-width="1.6"/>
<polyline points="511.9,1010.7 525.1,1006.3" stroke-width="1.6"/>
<polyline points="595,1056 560,1061" stroke-width="1.6"/>
<polyline points="1105.4,796.4 1013.7,830" stroke-width="1.6"/>
<polyline points="975.7,1004.6 960,1011.6" stroke-width="1.6"/>
<polyline points="953.8,1044.4 967.9,1036.6" stroke-width="1.6"/>
<polyline points="1131.1,999.8 1105.7,1014.2" stroke-width="1.6"/>
<polyline points="1198.9,1040.5 1183.6,1043.8" stroke-width="1.6"/>
<polyline points="470,1321.4 376.4,1355.1" stroke-width="1.6"/>
<polyline points="470,1321.4 380.8,1369.4" stroke-width="1.6"/>
<polyline points="310.4,1409.8 318,1409.8" stroke-width="1.6"/>
<polyline points="990,1283.5 917.6,1312" stroke-width="1.6"/>
<polyline points="990,1283.5 916.4,1327.5" stroke-width="1.6"/>
</g>
<g fill="#000">
<text x="0" y="0" font-size="29.8" font-family="Liberation Sans" font-style="italic" font-weight="normal" transform="translate(165.80,222.50) scale(0.8779,1)" stroke="#000" stroke-width="0.7">K</text>
<text x="0" y="0" font-size="27.2" font-family="Liberation Sans" font-style="italic" font-weight="normal" transform="translate(183.87,227.40) scale(0.7303,1)" stroke="#000" stroke-width="0.7">n</text>
<text x="0" y="0" font-size="29.4" font-family="Liberation Sans" font-style="italic" font-weight="normal" transform="translate(166.94,268.50) scale(0.8656,1)" stroke="#000" stroke-width="0.7">10</text>
<text x="0" y="0" font-size="29.5" font-family="Liberation Sans" font-style="italic" font-weight="normal" transform="translate(173.61,347.60) scale(1.0085,1)" stroke="#000" stroke-width="0.7">8</text>
<text x="0" y="0" font-size="29.4" font-family="Liberation Sans" font-style="italic" font-weight="normal" transform="translate(170.96,426.80) scale(0.9333,1)" stroke="#000" stroke-width="0.7">6</text>
<text x="0" y="0" font-size="28.5" font-family="Liberation Sans" font-style="italic" font-weight="normal" transform="translate(173.34,509.40) scale(0.8703,1)" stroke="#000" stroke-width="0.7">4</text>
<text x="0" y="0" font-size="29.4" font-family="Liberation Sans" font-style="italic" font-weight="normal" transform="translate(175.54,583.60) scale(0.7903,1)" stroke="#000" stroke-width="0.7">2</text>
<text x="0" y="0" font-size="27" font-family="Liberation Sans" font-style="italic" font-weight="normal" transform="translate(175.83,616.90) scale(0.8131,1)" stroke="#000" stroke-width="0.7">1</text>
<text x="0" y="0" font-size="29.4" font-family="Liberation Sans" font-style="italic" font-weight="normal" transform="translate(193.93,658.00) scale(0.8397,1)" stroke="#000" stroke-width="0.7">0,6</text>
<text x="0" y="0" font-size="29.4" font-family="Liberation Sans" font-style="italic" font-weight="normal" transform="translate(264.16,658.00) scale(0.8951,1)" stroke="#000" stroke-width="0.7">0,7</text>
<text x="0" y="0" font-size="29.4" font-family="Liberation Sans" font-style="italic" font-weight="normal" transform="translate(345.07,658.00) scale(1.0441,1)" stroke="#000" stroke-width="0.7">0,8</text>
<text x="0" y="0" font-size="29.4" font-family="Liberation Sans" font-style="italic" font-weight="normal" transform="translate(428.68,658.00) scale(0.9529,1)" stroke="#000" stroke-width="0.7">0,9</text>
<text x="0" y="0" font-size="29.8" font-family="Liberation Sans" font-style="italic" font-weight="normal" transform="translate(596.47,658.00) scale(0.6818,1)" stroke="#000" stroke-width="0.7">1,1</text>
<text x="0" y="0" font-size="29.4" font-family="Liberation Sans" font-style="italic" font-weight="normal" transform="translate(675.61,658.00) scale(0.7824,1)" stroke="#000" stroke-width="0.7">1,2</text>
<text x="0" y="0" font-size="28.8" font-family="Liberation Sans" font-style="italic" font-weight="normal" transform="translate(517.23,657.80) scale(0.7716,1)" stroke="#000" stroke-width="0.7">1</text>
<text x="0" y="0" font-size="26.9" font-family="Liberation Sans" font-style="italic" font-weight="normal" transform="translate(723.71,656.50) scale(0.9562,1)" stroke="#000" stroke-width="0.7">K</text>
<text x="0" y="0" font-size="23.1" font-family="Liberation Sans" font-style="italic" font-weight="normal" transform="translate(749.76,645.40) scale(0.9852,1)" stroke="#000" stroke-width="0.7">on</text>
<text x="0" y="0" font-size="25.7" font-family="Liberation Sans" font-style="italic" font-weight="normal" transform="translate(745.06,666.40) scale(1.0401,1)" stroke="#000" stroke-width="0.7">м</text>
<text x="0" y="0" font-size="27.6" font-family="Liberation Sans" font-style="italic" font-weight="normal" transform="translate(464.67,198.20) scale(1.4459,1)" stroke="#000" stroke-width="0.7">β</text>
<text x="0" y="0" font-size="16.3" font-family="Liberation Sans" font-style="italic" font-weight="normal" transform="translate(486.61,203.30) scale(1.1414,1)" stroke="#000" stroke-width="0.7">2</text>
<text x="0" y="0" font-size="11.6" font-family="Liberation Sans" font-style="italic" font-weight="normal" transform="translate(504.57,194.20) scale(1.8057,1)" stroke="#000" stroke-width="0.7">=</text>
<text x="0" y="0" font-size="27.8" font-family="Liberation Sans" font-style="italic" font-weight="normal" transform="translate(518.90,197.60) scale(0.8404,1)" stroke="#000" stroke-width="0.7">1,12</text>
<text x="0" y="0" font-size="27.9" font-family="Liberation Sans" font-style="italic" font-weight="normal" transform="translate(651.08,197.00) scale(1.0052,1)" stroke="#000" stroke-width="0.7">ω</text>
<text x="0" y="0" font-size="17" font-family="Liberation Sans" font-style="italic" font-weight="normal" transform="translate(671.68,181.00) scale(1.1417,1)" stroke="#000" stroke-width="0.7">н</text>
<text x="0" y="0" font-size="14.3" font-family="Liberation Sans" font-style="italic" font-weight="normal" transform="translate(670.11,206.00) scale(1.2756,1)" stroke="#000" stroke-width="0.7">2</text>
<text x="0" y="0" font-size="27.6" font-family="Liberation Sans" font-style="italic" font-weight="normal" transform="translate(688.21,198.00) scale(1.3122,1)" stroke="#000" stroke-width="0.7">θ=50</text>
<text x="0" y="0" font-size="27.2" font-family="Liberation Sans" font-style="italic" font-weight="normal" transform="translate(591.35,360.00) scale(0.9758,1)" stroke="#000" stroke-width="0.7">0,5≤</text>
<text x="0" y="0" font-size="26.2" font-family="Liberation Sans" font-style="italic" font-weight="normal" transform="translate(644.77,360.00) scale(1.2016,1)" stroke="#000" stroke-width="0.7">β</text>
<text x="0" y="0" font-size="13.1" font-family="Liberation Sans" font-style="italic" font-weight="normal" transform="translate(661.71,365.00) scale(0.8574,1)" stroke="#000" stroke-width="0.7">1</text>
<text x="0" y="0" font-size="27.2" font-family="Liberation Sans" font-style="italic" font-weight="normal" transform="translate(668.31,360.00) scale(0.9713,1)" stroke="#000" stroke-width="0.7"><0,77</text>
<text x="0" y="0" font-size="28.9" font-family="Liberation Sans" font-style="italic" font-weight="normal" transform="translate(301.92,405.40) scale(0.8578,1)" stroke="#000" stroke-width="0.7">0,53</text>
<text x="0" y="0" font-size="28.5" font-family="Liberation Sans" font-style="italic" font-weight="normal" transform="translate(363.96,324.50) scale(0.8362,1)" stroke="#000" stroke-width="0.7">0,82</text>
<text x="0" y="0" font-size="29" font-family="Liberation Sans" font-style="italic" font-weight="normal" transform="translate(372.99,487.60) scale(1.0162,1)" stroke="#000" stroke-width="0.7">α</text>
<text x="0" y="0" font-size="31.4" font-family="Liberation Sans" font-style="italic" font-weight="normal" transform="translate(374.52,571.00) scale(0.8613,1)" stroke="#000" stroke-width="0.7">б</text>
<text x="0" y="0" font-size="35.3" font-family="Liberation Sans" font-style="italic" font-weight="normal" transform="translate(493.47,530.00) scale(1.2641,1)" stroke="#000" stroke-width="0.7">α</text>
<text x="0" y="0" font-size="27" font-family="Liberation Sans" font-style="italic" font-weight="normal" transform="translate(665.16,478.80) scale(1.4048,1)" stroke="#000" stroke-width="0.7">б</text>
<text x="0" y="0" font-size="29.4" font-family="Liberation Sans" font-style="italic" font-weight="normal" transform="translate(657.02,527.80) scale(0.9729,1)" stroke="#000" stroke-width="0.7">α</text>
<text x="0" y="0" font-size="25.9" font-family="Liberation Sans" font-style="italic" font-weight="normal" transform="translate(529.32,447.00) scale(1.0426,1)" stroke="#000" stroke-width="0.7">б</text>
<text x="0" y="0" font-size="29.8" font-family="Liberation Sans" font-style="italic" font-weight="normal" transform="translate(786.70,243.00) scale(0.8779,1)" stroke="#000" stroke-width="0.7">K</text>
<text x="0" y="0" font-size="27.2" font-family="Liberation Sans" font-style="italic" font-weight="normal" transform="translate(804.77,247.90) scale(0.7303,1)" stroke="#000" stroke-width="0.7">n</text>
<text x="0" y="0" font-size="28.4" font-family="Liberation Sans" font-style="italic" font-weight="normal" transform="translate(787.70,286.10) scale(0.8210,1)" stroke="#000" stroke-width="0.7">10</text>
<text x="0" y="0" font-size="28.4" font-family="Liberation Sans" font-style="italic" font-weight="normal" transform="translate(796.97,370.50) scale(0.9820,1)" stroke="#000" stroke-width="0.7">8</text>
<text x="0" y="0" font-size="29.9" font-family="Liberation Sans" font-style="italic" font-weight="normal" transform="translate(793.20,452.90) scale(0.8352,1)" stroke="#000" stroke-width="0.7">6</text>
<text x="0" y="0" font-size="30.4" font-family="Liberation Sans" font-style="italic" font-weight="normal" transform="translate(792.32,532.80) scale(0.9383,1)" stroke="#000" stroke-width="0.7">4</text>
<text x="0" y="0" font-size="29.9" font-family="Liberation Sans" font-style="italic" font-weight="normal" transform="translate(791.63,606.80) scale(0.7629,1)" stroke="#000" stroke-width="0.7">2</text>
<text x="0" y="0" font-size="28.8" font-family="Liberation Sans" font-style="italic" font-weight="normal" transform="translate(793.12,637.00) scale(0.6469,1)" stroke="#000" stroke-width="0.7">1</text>
<text x="0" y="0" font-size="30.9" font-family="Liberation Sans" font-style="italic" font-weight="normal" transform="translate(811.15,675.60) scale(0.8522,1)" stroke="#000" stroke-width="0.7">0,6</text>
<text x="0" y="0" font-size="30.9" font-family="Liberation Sans" font-style="italic" font-weight="normal" transform="translate(886.25,675.60) scale(0.8542,1)" stroke="#000" stroke-width="0.7">0,7</text>
<text x="0" y="0" font-size="30.9" font-family="Liberation Sans" font-style="italic" font-weight="normal" transform="translate(967.48,675.60) scale(0.9041,1)" stroke="#000" stroke-width="0.7">0,8</text>
<text x="0" y="0" font-size="30.9" font-family="Liberation Sans" font-style="italic" font-weight="normal" transform="translate(1045.64,675.60) scale(0.8653,1)" stroke="#000" stroke-width="0.7">0,9</text>
<text x="0" y="0" font-size="31.4" font-family="Liberation Sans" font-style="italic" font-weight="normal" transform="translate(1221.14,675.60) scale(0.6894,1)" stroke="#000" stroke-width="0.7">1,1</text>
<text x="0" y="0" font-size="30.9" font-family="Liberation Sans" font-style="italic" font-weight="normal" transform="translate(1296.45,675.60) scale(0.6898,1)" stroke="#000" stroke-width="0.7">1,2</text>
<text x="0" y="0" font-size="28.9" font-family="Liberation Sans" font-style="italic" font-weight="normal" transform="translate(1142.42,674.80) scale(0.7755,1)" stroke="#000" stroke-width="0.7">1</text>
<text x="0" y="0" font-size="26.9" font-family="Liberation Sans" font-style="italic" font-weight="normal" transform="translate(1333.91,672.50) scale(0.9562,1)" stroke="#000" stroke-width="0.7">K</text>
<text x="0" y="0" font-size="23.1" font-family="Liberation Sans" font-style="italic" font-weight="normal" transform="translate(1359.96,661.40) scale(0.9852,1)" stroke="#000" stroke-width="0.7">on</text>
<text x="0" y="0" font-size="25.7" font-family="Liberation Sans" font-style="italic" font-weight="normal" transform="translate(1355.26,682.40) scale(1.0401,1)" stroke="#000" stroke-width="0.7">м</text>
<text x="0" y="0" font-size="27.1" font-family="Liberation Sans" font-style="italic" font-weight="normal" transform="translate(906.67,383.30) scale(0.8744,1)" stroke="#000" stroke-width="0.7">0,7</text>
<text x="0" y="0" font-size="28.9" font-family="Liberation Sans" font-style="italic" font-weight="normal" transform="translate(951.62,345.50) scale(0.8618,1)" stroke="#000" stroke-width="0.7">0,05</text>
<text x="0" y="0" font-size="27.6" font-family="Liberation Sans" font-style="italic" font-weight="normal" transform="translate(1034.07,263.30) scale(1.4459,1)" stroke="#000" stroke-width="0.7">β</text>
<text x="0" y="0" font-size="16.3" font-family="Liberation Sans" font-style="italic" font-weight="normal" transform="translate(1056.01,268.40) scale(1.1414,1)" stroke="#000" stroke-width="0.7">2</text>
<text x="0" y="0" font-size="16.3" font-family="Liberation Sans" font-style="italic" font-weight="normal" transform="translate(1068.89,257.00) scale(0.6811,1)" stroke="#000" stroke-width="0.7">=</text>
<text x="0" y="0" font-size="28.2" font-family="Liberation Sans" font-style="italic" font-weight="normal" transform="translate(1081.28,263.80) scale(0.7080,1)" stroke="#000" stroke-width="0.7">1</text>
<text x="0" y="0" font-size="25.3" font-family="Liberation Sans" font-style="italic" font-weight="normal" transform="translate(1128.77,391.60) scale(0.9323,1)" stroke="#000" stroke-width="0.7">0,77≤</text>
<text x="0" y="0" font-size="24.4" font-family="Liberation Sans" font-style="italic" font-weight="normal" transform="translate(1188.73,391.60) scale(1.2182,1)" stroke="#000" stroke-width="0.7">β</text>
<text x="0" y="0" font-size="14.5" font-family="Liberation Sans" font-style="italic" font-weight="normal" transform="translate(1204.71,398.00) scale(0.7716,1)" stroke="#000" stroke-width="0.7">1</text>
<text x="0" y="0" font-size="25.3" font-family="Liberation Sans" font-style="italic" font-weight="normal" transform="translate(1212.01,391.60) scale(1.2243,1)" stroke="#000" stroke-width="0.7"><1,07</text>
<text x="0" y="0" font-size="29" font-family="Liberation Sans" font-style="italic" font-weight="normal" transform="translate(951.78,468.60) scale(0.9238,1)" stroke="#000" stroke-width="0.7">α</text>
<text x="0" y="0" font-size="32" font-family="Liberation Sans" font-style="italic" font-weight="normal" transform="translate(949.52,551.40) scale(0.7159,1)" stroke="#000" stroke-width="0.7">б</text>
<text x="0" y="0" font-size="28" font-family="Liberation Sans" font-style="italic" font-weight="normal" transform="translate(1009.20,465.00) scale(1.0434,1)" stroke="#000" stroke-width="0.7">α,б</text>
<text x="0" y="0" font-size="30.7" font-family="Liberation Sans" font-style="italic" font-weight="normal" transform="translate(1128.48,502.50) scale(0.8734,1)" stroke="#000" stroke-width="0.7">α</text>
<text x="0" y="0" font-size="32.9" font-family="Liberation Sans" font-style="italic" font-weight="normal" transform="translate(1160.40,511.60) scale(0.9515,1)" stroke="#000" stroke-width="0.7">б</text>
<text x="0" y="0" font-size="29.8" font-family="Liberation Sans" font-style="italic" font-weight="normal" transform="translate(151.40,749.50) scale(0.8779,1)" stroke="#000" stroke-width="0.7">K</text>
<text x="0" y="0" font-size="27.2" font-family="Liberation Sans" font-style="italic" font-weight="normal" transform="translate(169.47,754.40) scale(0.7303,1)" stroke="#000" stroke-width="0.7">n</text>
<text x="0" y="0" font-size="30.1" font-family="Liberation Sans" font-style="italic" font-weight="normal" transform="translate(151.62,794.20) scale(0.7494,1)" stroke="#000" stroke-width="0.7">10</text>
<text x="0" y="0" font-size="31.7" font-family="Liberation Sans" font-style="italic" font-weight="normal" transform="translate(160.22,872.80) scale(0.9341,1)" stroke="#000" stroke-width="0.7">8</text>
<text x="0" y="0" font-size="31.8" font-family="Liberation Sans" font-style="italic" font-weight="normal" transform="translate(157.06,953.70) scale(0.9750,1)" stroke="#000" stroke-width="0.7">6</text>
<text x="0" y="0" font-size="28.9" font-family="Liberation Sans" font-style="italic" font-weight="normal" transform="translate(159.72,1033.10) scale(0.9720,1)" stroke="#000" stroke-width="0.7">4</text>
<text x="0" y="0" font-size="31.7" font-family="Liberation Sans" font-style="italic" font-weight="normal" transform="translate(160.05,1112.80) scale(0.8312,1)" stroke="#000" stroke-width="0.7">2</text>
<text x="0" y="0" font-size="29.1" font-family="Liberation Sans" font-style="italic" font-weight="normal" transform="translate(160.48,1146.10) scale(0.6868,1)" stroke="#000" stroke-width="0.7">1</text>
<text x="0" y="0" font-size="29.4" font-family="Liberation Sans" font-style="italic" font-weight="normal" transform="translate(176.42,1187.00) scale(1.0066,1)" stroke="#000" stroke-width="0.7">0,6</text>
<text x="0" y="0" font-size="29.4" font-family="Liberation Sans" font-style="italic" font-weight="normal" transform="translate(257.24,1187.00) scale(0.9866,1)" stroke="#000" stroke-width="0.7">0,7</text>
<text x="0" y="0" font-size="29.4" font-family="Liberation Sans" font-style="italic" font-weight="normal" transform="translate(336.91,1187.00) scale(1.0136,1)" stroke="#000" stroke-width="0.7">0,8</text>
<text x="0" y="0" font-size="29.4" font-family="Liberation Sans" font-style="italic" font-weight="normal" transform="translate(421.13,1187.00) scale(0.9965,1)" stroke="#000" stroke-width="0.7">0,9</text>
<text x="0" y="0" font-size="29.8" font-family="Liberation Sans" font-style="italic" font-weight="normal" transform="translate(586.67,1187.00) scale(0.8129,1)" stroke="#000" stroke-width="0.7">1,1</text>
<text x="0" y="0" font-size="29.4" font-family="Liberation Sans" font-style="italic" font-weight="normal" transform="translate(667.40,1187.00) scale(0.9237,1)" stroke="#000" stroke-width="0.7">1,2</text>
<text x="0" y="0" font-size="28.9" font-family="Liberation Sans" font-style="italic" font-weight="normal" transform="translate(509.29,1187.00) scale(0.6824,1)" stroke="#000" stroke-width="0.7">1</text>
<text x="0" y="0" font-size="26.9" font-family="Liberation Sans" font-style="italic" font-weight="normal" transform="translate(710.51,1187.80) scale(0.9562,1)" stroke="#000" stroke-width="0.7">K</text>
<text x="0" y="0" font-size="23.1" font-family="Liberation Sans" font-style="italic" font-weight="normal" transform="translate(736.56,1176.70) scale(0.9852,1)" stroke="#000" stroke-width="0.7">on</text>
<text x="0" y="0" font-size="25.7" font-family="Liberation Sans" font-style="italic" font-weight="normal" transform="translate(731.86,1197.70) scale(1.0401,1)" stroke="#000" stroke-width="0.7">м</text>
<text x="0" y="0" font-size="27.6" font-family="Liberation Sans" font-style="italic" font-weight="normal" transform="translate(486.87,771.00) scale(1.4459,1)" stroke="#000" stroke-width="0.7">β</text>
<text x="0" y="0" font-size="16.3" font-family="Liberation Sans" font-style="italic" font-weight="normal" transform="translate(508.81,776.10) scale(1.1414,1)" stroke="#000" stroke-width="0.7">2</text>
<text x="0" y="0" font-size="15.7" font-family="Liberation Sans" font-style="italic" font-weight="normal" transform="translate(532.94,766.50) scale(1.1663,1)" stroke="#000" stroke-width="0.7">=</text>
<text x="0" y="0" font-size="30.1" font-family="Liberation Sans" font-style="italic" font-weight="normal" transform="translate(552.33,772.00) scale(0.8662,1)" stroke="#000" stroke-width="0.7">1,13</text>
<text x="0" y="0" font-size="28.6" font-family="Liberation Sans" font-style="italic" font-weight="normal" transform="translate(492.58,895.00) scale(0.8420,1)" stroke="#000" stroke-width="0.7">1,07≤</text>
<text x="0" y="0" font-size="27.6" font-family="Liberation Sans" font-style="italic" font-weight="normal" transform="translate(553.81,895.00) scale(1.2050,1)" stroke="#000" stroke-width="0.7">β</text>
<text x="0" y="0" font-size="14.5" font-family="Liberation Sans" font-style="italic" font-weight="normal" transform="translate(571.71,901.00) scale(0.7716,1)" stroke="#000" stroke-width="0.7">1</text>
<text x="0" y="0" font-size="28.6" font-family="Liberation Sans" font-style="italic" font-weight="normal" transform="translate(579.95,895.00) scale(1.1180,1)" stroke="#000" stroke-width="0.7"><1,2</text>
<text x="0" y="0" font-size="28.9" font-family="Liberation Sans" font-style="italic" font-weight="normal" transform="translate(311.97,932.00) scale(0.7419,1)" stroke="#000" stroke-width="0.7">0,79</text>
<text x="0" y="0" font-size="28.9" font-family="Liberation Sans" font-style="italic" font-weight="normal" transform="translate(354.62,892.20) scale(0.7811,1)" stroke="#000" stroke-width="0.7">0,96</text>
<text x="0" y="0" font-size="27" font-family="Liberation Sans" font-style="italic" font-weight="normal" transform="translate(395.18,970.00) scale(0.8932,1)" stroke="#000" stroke-width="0.7">α,б</text>
<text x="0" y="0" font-size="30.1" font-family="Liberation Sans" font-style="italic" font-weight="normal" transform="translate(363.90,1010.20) scale(0.8777,1)" stroke="#000" stroke-width="0.7">α</text>
<text x="0" y="0" font-size="33" font-family="Liberation Sans" font-style="italic" font-weight="normal" transform="translate(319.15,1057.10) scale(1.0933,1)" stroke="#000" stroke-width="0.7">б</text>
<text x="0" y="0" font-size="38.5" font-family="Liberation Sans" font-style="italic" font-weight="normal" transform="translate(525.21,1020.40) scale(0.8083,1)" stroke="#000" stroke-width="0.7">б</text>
<text x="0" y="0" font-size="36.1" font-family="Liberation Sans" font-style="italic" font-weight="normal" transform="translate(597.02,1056.40) scale(0.8716,1)" stroke="#000" stroke-width="0.7">α</text>
<text x="0" y="0" font-size="29.8" font-family="Liberation Sans" font-style="italic" font-weight="normal" transform="translate(771.40,759.30) scale(0.8779,1)" stroke="#000" stroke-width="0.7">K</text>
<text x="0" y="0" font-size="27.2" font-family="Liberation Sans" font-style="italic" font-weight="normal" transform="translate(789.47,764.20) scale(0.7303,1)" stroke="#000" stroke-width="0.7">n</text>
<text x="0" y="0" font-size="28.5" font-family="Liberation Sans" font-style="italic" font-weight="normal" transform="translate(773.76,796.40) scale(0.8657,1)" stroke="#000" stroke-width="0.7">10</text>
<text x="0" y="0" font-size="30.1" font-family="Liberation Sans" font-style="italic" font-weight="normal" transform="translate(783.56,875.00) scale(1.0527,1)" stroke="#000" stroke-width="0.7">8</text>
<text x="0" y="0" font-size="28.6" font-family="Liberation Sans" font-style="italic" font-weight="normal" transform="translate(779.38,951.50) scale(1.0055,1)" stroke="#000" stroke-width="0.7">6</text>
<text x="0" y="0" font-size="29.7" font-family="Liberation Sans" font-style="italic" font-weight="normal" transform="translate(781.92,1032.00) scale(0.9481,1)" stroke="#000" stroke-width="0.7">4</text>
<text x="0" y="0" font-size="28.5" font-family="Liberation Sans" font-style="italic" font-weight="normal" transform="translate(784.57,1111.70) scale(0.9936,1)" stroke="#000" stroke-width="0.7">2</text>
<text x="0" y="0" font-size="30.5" font-family="Liberation Sans" font-style="italic" font-weight="normal" transform="translate(784.93,1152.70) scale(0.7275,1)" stroke="#000" stroke-width="0.7">1</text>
<text x="0" y="0" font-size="26.5" font-family="Liberation Sans" font-style="italic" font-weight="normal" transform="translate(831.85,1183.00) scale(1.0029,1)" stroke="#000" stroke-width="0.7">0,7</text>
<text x="0" y="0" font-size="26.5" font-family="Liberation Sans" font-style="italic" font-weight="normal" transform="translate(919.27,1183.00) scale(1.1541,1)" stroke="#000" stroke-width="0.7">0,8</text>
<text x="0" y="0" font-size="26.5" font-family="Liberation Sans" font-style="italic" font-weight="normal" transform="translate(1004.67,1183.00) scale(1.0701,1)" stroke="#000" stroke-width="0.7">0,9</text>
<text x="0" y="0" font-size="26.9" font-family="Liberation Sans" font-style="italic" font-weight="normal" transform="translate(1177.90,1183.00) scale(0.8688,1)" stroke="#000" stroke-width="0.7">1,1</text>
<text x="0" y="0" font-size="26.5" font-family="Liberation Sans" font-style="italic" font-weight="normal" transform="translate(1257.63,1183.00) scale(0.8362,1)" stroke="#000" stroke-width="0.7">1,2</text>
<text x="0" y="0" font-size="28.9" font-family="Liberation Sans" font-style="italic" font-weight="normal" transform="translate(1093.72,1183.70) scale(0.7755,1)" stroke="#000" stroke-width="0.7">1</text>
<text x="0" y="0" font-size="26.9" font-family="Liberation Sans" font-style="italic" font-weight="normal" transform="translate(1297.31,1183.40) scale(0.9562,1)" stroke="#000" stroke-width="0.7">K</text>
<text x="0" y="0" font-size="23.1" font-family="Liberation Sans" font-style="italic" font-weight="normal" transform="translate(1323.36,1172.30) scale(0.9852,1)" stroke="#000" stroke-width="0.7">on</text>
<text x="0" y="0" font-size="25.7" font-family="Liberation Sans" font-style="italic" font-weight="normal" transform="translate(1318.66,1193.30) scale(1.0401,1)" stroke="#000" stroke-width="0.7">м</text>
<text x="0" y="0" font-size="27.6" font-family="Liberation Sans" font-style="italic" font-weight="normal" transform="translate(1108.57,799.00) scale(1.4459,1)" stroke="#000" stroke-width="0.7">β</text>
<text x="0" y="0" font-size="16.3" font-family="Liberation Sans" font-style="italic" font-weight="normal" transform="translate(1130.51,804.10) scale(1.1414,1)" stroke="#000" stroke-width="0.7">2</text>
<text x="0" y="0" font-size="11.2" font-family="Liberation Sans" font-style="italic" font-weight="normal" transform="translate(1147.44,796.40) scale(1.6328,1)" stroke="#000" stroke-width="0.7">=</text>
<text x="0" y="0" font-size="26.9" font-family="Liberation Sans" font-style="italic" font-weight="normal" transform="translate(1160.10,799.70) scale(1.0088,1)" stroke="#000" stroke-width="0.7">1,28</text>
<text x="0" y="0" font-size="27.5" font-family="Liberation Sans" font-style="italic" font-weight="normal" transform="translate(1113.67,897.20) scale(0.8832,1)" stroke="#000" stroke-width="0.7">1,2≤</text>
<text x="0" y="0" font-size="26.5" font-family="Liberation Sans" font-style="italic" font-weight="normal" transform="translate(1161.81,897.20) scale(1.2552,1)" stroke="#000" stroke-width="0.7">β</text>
<text x="0" y="0" font-size="14.5" font-family="Liberation Sans" font-style="italic" font-weight="normal" transform="translate(1179.71,903.00) scale(0.7716,1)" stroke="#000" stroke-width="0.7">1</text>
<text x="0" y="0" font-size="27.5" font-family="Liberation Sans" font-style="italic" font-weight="normal" transform="translate(1188.17,897.20) scale(1.0396,1)" stroke="#000" stroke-width="0.7"><1,36</text>
<text x="0" y="0" font-size="30.2" font-family="Liberation Sans" font-style="italic" font-weight="normal" transform="translate(898.06,932.00) scale(0.7885,1)" stroke="#000" stroke-width="0.7">0,9</text>
<text x="0" y="0" font-size="29.4" font-family="Liberation Sans" font-style="italic" font-weight="normal" transform="translate(962.44,892.60) scale(0.7350,1)" stroke="#000" stroke-width="0.7">1,09</text>
<text x="0" y="0" font-size="35.5" font-family="Liberation Sans" font-style="italic" font-weight="normal" transform="translate(1013.92,975.80) scale(0.7264,1)" stroke="#000" stroke-width="0.7">α,б</text>
<text x="0" y="0" font-size="30.9" font-family="Liberation Sans" font-style="italic" font-weight="normal" transform="translate(978.69,1011.60) scale(0.8623,1)" stroke="#000" stroke-width="0.7">α</text>
<text x="0" y="0" font-size="31.9" font-family="Liberation Sans" font-style="italic" font-weight="normal" transform="translate(938.36,1057.70) scale(0.8176,1)" stroke="#000" stroke-width="0.7">б</text>
<text x="0" y="0" font-size="28.6" font-family="Liberation Sans" font-style="italic" font-weight="normal" transform="translate(1134.47,996.40) scale(0.9483,1)" stroke="#000" stroke-width="0.7">α</text>
<text x="0" y="0" font-size="28.9" font-family="Liberation Sans" font-style="italic" font-weight="normal" transform="translate(1196.55,1048.10) scale(0.9792,1)" stroke="#000" stroke-width="0.7">б</text>
<text x="0" y="0" font-size="29.8" font-family="Liberation Sans" font-style="italic" font-weight="normal" transform="translate(176.90,1283.00) scale(0.8779,1)" stroke="#000" stroke-width="0.7">K</text>
<text x="0" y="0" font-size="27.2" font-family="Liberation Sans" font-style="italic" font-weight="normal" transform="translate(194.97,1287.90) scale(0.7303,1)" stroke="#000" stroke-width="0.7">n</text>
<text x="0" y="0" font-size="29.9" font-family="Liberation Sans" font-style="italic" font-weight="normal" transform="translate(177.07,1323.00) scale(0.8088,1)" stroke="#000" stroke-width="0.7">10</text>
<text x="0" y="0" font-size="31.4" font-family="Liberation Sans" font-style="italic" font-weight="normal" transform="translate(185.31,1400.10) scale(0.9487,1)" stroke="#000" stroke-width="0.7">8</text>
<text x="0" y="0" font-size="31.2" font-family="Liberation Sans" font-style="italic" font-weight="normal" transform="translate(182.36,1482.40) scale(0.9353,1)" stroke="#000" stroke-width="0.7">6</text>
<text x="0" y="0" font-size="30.4" font-family="Liberation Sans" font-style="italic" font-weight="normal" transform="translate(183.83,1563.40) scale(0.8676,1)" stroke="#000" stroke-width="0.7">4</text>
<text x="0" y="0" font-size="29.8" font-family="Liberation Sans" font-style="italic" font-weight="normal" transform="translate(184.14,1640.50) scale(0.8279,1)" stroke="#000" stroke-width="0.7">2</text>
<text x="0" y="0" font-size="27.3" font-family="Liberation Sans" font-style="italic" font-weight="normal" transform="translate(185.56,1668.70) scale(0.7634,1)" stroke="#000" stroke-width="0.7">1</text>
<text x="0" y="0" font-size="28.5" font-family="Liberation Sans" font-style="italic" font-weight="normal" transform="translate(203.75,1710.40) scale(0.8508,1)" stroke="#000" stroke-width="0.7">0,7</text>
<text x="0" y="0" font-size="28.5" font-family="Liberation Sans" font-style="italic" font-weight="normal" transform="translate(276.62,1710.40) scale(0.9552,1)" stroke="#000" stroke-width="0.7">0,8</text>
<text x="0" y="0" font-size="28.5" font-family="Liberation Sans" font-style="italic" font-weight="normal" transform="translate(360.04,1710.40) scale(0.9366,1)" stroke="#000" stroke-width="0.7">0,9</text>
<text x="0" y="0" font-size="28.9" font-family="Liberation Sans" font-style="italic" font-weight="normal" transform="translate(531.51,1710.40) scale(0.7888,1)" stroke="#000" stroke-width="0.7">1,1</text>
<text x="0" y="0" font-size="28.5" font-family="Liberation Sans" font-style="italic" font-weight="normal" transform="translate(610.70,1710.40) scale(0.9463,1)" stroke="#000" stroke-width="0.7">1,2</text>
<text x="0" y="0" font-size="25.7" font-family="Liberation Sans" font-style="italic" font-weight="normal" transform="translate(451.42,1709.30) scale(0.7237,1)" stroke="#000" stroke-width="0.7">1</text>
<text x="0" y="0" font-size="26.9" font-family="Liberation Sans" font-style="italic" font-weight="normal" transform="translate(661.61,1710.10) scale(0.9562,1)" stroke="#000" stroke-width="0.7">K</text>
<text x="0" y="0" font-size="23.1" font-family="Liberation Sans" font-style="italic" font-weight="normal" transform="translate(687.66,1699.00) scale(0.9852,1)" stroke="#000" stroke-width="0.7">on</text>
<text x="0" y="0" font-size="25.7" font-family="Liberation Sans" font-style="italic" font-weight="normal" transform="translate(682.96,1720.00) scale(1.0401,1)" stroke="#000" stroke-width="0.7">м</text>
<text x="0" y="0" font-size="27.6" font-family="Liberation Sans" font-style="italic" font-weight="normal" transform="translate(470.57,1328.40) scale(1.4459,1)" stroke="#000" stroke-width="0.7">β</text>
<text x="0" y="0" font-size="16.3" font-family="Liberation Sans" font-style="italic" font-weight="normal" transform="translate(492.51,1333.50) scale(1.1414,1)" stroke="#000" stroke-width="0.7">2</text>
<text x="0" y="0" font-size="17.1" font-family="Liberation Sans" font-style="italic" font-weight="normal" transform="translate(513.45,1320.90) scale(0.8769,1)" stroke="#000" stroke-width="0.7">=</text>
<text x="0" y="0" font-size="29.8" font-family="Liberation Sans" font-style="italic" font-weight="normal" transform="translate(528.32,1329.20) scale(0.8767,1)" stroke="#000" stroke-width="0.7">1,38</text>
<text x="0" y="0" font-size="29.9" font-family="Liberation Sans" font-style="italic" font-weight="normal" transform="translate(479.35,1429.30) scale(0.8359,1)" stroke="#000" stroke-width="0.7">1,36≤</text>
<text x="0" y="0" font-size="28.8" font-family="Liberation Sans" font-style="italic" font-weight="normal" transform="translate(542.81,1429.30) scale(1.1531,1)" stroke="#000" stroke-width="0.7">β</text>
<text x="0" y="0" font-size="14.5" font-family="Liberation Sans" font-style="italic" font-weight="normal" transform="translate(560.71,1435.00) scale(0.7716,1)" stroke="#000" stroke-width="0.7">1</text>
<text x="0" y="0" font-size="30.4" font-family="Liberation Sans" font-style="italic" font-weight="normal" transform="translate(569.97,1429.30) scale(1.0423,1)" stroke="#000" stroke-width="0.7"><1,54</text>
<text x="0" y="0" font-size="30.1" font-family="Liberation Sans" font-style="italic" font-weight="normal" transform="translate(313.38,1421.80) scale(0.7947,1)" stroke="#000" stroke-width="0.7">1,16</text>
<text x="0" y="0" font-size="29.8" font-family="Liberation Sans" font-style="italic" font-weight="normal" transform="translate(772.80,1284.90) scale(0.8779,1)" stroke="#000" stroke-width="0.7">K</text>
<text x="0" y="0" font-size="27.2" font-family="Liberation Sans" font-style="italic" font-weight="normal" transform="translate(790.87,1289.80) scale(0.7303,1)" stroke="#000" stroke-width="0.7">n</text>
<text x="0" y="0" font-size="30.4" font-family="Liberation Sans" font-style="italic" font-weight="normal" transform="translate(775.47,1320.30) scale(0.8004,1)" stroke="#000" stroke-width="0.7">10</text>
<text x="0" y="0" font-size="34" font-family="Liberation Sans" font-style="italic" font-weight="normal" transform="translate(784.55,1399.90) scale(0.9497,1)" stroke="#000" stroke-width="0.7">8</text>
<text x="0" y="0" font-size="30.4" font-family="Liberation Sans" font-style="italic" font-weight="normal" transform="translate(780.28,1480.40) scale(1.0078,1)" stroke="#000" stroke-width="0.7">6</text>
<text x="0" y="0" font-size="30.8" font-family="Liberation Sans" font-style="italic" font-weight="normal" transform="translate(781.82,1559.60) scale(0.9124,1)" stroke="#000" stroke-width="0.7">4</text>
<text x="0" y="0" font-size="29.2" font-family="Liberation Sans" font-style="italic" font-weight="normal" transform="translate(782.15,1641.80) scale(0.9005,1)" stroke="#000" stroke-width="0.7">2</text>
<text x="0" y="0" font-size="30.7" font-family="Liberation Sans" font-style="italic" font-weight="normal" transform="translate(783.06,1672.20) scale(0.8045,1)" stroke="#000" stroke-width="0.7">1</text>
<text x="0" y="0" font-size="29.2" font-family="Liberation Sans" font-style="italic" font-weight="normal" transform="translate(802.85,1711.40) scale(0.9088,1)" stroke="#000" stroke-width="0.7">0,8</text>
<text x="0" y="0" font-size="29.2" font-family="Liberation Sans" font-style="italic" font-weight="normal" transform="translate(879.08,1711.40) scale(0.9601,1)" stroke="#000" stroke-width="0.7">0,9</text>
<text x="0" y="0" font-size="29.7" font-family="Liberation Sans" font-style="italic" font-weight="normal" transform="translate(1050.25,1711.40) scale(0.8485,1)" stroke="#000" stroke-width="0.7">1,1</text>
<text x="0" y="0" font-size="29.2" font-family="Liberation Sans" font-style="italic" font-weight="normal" transform="translate(1136.24,1711.40) scale(0.8673,1)" stroke="#000" stroke-width="0.7">1,2</text>
<text x="0" y="0" font-size="30.7" font-family="Liberation Sans" font-style="italic" font-weight="normal" transform="translate(970.36,1712.00) scale(0.6802,1)" stroke="#000" stroke-width="0.7">1</text>
<text x="0" y="0" font-size="26.9" font-family="Liberation Sans" font-style="italic" font-weight="normal" transform="translate(1185.91,1712.50) scale(0.9562,1)" stroke="#000" stroke-width="0.7">K</text>
<text x="0" y="0" font-size="23.1" font-family="Liberation Sans" font-style="italic" font-weight="normal" transform="translate(1211.96,1701.40) scale(0.9852,1)" stroke="#000" stroke-width="0.7">on</text>
<text x="0" y="0" font-size="25.7" font-family="Liberation Sans" font-style="italic" font-weight="normal" transform="translate(1207.26,1722.40) scale(1.0401,1)" stroke="#000" stroke-width="0.7">м</text>
<text x="0" y="0" font-size="27.6" font-family="Liberation Sans" font-style="italic" font-weight="normal" transform="translate(990.27,1292.00) scale(1.4459,1)" stroke="#000" stroke-width="0.7">β</text>
<text x="0" y="0" font-size="16.3" font-family="Liberation Sans" font-style="italic" font-weight="normal" transform="translate(1012.21,1297.10) scale(1.1414,1)" stroke="#000" stroke-width="0.7">2</text>
<text x="0" y="0" font-size="14.1" font-family="Liberation Sans" font-style="italic" font-weight="normal" transform="translate(1034.92,1286.20) scale(1.4331,1)" stroke="#000" stroke-width="0.7">=</text>
<text x="0" y="0" font-size="29.4" font-family="Liberation Sans" font-style="italic" font-weight="normal" transform="translate(1050.19,1293.00) scale(0.9347,1)" stroke="#000" stroke-width="0.7">1,56</text>
<text x="0" y="0" font-size="28.9" font-family="Liberation Sans" font-style="italic" font-weight="normal" transform="translate(997.41,1427.90) scale(0.9203,1)" stroke="#000" stroke-width="0.7">1,54≤</text>
<text x="0" y="0" font-size="27.5" font-family="Liberation Sans" font-style="italic" font-weight="normal" transform="translate(1064.81,1427.90) scale(1.2110,1)" stroke="#000" stroke-width="0.7">β</text>
<text x="0" y="0" font-size="14.5" font-family="Liberation Sans" font-style="italic" font-weight="normal" transform="translate(1082.71,1434.00) scale(0.7716,1)" stroke="#000" stroke-width="0.7">1</text>
<text x="0" y="0" font-size="28.5" font-family="Liberation Sans" font-style="italic" font-weight="normal" transform="translate(1099.05,1427.90) scale(1.0821,1)" stroke="#000" stroke-width="0.7">≤1,86</text>
<text x="0" y="0" font-size="29.2" font-family="Liberation Sans" font-style="italic" font-weight="normal" transform="translate(854.52,1378.20) scale(0.7625,1)" stroke="#000" stroke-width="0.7">1,31</text>
<text x="0" y="0" font-size="27.5" font-family="Liberation Sans" font-style="normal" font-weight="bold" transform="translate(168.21,1805.00) scale(0.9734,1)" stroke="#000" stroke-width="0.5">Рис.</text>
<text x="0" y="0" font-size="27.5" font-family="Liberation Sans" font-style="normal" font-weight="bold" transform="translate(248.37,1805.00) scale(0.9399,1)" stroke="#000" stroke-width="0.5">115.</text>
<text x="0" y="0" font-size="27.5" font-family="Liberation Sans" font-style="normal" font-weight="bold" transform="translate(313.01,1805.00) scale(1.0824,1)" stroke="#000" stroke-width="0.5">Графики</text>
<text x="0" y="0" font-size="27.5" font-family="Liberation Sans" font-style="normal" font-weight="bold" transform="translate(466.01,1805.00) scale(0.9864,1)" stroke="#000" stroke-width="0.5">для</text>
<text x="0" y="0" font-size="27.5" font-family="Liberation Sans" font-style="normal" font-weight="bold" transform="translate(535.44,1805.00) scale(0.9905,1)" stroke="#000" stroke-width="0.5">определения</text>
<text x="0" y="0" font-size="27.5" font-family="Liberation Sans" font-style="normal" font-weight="bold" transform="translate(735.31,1805.00) scale(0.9920,1)" stroke="#000" stroke-width="0.5">коэффициента</text>
<text x="0" y="0" font-size="27.5" font-family="Liberation Sans" font-style="normal" font-weight="bold" transform="translate(962.31,1805.00) scale(1.0083,1)" stroke="#000" stroke-width="0.5">динамичности</text>
<text x="0" y="0" font-size="27.5" font-family="Liberation Sans" font-style="normal" font-weight="bold" transform="translate(1183.32,1805.00) scale(1.0291,1)" stroke="#000" stroke-width="0.5">по</text>
<text x="0" y="0" font-size="27.5" font-family="Liberation Sans" font-style="normal" font-weight="bold" transform="translate(1238.13,1805.00) scale(1.0268,1)" stroke="#000" stroke-width="0.5">переме-</text>
<text x="0" y="0" font-size="27.5" font-family="Liberation Sans" font-style="normal" font-weight="bold" transform="translate(168.00,1840.00) scale(0.9913,1)" stroke="#000" stroke-width="0.5">щению</text>
<text x="0" y="0" font-size="27.5" font-family="Liberation Sans" font-style="normal" font-weight="bold" transform="translate(279.72,1840.00) scale(0.9598,1)" stroke="#000" stroke-width="0.5">для</text>
<text x="0" y="0" font-size="27.5" font-family="Liberation Sans" font-style="normal" font-weight="bold" transform="translate(344.26,1840.00) scale(1.0716,1)" stroke="#000" stroke-width="0.5">крайних</text>
<text x="0" y="0" font-size="27.5" font-family="Liberation Sans" font-style="normal" font-weight="bold" transform="translate(481.19,1840.00) scale(0.9941,1)" stroke="#000" stroke-width="0.5">пролетов</text>
<text x="0" y="0" font-size="27.5" font-family="Liberation Sans" font-style="normal" font-weight="bold" transform="translate(629.66,1840.00) scale(1.0123,1)" stroke="#000" stroke-width="0.5">неразрезной</text>
<text x="0" y="0" font-size="27.5" font-family="Liberation Sans" font-style="normal" font-weight="bold" transform="translate(822.42,1840.00) scale(1.0043,1)" stroke="#000" stroke-width="0.5">трехпролетной</text>
<text x="0" y="0" font-size="27.5" font-family="Liberation Sans" font-style="normal" font-weight="bold" transform="translate(1049.78,1840.00) scale(1.0460,1)" stroke="#000" stroke-width="0.5">балки</text>
<text x="0" y="0" font-size="27.5" font-family="Liberation Sans" font-style="normal" font-weight="bold" transform="translate(1152.16,1840.00) scale(1.0089,1)" stroke="#000" stroke-width="0.5">при</text>
<text x="0" y="0" font-size="32.1" font-family="Liberation Serif" font-style="normal" font-weight="bold" transform="translate(1219.63,1839.40) scale(0.9011,1)" stroke="#000" stroke-width="0.5">ω</text>
<text x="0" y="0" font-size="31.8" font-family="Liberation Serif" font-style="italic" font-weight="normal" transform="translate(1244.96,1827.90) scale(0.8796,1)" stroke="#000" stroke-width="0.7">н</text>
<text x="0" y="0" font-size="29.9" font-family="Liberation Serif" font-style="normal" font-weight="normal" transform="translate(1242.32,1856.10) scale(1.1261,1)" stroke="#000" stroke-width="0.7">2</text>
<text x="0" y="0" font-size="28.3" font-family="Liberation Serif" font-style="normal" font-weight="normal" transform="translate(1269.22,1838.90) scale(1.2688,1)" stroke="#000" stroke-width="0.7">θ</text>
<text x="0" y="0" font-size="20.2" font-family="Liberation Sans" font-style="normal" font-weight="bold" transform="translate(1287.83,1836.30) scale(2.8246,1)" stroke="#000" stroke-width="0.5">=</text>
<text x="0" y="0" font-size="30.6" font-family="Liberation Sans" font-style="normal" font-weight="bold" transform="translate(1323.18,1838.90) scale(0.8686,1)" stroke="#000" stroke-width="0.5">50</text>
<text x="0" y="0" font-size="43.3" font-family="Liberation Serif" font-style="normal" font-weight="bold" transform="translate(1287.35,2193.60) scale(0.9041,1)" stroke="#000" stroke-width="0.5">223</text>
</g>
</svg>
</body></html>
